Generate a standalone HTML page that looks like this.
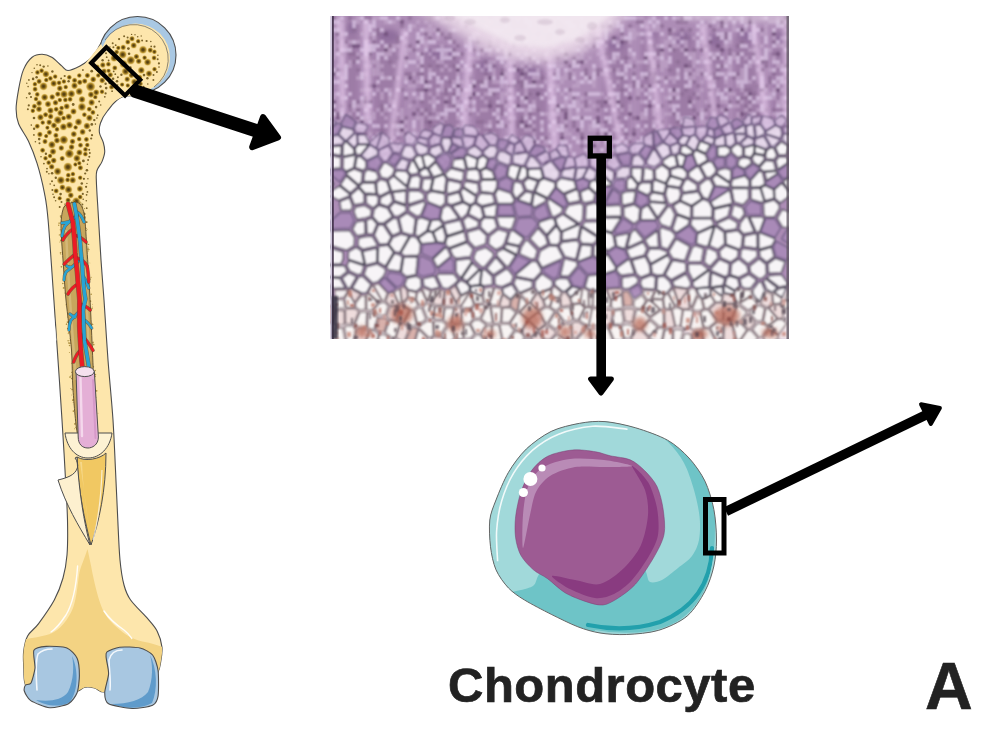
<!DOCTYPE html>
<html><head><meta charset="utf-8"><style>
html,body{margin:0;padding:0;background:#fff;width:1000px;height:731px;overflow:hidden}
svg{position:absolute;left:0;top:0}
.t{position:absolute;font-family:"Liberation Sans",sans-serif;font-weight:bold;color:#222;line-height:1;white-space:nowrap}
</style></head><body>
<svg width="1000" height="731" viewBox="0 0 1000 731"><defs><clipPath id="hc"><rect x="330.5" y="16" width="458.5" height="322.7"/></clipPath><filter id="bl6" x="-50%" y="-50%" width="200%" height="200%"><feGaussianBlur stdDeviation="6"/></filter><filter id="bl3" x="-50%" y="-50%" width="200%" height="200%"><feGaussianBlur stdDeviation="2.5"/></filter><filter id="bl1" x="-10%" y="-10%" width="120%" height="120%"><feGaussianBlur stdDeviation="0.9"/></filter><filter id="bl05" x="-5%" y="-5%" width="110%" height="110%"><feGaussianBlur stdDeviation="0.8"/></filter></defs><g clip-path="url(#hc)"><rect x="330.5" y="16" width="458.5" height="322.7" fill="#ad8db6"/><g opacity="0.45" filter="url(#bl3)"><rect x="345" y="20" width="14" height="130" rx="7" fill="#8b6894"/><ellipse cx="352" cy="28" rx="4.9" ry="6" fill="#6c4a80"/><rect x="373" y="28" width="30" height="122" rx="15" fill="#8b6894"/><ellipse cx="388" cy="36" rx="10.5" ry="6" fill="#6c4a80"/><rect x="420" y="45" width="40" height="105" rx="20" fill="#8b6894"/><ellipse cx="440" cy="53" rx="14" ry="6" fill="#6c4a80"/><rect x="474" y="58" width="26" height="92" rx="13" fill="#8b6894"/><ellipse cx="487" cy="66" rx="9.1" ry="6" fill="#6c4a80"/><rect x="513" y="64" width="34" height="86" rx="17" fill="#8b6894"/><ellipse cx="530" cy="72" rx="11.9" ry="6" fill="#6c4a80"/><rect x="603" y="36" width="26" height="114" rx="13" fill="#8b6894"/><ellipse cx="616" cy="44" rx="9.1" ry="6" fill="#6c4a80"/><rect x="641" y="26" width="18" height="124" rx="9" fill="#8b6894"/><ellipse cx="650" cy="34" rx="6.3" ry="6" fill="#6c4a80"/><rect x="669" y="30" width="26" height="120" rx="13" fill="#8b6894"/><ellipse cx="682" cy="38" rx="9.1" ry="6" fill="#6c4a80"/><rect x="705" y="32" width="20" height="118" rx="10" fill="#8b6894"/><ellipse cx="715" cy="40" rx="7" ry="6" fill="#6c4a80"/><rect x="734" y="28" width="28" height="122" rx="14" fill="#8b6894"/><ellipse cx="748" cy="36" rx="9.8" ry="6" fill="#6c4a80"/><rect x="772" y="30" width="16" height="120" rx="8" fill="#8b6894"/><ellipse cx="780" cy="38" rx="5.6" ry="6" fill="#6c4a80"/></g><g opacity="0.7" filter="url(#bl05)"><path fill="#8c6c94" d="M332 16h4v4h-4zM348 16h4v4h-4zM364 16h4v4h-4zM368 16h4v4h-4zM408 16h4v4h-4zM444 16h4v4h-4zM452 16h4v4h-4zM460 16h4v4h-4zM488 16h4v4h-4zM680 16h4v4h-4zM748 16h4v4h-4zM456 20h4v4h-4zM476 20h4v4h-4zM512 20h4v4h-4zM520 20h4v4h-4zM548 20h4v4h-4zM572 20h4v4h-4zM576 20h4v4h-4zM600 20h4v4h-4zM636 20h4v4h-4zM640 20h4v4h-4zM676 20h4v4h-4zM680 20h4v4h-4zM684 20h4v4h-4zM780 20h4v4h-4zM400 24h4v4h-4zM512 24h4v4h-4zM516 24h4v4h-4zM520 24h4v4h-4zM524 24h4v4h-4zM556 24h4v4h-4zM560 24h4v4h-4zM576 24h4v4h-4zM608 24h4v4h-4zM628 24h4v4h-4zM660 24h4v4h-4zM708 24h4v4h-4zM720 24h4v4h-4zM784 24h4v4h-4zM352 28h4v4h-4zM376 28h4v4h-4zM564 28h4v4h-4zM648 28h4v4h-4zM680 28h4v4h-4zM688 28h4v4h-4zM712 28h4v4h-4zM760 28h4v4h-4zM376 32h4v4h-4zM424 32h4v4h-4zM440 32h4v4h-4zM448 32h4v4h-4zM536 32h4v4h-4zM548 32h4v4h-4zM588 32h4v4h-4zM620 32h4v4h-4zM668 32h4v4h-4zM724 32h4v4h-4zM784 32h4v4h-4zM368 36h4v4h-4zM396 36h4v4h-4zM428 36h4v4h-4zM444 36h4v4h-4zM448 36h4v4h-4zM520 36h4v4h-4zM564 36h4v4h-4zM592 36h4v4h-4zM684 36h4v4h-4zM716 36h4v4h-4zM724 36h4v4h-4zM336 40h4v4h-4zM344 40h4v4h-4zM372 40h4v4h-4zM396 40h4v4h-4zM452 40h4v4h-4zM476 40h4v4h-4zM488 40h4v4h-4zM504 40h4v4h-4zM512 40h4v4h-4zM532 40h4v4h-4zM624 40h4v4h-4zM740 40h4v4h-4zM772 40h4v4h-4zM784 40h4v4h-4zM388 44h4v4h-4zM408 44h4v4h-4zM456 44h4v4h-4zM488 44h4v4h-4zM524 44h4v4h-4zM592 44h4v4h-4zM652 44h4v4h-4zM668 44h4v4h-4zM704 44h4v4h-4zM736 44h4v4h-4zM756 44h4v4h-4zM784 44h4v4h-4zM336 48h4v4h-4zM412 48h4v4h-4zM452 48h4v4h-4zM472 48h4v4h-4zM480 48h4v4h-4zM552 48h4v4h-4zM656 48h4v4h-4zM672 48h4v4h-4zM692 48h4v4h-4zM728 48h4v4h-4zM340 52h4v4h-4zM348 52h4v4h-4zM352 52h4v4h-4zM420 52h4v4h-4zM460 52h4v4h-4zM548 52h4v4h-4zM604 52h4v4h-4zM656 52h4v4h-4zM728 52h4v4h-4zM736 52h4v4h-4zM752 52h4v4h-4zM772 52h4v4h-4zM788 52h4v4h-4zM356 56h4v4h-4zM368 56h4v4h-4zM396 56h4v4h-4zM452 56h4v4h-4zM528 56h4v4h-4zM556 56h4v4h-4zM572 56h4v4h-4zM624 56h4v4h-4zM708 56h4v4h-4zM716 56h4v4h-4zM352 60h4v4h-4zM388 60h4v4h-4zM484 60h4v4h-4zM544 60h4v4h-4zM576 60h4v4h-4zM676 60h4v4h-4zM764 60h4v4h-4zM420 64h4v4h-4zM428 64h4v4h-4zM436 64h4v4h-4zM452 64h4v4h-4zM472 64h4v4h-4zM492 64h4v4h-4zM512 64h4v4h-4zM568 64h4v4h-4zM632 64h4v4h-4zM648 64h4v4h-4zM656 64h4v4h-4zM688 64h4v4h-4zM720 64h4v4h-4zM764 64h4v4h-4zM336 68h4v4h-4zM340 68h4v4h-4zM356 68h4v4h-4zM500 68h4v4h-4zM520 68h4v4h-4zM584 68h4v4h-4zM596 68h4v4h-4zM600 68h4v4h-4zM612 68h4v4h-4zM668 68h4v4h-4zM716 68h4v4h-4zM404 72h4v4h-4zM408 72h4v4h-4zM416 72h4v4h-4zM420 72h4v4h-4zM484 72h4v4h-4zM524 72h4v4h-4zM552 72h4v4h-4zM568 72h4v4h-4zM584 72h4v4h-4zM596 72h4v4h-4zM632 72h4v4h-4zM648 72h4v4h-4zM688 72h4v4h-4zM700 72h4v4h-4zM708 72h4v4h-4zM712 72h4v4h-4zM736 72h4v4h-4zM772 72h4v4h-4zM392 76h4v4h-4zM468 76h4v4h-4zM540 76h4v4h-4zM568 76h4v4h-4zM588 76h4v4h-4zM620 76h4v4h-4zM644 76h4v4h-4zM664 76h4v4h-4zM712 76h4v4h-4zM716 76h4v4h-4zM732 76h4v4h-4zM768 76h4v4h-4zM412 80h4v4h-4zM448 80h4v4h-4zM476 80h4v4h-4zM480 80h4v4h-4zM516 80h4v4h-4zM520 80h4v4h-4zM632 80h4v4h-4zM656 80h4v4h-4zM692 80h4v4h-4zM768 80h4v4h-4zM368 84h4v4h-4zM512 84h4v4h-4zM520 84h4v4h-4zM632 84h4v4h-4zM640 84h4v4h-4zM696 84h4v4h-4zM756 84h4v4h-4zM764 84h4v4h-4zM400 88h4v4h-4zM416 88h4v4h-4zM420 88h4v4h-4zM444 88h4v4h-4zM460 88h4v4h-4zM568 88h4v4h-4zM620 88h4v4h-4zM684 88h4v4h-4zM744 88h4v4h-4zM748 88h4v4h-4zM444 92h4v4h-4zM452 92h4v4h-4zM492 92h4v4h-4zM508 92h4v4h-4zM528 92h4v4h-4zM584 92h4v4h-4zM680 92h4v4h-4zM692 92h4v4h-4zM752 92h4v4h-4zM364 96h4v4h-4zM404 96h4v4h-4zM572 96h4v4h-4zM608 96h4v4h-4zM636 96h4v4h-4zM672 96h4v4h-4zM688 96h4v4h-4zM696 96h4v4h-4zM740 96h4v4h-4zM744 96h4v4h-4zM356 100h4v4h-4zM412 100h4v4h-4zM420 100h4v4h-4zM448 100h4v4h-4zM488 100h4v4h-4zM504 100h4v4h-4zM584 100h4v4h-4zM596 100h4v4h-4zM600 100h4v4h-4zM668 100h4v4h-4zM728 100h4v4h-4zM736 100h4v4h-4zM748 100h4v4h-4zM340 104h4v4h-4zM348 104h4v4h-4zM380 104h4v4h-4zM452 104h4v4h-4zM468 104h4v4h-4zM496 104h4v4h-4zM500 104h4v4h-4zM584 104h4v4h-4zM600 104h4v4h-4zM608 104h4v4h-4zM620 104h4v4h-4zM660 104h4v4h-4zM744 104h4v4h-4zM332 108h4v4h-4zM356 108h4v4h-4zM380 108h4v4h-4zM416 108h4v4h-4zM424 108h4v4h-4zM464 108h4v4h-4zM500 108h4v4h-4zM536 108h4v4h-4zM552 108h4v4h-4zM560 108h4v4h-4zM564 108h4v4h-4zM596 108h4v4h-4zM692 108h4v4h-4zM704 108h4v4h-4zM712 108h4v4h-4zM748 108h4v4h-4zM764 108h4v4h-4zM772 108h4v4h-4zM780 108h4v4h-4zM420 112h4v4h-4zM428 112h4v4h-4zM468 112h4v4h-4zM500 112h4v4h-4zM528 112h4v4h-4zM672 112h4v4h-4zM696 112h4v4h-4zM744 112h4v4h-4zM756 112h4v4h-4zM344 116h4v4h-4zM348 116h4v4h-4zM356 116h4v4h-4zM404 116h4v4h-4zM520 116h4v4h-4zM556 116h4v4h-4zM580 116h4v4h-4zM632 116h4v4h-4zM768 116h4v4h-4zM344 120h4v4h-4zM392 120h4v4h-4zM396 120h4v4h-4zM424 120h4v4h-4zM476 120h4v4h-4zM480 120h4v4h-4zM496 120h4v4h-4zM508 120h4v4h-4zM516 120h4v4h-4zM556 120h4v4h-4zM572 120h4v4h-4zM604 120h4v4h-4zM660 120h4v4h-4zM676 120h4v4h-4zM428 124h4v4h-4zM444 124h4v4h-4zM504 124h4v4h-4zM516 124h4v4h-4zM528 124h4v4h-4zM564 124h4v4h-4zM572 124h4v4h-4zM680 124h4v4h-4zM684 124h4v4h-4zM708 124h4v4h-4zM736 124h4v4h-4zM744 124h4v4h-4zM344 128h4v4h-4zM352 128h4v4h-4zM356 128h4v4h-4zM380 128h4v4h-4zM392 128h4v4h-4zM456 128h4v4h-4zM488 128h4v4h-4zM532 128h4v4h-4zM632 128h4v4h-4zM652 128h4v4h-4zM784 128h4v4h-4zM364 132h4v4h-4zM404 132h4v4h-4zM560 132h4v4h-4zM580 132h4v4h-4zM596 132h4v4h-4zM624 132h4v4h-4zM652 132h4v4h-4zM656 132h4v4h-4zM660 132h4v4h-4zM672 132h4v4h-4zM696 132h4v4h-4zM780 132h4v4h-4zM356 136h4v4h-4zM388 136h4v4h-4zM472 136h4v4h-4zM480 136h4v4h-4zM492 136h4v4h-4zM544 136h4v4h-4zM600 136h4v4h-4zM648 136h4v4h-4zM676 136h4v4h-4zM700 136h4v4h-4zM744 136h4v4h-4zM340 140h4v4h-4zM356 140h4v4h-4zM424 140h4v4h-4zM432 140h4v4h-4zM500 140h4v4h-4zM508 140h4v4h-4zM516 140h4v4h-4zM620 140h4v4h-4zM628 140h4v4h-4zM668 140h4v4h-4zM732 140h4v4h-4zM396 144h4v4h-4zM448 144h4v4h-4zM472 144h4v4h-4zM484 144h4v4h-4zM524 144h4v4h-4zM548 144h4v4h-4zM580 144h4v4h-4zM648 144h4v4h-4zM716 144h4v4h-4zM728 144h4v4h-4zM760 144h4v4h-4zM776 144h4v4h-4zM340 148h4v4h-4zM372 148h4v4h-4zM428 148h4v4h-4zM452 148h4v4h-4zM492 148h4v4h-4zM516 148h4v4h-4zM524 148h4v4h-4zM536 148h4v4h-4zM656 148h4v4h-4zM740 148h4v4h-4zM768 148h4v4h-4zM772 148h4v4h-4zM364 152h4v4h-4zM372 152h4v4h-4zM392 152h4v4h-4zM416 152h4v4h-4zM500 152h4v4h-4zM520 152h4v4h-4zM552 152h4v4h-4zM600 152h4v4h-4zM616 152h4v4h-4zM632 152h4v4h-4zM424 156h4v4h-4zM436 156h4v4h-4zM440 156h4v4h-4zM516 156h4v4h-4zM544 156h4v4h-4zM584 156h4v4h-4zM428 160h4v4h-4zM444 160h4v4h-4zM532 160h4v4h-4zM588 160h4v4h-4zM608 160h4v4h-4zM620 160h4v4h-4zM644 160h4v4h-4zM408 164h4v4h-4zM588 164h4v4h-4zM380 168h4v4h-4zM388 168h4v4h-4zM548 168h4v4h-4zM552 168h4v4h-4zM596 168h4v4h-4zM632 168h4v4h-4zM520 172h4v4h-4zM572 172h4v4h-4zM592 172h4v4h-4zM616 172h4v4h-4zM400 176h4v4h-4zM536 176h4v4h-4zM548 176h4v4h-4zM580 176h4v4h-4zM588 176h4v4h-4zM596 176h4v4h-4zM612 176h4v4h-4z"/><path fill="#c0a4c8" d="M336 16h4v4h-4zM356 16h4v4h-4zM372 16h4v4h-4zM376 16h4v4h-4zM432 16h4v4h-4zM448 16h4v4h-4zM484 16h4v4h-4zM496 16h4v4h-4zM504 16h4v4h-4zM516 16h4v4h-4zM532 16h4v4h-4zM560 16h4v4h-4zM572 16h4v4h-4zM576 16h4v4h-4zM588 16h4v4h-4zM592 16h4v4h-4zM620 16h4v4h-4zM636 16h4v4h-4zM640 16h4v4h-4zM648 16h4v4h-4zM676 16h4v4h-4zM696 16h4v4h-4zM712 16h4v4h-4zM720 16h4v4h-4zM736 16h4v4h-4zM760 16h4v4h-4zM776 16h4v4h-4zM788 16h4v4h-4zM356 20h4v4h-4zM384 20h4v4h-4zM392 20h4v4h-4zM416 20h4v4h-4zM424 20h4v4h-4zM440 20h4v4h-4zM444 20h4v4h-4zM532 20h4v4h-4zM552 20h4v4h-4zM580 20h4v4h-4zM584 20h4v4h-4zM612 20h4v4h-4zM644 20h4v4h-4zM652 20h4v4h-4zM708 20h4v4h-4zM724 20h4v4h-4zM744 20h4v4h-4zM752 20h4v4h-4zM768 20h4v4h-4zM772 20h4v4h-4zM336 24h4v4h-4zM412 24h4v4h-4zM428 24h4v4h-4zM460 24h4v4h-4zM532 24h4v4h-4zM548 24h4v4h-4zM552 24h4v4h-4zM612 24h4v4h-4zM644 24h4v4h-4zM656 24h4v4h-4zM700 24h4v4h-4zM704 24h4v4h-4zM716 24h4v4h-4zM732 24h4v4h-4zM764 24h4v4h-4zM788 24h4v4h-4zM424 28h4v4h-4zM428 28h4v4h-4zM432 28h4v4h-4zM448 28h4v4h-4zM456 28h4v4h-4zM476 28h4v4h-4zM504 28h4v4h-4zM508 28h4v4h-4zM516 28h4v4h-4zM532 28h4v4h-4zM544 28h4v4h-4zM560 28h4v4h-4zM568 28h4v4h-4zM584 28h4v4h-4zM600 28h4v4h-4zM608 28h4v4h-4zM628 28h4v4h-4zM632 28h4v4h-4zM652 28h4v4h-4zM656 28h4v4h-4zM672 28h4v4h-4zM700 28h4v4h-4zM732 28h4v4h-4zM744 28h4v4h-4zM764 28h4v4h-4zM340 32h4v4h-4zM360 32h4v4h-4zM428 32h4v4h-4zM564 32h4v4h-4zM632 32h4v4h-4zM636 32h4v4h-4zM644 32h4v4h-4zM680 32h4v4h-4zM760 32h4v4h-4zM764 32h4v4h-4zM372 36h4v4h-4zM436 36h4v4h-4zM516 36h4v4h-4zM532 36h4v4h-4zM540 36h4v4h-4zM552 36h4v4h-4zM560 36h4v4h-4zM580 36h4v4h-4zM584 36h4v4h-4zM620 36h4v4h-4zM632 36h4v4h-4zM672 36h4v4h-4zM676 36h4v4h-4zM692 36h4v4h-4zM708 36h4v4h-4zM772 36h4v4h-4zM780 36h4v4h-4zM784 36h4v4h-4zM332 40h4v4h-4zM340 40h4v4h-4zM348 40h4v4h-4zM356 40h4v4h-4zM404 40h4v4h-4zM424 40h4v4h-4zM464 40h4v4h-4zM492 40h4v4h-4zM500 40h4v4h-4zM568 40h4v4h-4zM588 40h4v4h-4zM616 40h4v4h-4zM628 40h4v4h-4zM640 40h4v4h-4zM664 40h4v4h-4zM668 40h4v4h-4zM684 40h4v4h-4zM700 40h4v4h-4zM728 40h4v4h-4zM332 44h4v4h-4zM340 44h4v4h-4zM344 44h4v4h-4zM392 44h4v4h-4zM396 44h4v4h-4zM424 44h4v4h-4zM440 44h4v4h-4zM476 44h4v4h-4zM480 44h4v4h-4zM484 44h4v4h-4zM504 44h4v4h-4zM508 44h4v4h-4zM516 44h4v4h-4zM520 44h4v4h-4zM580 44h4v4h-4zM588 44h4v4h-4zM604 44h4v4h-4zM656 44h4v4h-4zM664 44h4v4h-4zM672 44h4v4h-4zM676 44h4v4h-4zM684 44h4v4h-4zM724 44h4v4h-4zM760 44h4v4h-4zM776 44h4v4h-4zM780 44h4v4h-4zM332 48h4v4h-4zM388 48h4v4h-4zM404 48h4v4h-4zM408 48h4v4h-4zM432 48h4v4h-4zM476 48h4v4h-4zM524 48h4v4h-4zM572 48h4v4h-4zM580 48h4v4h-4zM584 48h4v4h-4zM680 48h4v4h-4zM704 48h4v4h-4zM748 48h4v4h-4zM752 48h4v4h-4zM768 48h4v4h-4zM332 52h4v4h-4zM356 52h4v4h-4zM384 52h4v4h-4zM388 52h4v4h-4zM404 52h4v4h-4zM428 52h4v4h-4zM444 52h4v4h-4zM480 52h4v4h-4zM488 52h4v4h-4zM512 52h4v4h-4zM520 52h4v4h-4zM528 52h4v4h-4zM580 52h4v4h-4zM596 52h4v4h-4zM628 52h4v4h-4zM660 52h4v4h-4zM688 52h4v4h-4zM692 52h4v4h-4zM712 52h4v4h-4zM732 52h4v4h-4zM332 56h4v4h-4zM360 56h4v4h-4zM364 56h4v4h-4zM416 56h4v4h-4zM432 56h4v4h-4zM468 56h4v4h-4zM472 56h4v4h-4zM476 56h4v4h-4zM508 56h4v4h-4zM512 56h4v4h-4zM516 56h4v4h-4zM524 56h4v4h-4zM536 56h4v4h-4zM544 56h4v4h-4zM564 56h4v4h-4zM576 56h4v4h-4zM580 56h4v4h-4zM588 56h4v4h-4zM600 56h4v4h-4zM616 56h4v4h-4zM632 56h4v4h-4zM648 56h4v4h-4zM656 56h4v4h-4zM692 56h4v4h-4zM700 56h4v4h-4zM732 56h4v4h-4zM744 56h4v4h-4zM772 56h4v4h-4zM348 60h4v4h-4zM372 60h4v4h-4zM376 60h4v4h-4zM404 60h4v4h-4zM436 60h4v4h-4zM440 60h4v4h-4zM488 60h4v4h-4zM492 60h4v4h-4zM508 60h4v4h-4zM512 60h4v4h-4zM524 60h4v4h-4zM552 60h4v4h-4zM584 60h4v4h-4zM604 60h4v4h-4zM612 60h4v4h-4zM628 60h4v4h-4zM636 60h4v4h-4zM640 60h4v4h-4zM652 60h4v4h-4zM660 60h4v4h-4zM664 60h4v4h-4zM692 60h4v4h-4zM700 60h4v4h-4zM708 60h4v4h-4zM724 60h4v4h-4zM752 60h4v4h-4zM336 64h4v4h-4zM348 64h4v4h-4zM364 64h4v4h-4zM368 64h4v4h-4zM376 64h4v4h-4zM380 64h4v4h-4zM392 64h4v4h-4zM416 64h4v4h-4zM444 64h4v4h-4zM484 64h4v4h-4zM504 64h4v4h-4zM520 64h4v4h-4zM528 64h4v4h-4zM556 64h4v4h-4zM560 64h4v4h-4zM652 64h4v4h-4zM660 64h4v4h-4zM664 64h4v4h-4zM692 64h4v4h-4zM728 64h4v4h-4zM748 64h4v4h-4zM776 64h4v4h-4zM780 64h4v4h-4zM372 68h4v4h-4zM376 68h4v4h-4zM428 68h4v4h-4zM440 68h4v4h-4zM448 68h4v4h-4zM460 68h4v4h-4zM464 68h4v4h-4zM480 68h4v4h-4zM492 68h4v4h-4zM524 68h4v4h-4zM536 68h4v4h-4zM568 68h4v4h-4zM592 68h4v4h-4zM608 68h4v4h-4zM616 68h4v4h-4zM660 68h4v4h-4zM684 68h4v4h-4zM688 68h4v4h-4zM696 68h4v4h-4zM700 68h4v4h-4zM728 68h4v4h-4zM740 68h4v4h-4zM756 68h4v4h-4zM768 68h4v4h-4zM364 72h4v4h-4zM372 72h4v4h-4zM376 72h4v4h-4zM380 72h4v4h-4zM412 72h4v4h-4zM456 72h4v4h-4zM492 72h4v4h-4zM504 72h4v4h-4zM548 72h4v4h-4zM564 72h4v4h-4zM572 72h4v4h-4zM600 72h4v4h-4zM604 72h4v4h-4zM624 72h4v4h-4zM676 72h4v4h-4zM692 72h4v4h-4zM696 72h4v4h-4zM724 72h4v4h-4zM740 72h4v4h-4zM760 72h4v4h-4zM784 72h4v4h-4zM340 76h4v4h-4zM356 76h4v4h-4zM384 76h4v4h-4zM396 76h4v4h-4zM404 76h4v4h-4zM484 76h4v4h-4zM520 76h4v4h-4zM532 76h4v4h-4zM536 76h4v4h-4zM560 76h4v4h-4zM564 76h4v4h-4zM640 76h4v4h-4zM660 76h4v4h-4zM668 76h4v4h-4zM672 76h4v4h-4zM688 76h4v4h-4zM692 76h4v4h-4zM704 76h4v4h-4zM736 76h4v4h-4zM740 76h4v4h-4zM416 80h4v4h-4zM452 80h4v4h-4zM460 80h4v4h-4zM492 80h4v4h-4zM496 80h4v4h-4zM544 80h4v4h-4zM560 80h4v4h-4zM576 80h4v4h-4zM584 80h4v4h-4zM592 80h4v4h-4zM608 80h4v4h-4zM616 80h4v4h-4zM672 80h4v4h-4zM700 80h4v4h-4zM712 80h4v4h-4zM724 80h4v4h-4zM748 80h4v4h-4zM776 80h4v4h-4zM784 80h4v4h-4zM408 84h4v4h-4zM412 84h4v4h-4zM440 84h4v4h-4zM500 84h4v4h-4zM536 84h4v4h-4zM548 84h4v4h-4zM552 84h4v4h-4zM556 84h4v4h-4zM572 84h4v4h-4zM576 84h4v4h-4zM592 84h4v4h-4zM628 84h4v4h-4zM644 84h4v4h-4zM708 84h4v4h-4zM736 84h4v4h-4zM360 88h4v4h-4zM364 88h4v4h-4zM368 88h4v4h-4zM376 88h4v4h-4zM388 88h4v4h-4zM440 88h4v4h-4zM508 88h4v4h-4zM524 88h4v4h-4zM636 88h4v4h-4zM640 88h4v4h-4zM700 88h4v4h-4zM716 88h4v4h-4zM740 88h4v4h-4zM764 88h4v4h-4zM772 88h4v4h-4zM780 88h4v4h-4zM332 92h4v4h-4zM380 92h4v4h-4zM428 92h4v4h-4zM436 92h4v4h-4zM460 92h4v4h-4zM468 92h4v4h-4zM484 92h4v4h-4zM500 92h4v4h-4zM504 92h4v4h-4zM524 92h4v4h-4zM560 92h4v4h-4zM568 92h4v4h-4zM600 92h4v4h-4zM636 92h4v4h-4zM648 92h4v4h-4zM668 92h4v4h-4zM672 92h4v4h-4zM676 92h4v4h-4zM696 92h4v4h-4zM708 92h4v4h-4zM728 92h4v4h-4zM732 92h4v4h-4zM744 92h4v4h-4zM760 92h4v4h-4zM768 92h4v4h-4zM332 96h4v4h-4zM340 96h4v4h-4zM380 96h4v4h-4zM388 96h4v4h-4zM416 96h4v4h-4zM432 96h4v4h-4zM444 96h4v4h-4zM460 96h4v4h-4zM480 96h4v4h-4zM500 96h4v4h-4zM512 96h4v4h-4zM568 96h4v4h-4zM580 96h4v4h-4zM604 96h4v4h-4zM664 96h4v4h-4zM760 96h4v4h-4zM772 96h4v4h-4zM780 96h4v4h-4zM360 100h4v4h-4zM388 100h4v4h-4zM392 100h4v4h-4zM428 100h4v4h-4zM432 100h4v4h-4zM456 100h4v4h-4zM484 100h4v4h-4zM500 100h4v4h-4zM520 100h4v4h-4zM532 100h4v4h-4zM564 100h4v4h-4zM576 100h4v4h-4zM588 100h4v4h-4zM608 100h4v4h-4zM640 100h4v4h-4zM692 100h4v4h-4zM704 100h4v4h-4zM720 100h4v4h-4zM724 100h4v4h-4zM740 100h4v4h-4zM756 100h4v4h-4zM776 100h4v4h-4zM780 100h4v4h-4zM356 104h4v4h-4zM360 104h4v4h-4zM364 104h4v4h-4zM408 104h4v4h-4zM444 104h4v4h-4zM472 104h4v4h-4zM504 104h4v4h-4zM564 104h4v4h-4zM576 104h4v4h-4zM580 104h4v4h-4zM592 104h4v4h-4zM628 104h4v4h-4zM668 104h4v4h-4zM732 104h4v4h-4zM736 104h4v4h-4zM748 104h4v4h-4zM780 104h4v4h-4zM784 104h4v4h-4zM340 108h4v4h-4zM352 108h4v4h-4zM376 108h4v4h-4zM384 108h4v4h-4zM400 108h4v4h-4zM420 108h4v4h-4zM432 108h4v4h-4zM468 108h4v4h-4zM480 108h4v4h-4zM484 108h4v4h-4zM524 108h4v4h-4zM532 108h4v4h-4zM568 108h4v4h-4zM584 108h4v4h-4zM588 108h4v4h-4zM620 108h4v4h-4zM628 108h4v4h-4zM652 108h4v4h-4zM656 108h4v4h-4zM700 108h4v4h-4zM720 108h4v4h-4zM744 108h4v4h-4zM756 108h4v4h-4zM788 108h4v4h-4zM348 112h4v4h-4zM372 112h4v4h-4zM380 112h4v4h-4zM396 112h4v4h-4zM400 112h4v4h-4zM424 112h4v4h-4zM436 112h4v4h-4zM476 112h4v4h-4zM496 112h4v4h-4zM524 112h4v4h-4zM544 112h4v4h-4zM548 112h4v4h-4zM552 112h4v4h-4zM556 112h4v4h-4zM568 112h4v4h-4zM576 112h4v4h-4zM640 112h4v4h-4zM652 112h4v4h-4zM664 112h4v4h-4zM668 112h4v4h-4zM704 112h4v4h-4zM712 112h4v4h-4zM736 112h4v4h-4zM748 112h4v4h-4zM772 112h4v4h-4zM788 112h4v4h-4zM340 116h4v4h-4zM364 116h4v4h-4zM368 116h4v4h-4zM372 116h4v4h-4zM384 116h4v4h-4zM400 116h4v4h-4zM416 116h4v4h-4zM420 116h4v4h-4zM428 116h4v4h-4zM432 116h4v4h-4zM444 116h4v4h-4zM456 116h4v4h-4zM508 116h4v4h-4zM512 116h4v4h-4zM548 116h4v4h-4zM568 116h4v4h-4zM640 116h4v4h-4zM644 116h4v4h-4zM680 116h4v4h-4zM712 116h4v4h-4zM736 116h4v4h-4zM788 116h4v4h-4zM336 120h4v4h-4zM356 120h4v4h-4zM364 120h4v4h-4zM404 120h4v4h-4zM420 120h4v4h-4zM440 120h4v4h-4zM488 120h4v4h-4zM564 120h4v4h-4zM652 120h4v4h-4zM656 120h4v4h-4zM692 120h4v4h-4zM700 120h4v4h-4zM704 120h4v4h-4zM720 120h4v4h-4zM740 120h4v4h-4zM344 124h4v4h-4zM392 124h4v4h-4zM420 124h4v4h-4zM436 124h4v4h-4zM456 124h4v4h-4zM464 124h4v4h-4zM484 124h4v4h-4zM532 124h4v4h-4zM540 124h4v4h-4zM556 124h4v4h-4zM588 124h4v4h-4zM600 124h4v4h-4zM616 124h4v4h-4zM660 124h4v4h-4zM668 124h4v4h-4zM692 124h4v4h-4zM704 124h4v4h-4zM752 124h4v4h-4zM772 124h4v4h-4zM776 124h4v4h-4zM396 128h4v4h-4zM404 128h4v4h-4zM412 128h4v4h-4zM420 128h4v4h-4zM432 128h4v4h-4zM476 128h4v4h-4zM524 128h4v4h-4zM528 128h4v4h-4zM548 128h4v4h-4zM564 128h4v4h-4zM580 128h4v4h-4zM588 128h4v4h-4zM592 128h4v4h-4zM612 128h4v4h-4zM616 128h4v4h-4zM640 128h4v4h-4zM656 128h4v4h-4zM696 128h4v4h-4zM708 128h4v4h-4zM720 128h4v4h-4zM724 128h4v4h-4zM732 128h4v4h-4zM744 128h4v4h-4zM776 128h4v4h-4zM340 132h4v4h-4zM352 132h4v4h-4zM368 132h4v4h-4zM376 132h4v4h-4zM400 132h4v4h-4zM408 132h4v4h-4zM416 132h4v4h-4zM424 132h4v4h-4zM468 132h4v4h-4zM484 132h4v4h-4zM492 132h4v4h-4zM532 132h4v4h-4zM552 132h4v4h-4zM564 132h4v4h-4zM568 132h4v4h-4zM600 132h4v4h-4zM680 132h4v4h-4zM712 132h4v4h-4zM740 132h4v4h-4zM772 132h4v4h-4zM784 132h4v4h-4zM788 132h4v4h-4zM340 136h4v4h-4zM344 136h4v4h-4zM352 136h4v4h-4zM360 136h4v4h-4zM384 136h4v4h-4zM392 136h4v4h-4zM404 136h4v4h-4zM412 136h4v4h-4zM420 136h4v4h-4zM440 136h4v4h-4zM444 136h4v4h-4zM456 136h4v4h-4zM520 136h4v4h-4zM576 136h4v4h-4zM628 136h4v4h-4zM664 136h4v4h-4zM672 136h4v4h-4zM680 136h4v4h-4zM780 136h4v4h-4zM336 140h4v4h-4zM368 140h4v4h-4zM376 140h4v4h-4zM396 140h4v4h-4zM428 140h4v4h-4zM440 140h4v4h-4zM492 140h4v4h-4zM496 140h4v4h-4zM520 140h4v4h-4zM544 140h4v4h-4zM588 140h4v4h-4zM596 140h4v4h-4zM644 140h4v4h-4zM648 140h4v4h-4zM656 140h4v4h-4zM684 140h4v4h-4zM688 140h4v4h-4zM780 140h4v4h-4zM364 144h4v4h-4zM376 144h4v4h-4zM492 144h4v4h-4zM504 144h4v4h-4zM520 144h4v4h-4zM528 144h4v4h-4zM552 144h4v4h-4zM604 144h4v4h-4zM624 144h4v4h-4zM660 144h4v4h-4zM668 144h4v4h-4zM676 144h4v4h-4zM712 144h4v4h-4zM724 144h4v4h-4zM732 144h4v4h-4zM736 144h4v4h-4zM740 144h4v4h-4zM752 144h4v4h-4zM344 148h4v4h-4zM356 148h4v4h-4zM388 148h4v4h-4zM400 148h4v4h-4zM412 148h4v4h-4zM420 148h4v4h-4zM424 148h4v4h-4zM432 148h4v4h-4zM488 148h4v4h-4zM496 148h4v4h-4zM504 148h4v4h-4zM508 148h4v4h-4zM512 148h4v4h-4zM528 148h4v4h-4zM540 148h4v4h-4zM568 148h4v4h-4zM592 148h4v4h-4zM756 148h4v4h-4zM368 152h4v4h-4zM404 152h4v4h-4zM408 152h4v4h-4zM436 152h4v4h-4zM444 152h4v4h-4zM448 152h4v4h-4zM456 152h4v4h-4zM464 152h4v4h-4zM508 152h4v4h-4zM544 152h4v4h-4zM640 152h4v4h-4zM660 152h4v4h-4zM672 152h4v4h-4zM676 152h4v4h-4zM400 156h4v4h-4zM404 156h4v4h-4zM412 156h4v4h-4zM420 156h4v4h-4zM432 156h4v4h-4zM468 156h4v4h-4zM480 156h4v4h-4zM484 156h4v4h-4zM492 156h4v4h-4zM512 156h4v4h-4zM548 156h4v4h-4zM572 156h4v4h-4zM624 156h4v4h-4zM640 156h4v4h-4zM672 156h4v4h-4zM396 160h4v4h-4zM424 160h4v4h-4zM480 160h4v4h-4zM496 160h4v4h-4zM504 160h4v4h-4zM536 160h4v4h-4zM564 160h4v4h-4zM568 160h4v4h-4zM572 160h4v4h-4zM592 160h4v4h-4zM384 164h4v4h-4zM488 164h4v4h-4zM496 164h4v4h-4zM528 164h4v4h-4zM612 164h4v4h-4zM644 164h4v4h-4zM376 168h4v4h-4zM396 168h4v4h-4zM520 168h4v4h-4zM536 168h4v4h-4zM588 168h4v4h-4zM620 168h4v4h-4zM388 172h4v4h-4zM392 172h4v4h-4zM404 172h4v4h-4zM524 172h4v4h-4zM532 172h4v4h-4zM536 172h4v4h-4zM556 172h4v4h-4zM560 172h4v4h-4zM568 172h4v4h-4zM596 172h4v4h-4zM636 172h4v4h-4zM564 176h4v4h-4zM568 176h4v4h-4zM568 180h4v4h-4zM576 180h4v4h-4zM580 180h4v4h-4zM584 180h4v4h-4zM604 184h4v4h-4z"/><path fill="#dcc8e6" d="M340 16h4v4h-4zM360 16h4v4h-4zM380 16h4v4h-4zM384 16h4v4h-4zM396 16h4v4h-4zM436 16h4v4h-4zM476 16h4v4h-4zM524 16h4v4h-4zM540 16h4v4h-4zM548 16h4v4h-4zM556 16h4v4h-4zM580 16h4v4h-4zM624 16h4v4h-4zM628 16h4v4h-4zM632 16h4v4h-4zM652 16h4v4h-4zM664 16h4v4h-4zM672 16h4v4h-4zM684 16h4v4h-4zM688 16h4v4h-4zM716 16h4v4h-4zM728 16h4v4h-4zM740 16h4v4h-4zM764 16h4v4h-4zM332 20h4v4h-4zM336 20h4v4h-4zM352 20h4v4h-4zM364 20h4v4h-4zM372 20h4v4h-4zM388 20h4v4h-4zM460 20h4v4h-4zM464 20h4v4h-4zM488 20h4v4h-4zM504 20h4v4h-4zM524 20h4v4h-4zM528 20h4v4h-4zM564 20h4v4h-4zM568 20h4v4h-4zM608 20h4v4h-4zM616 20h4v4h-4zM648 20h4v4h-4zM656 20h4v4h-4zM700 20h4v4h-4zM712 20h4v4h-4zM732 20h4v4h-4zM740 20h4v4h-4zM776 20h4v4h-4zM352 24h4v4h-4zM368 24h4v4h-4zM372 24h4v4h-4zM408 24h4v4h-4zM484 24h4v4h-4zM504 24h4v4h-4zM528 24h4v4h-4zM540 24h4v4h-4zM568 24h4v4h-4zM572 24h4v4h-4zM580 24h4v4h-4zM616 24h4v4h-4zM620 24h4v4h-4zM640 24h4v4h-4zM652 24h4v4h-4zM696 24h4v4h-4zM724 24h4v4h-4zM744 24h4v4h-4zM752 24h4v4h-4zM776 24h4v4h-4zM780 24h4v4h-4zM332 28h4v4h-4zM336 28h4v4h-4zM368 28h4v4h-4zM380 28h4v4h-4zM408 28h4v4h-4zM420 28h4v4h-4zM452 28h4v4h-4zM492 28h4v4h-4zM496 28h4v4h-4zM500 28h4v4h-4zM548 28h4v4h-4zM596 28h4v4h-4zM604 28h4v4h-4zM620 28h4v4h-4zM736 28h4v4h-4zM752 28h4v4h-4zM756 28h4v4h-4zM772 28h4v4h-4zM344 32h4v4h-4zM372 32h4v4h-4zM404 32h4v4h-4zM416 32h4v4h-4zM436 32h4v4h-4zM472 32h4v4h-4zM476 32h4v4h-4zM496 32h4v4h-4zM524 32h4v4h-4zM560 32h4v4h-4zM584 32h4v4h-4zM596 32h4v4h-4zM604 32h4v4h-4zM628 32h4v4h-4zM640 32h4v4h-4zM648 32h4v4h-4zM660 32h4v4h-4zM696 32h4v4h-4zM716 32h4v4h-4zM720 32h4v4h-4zM728 32h4v4h-4zM740 32h4v4h-4zM748 32h4v4h-4zM752 32h4v4h-4zM788 32h4v4h-4zM400 36h4v4h-4zM416 36h4v4h-4zM420 36h4v4h-4zM468 36h4v4h-4zM472 36h4v4h-4zM492 36h4v4h-4zM512 36h4v4h-4zM604 36h4v4h-4zM624 36h4v4h-4zM628 36h4v4h-4zM668 36h4v4h-4zM700 36h4v4h-4zM720 36h4v4h-4zM728 36h4v4h-4zM748 36h4v4h-4zM752 36h4v4h-4zM764 36h4v4h-4zM788 36h4v4h-4zM352 40h4v4h-4zM364 40h4v4h-4zM380 40h4v4h-4zM420 40h4v4h-4zM428 40h4v4h-4zM432 40h4v4h-4zM448 40h4v4h-4zM468 40h4v4h-4zM508 40h4v4h-4zM516 40h4v4h-4zM524 40h4v4h-4zM576 40h4v4h-4zM584 40h4v4h-4zM596 40h4v4h-4zM600 40h4v4h-4zM612 40h4v4h-4zM648 40h4v4h-4zM672 40h4v4h-4zM680 40h4v4h-4zM696 40h4v4h-4zM724 40h4v4h-4zM752 40h4v4h-4zM764 40h4v4h-4zM776 40h4v4h-4zM364 44h4v4h-4zM368 44h4v4h-4zM372 44h4v4h-4zM376 44h4v4h-4zM384 44h4v4h-4zM416 44h4v4h-4zM464 44h4v4h-4zM468 44h4v4h-4zM500 44h4v4h-4zM528 44h4v4h-4zM552 44h4v4h-4zM596 44h4v4h-4zM616 44h4v4h-4zM660 44h4v4h-4zM696 44h4v4h-4zM740 44h4v4h-4zM744 44h4v4h-4zM772 44h4v4h-4zM340 48h4v4h-4zM344 48h4v4h-4zM348 48h4v4h-4zM360 48h4v4h-4zM364 48h4v4h-4zM368 48h4v4h-4zM372 48h4v4h-4zM392 48h4v4h-4zM424 48h4v4h-4zM436 48h4v4h-4zM440 48h4v4h-4zM444 48h4v4h-4zM448 48h4v4h-4zM468 48h4v4h-4zM484 48h4v4h-4zM488 48h4v4h-4zM496 48h4v4h-4zM504 48h4v4h-4zM532 48h4v4h-4zM560 48h4v4h-4zM576 48h4v4h-4zM628 48h4v4h-4zM668 48h4v4h-4zM764 48h4v4h-4zM784 48h4v4h-4zM336 52h4v4h-4zM364 52h4v4h-4zM376 52h4v4h-4zM380 52h4v4h-4zM416 52h4v4h-4zM440 52h4v4h-4zM452 52h4v4h-4zM456 52h4v4h-4zM476 52h4v4h-4zM504 52h4v4h-4zM516 52h4v4h-4zM524 52h4v4h-4zM544 52h4v4h-4zM612 52h4v4h-4zM616 52h4v4h-4zM632 52h4v4h-4zM644 52h4v4h-4zM648 52h4v4h-4zM652 52h4v4h-4zM684 52h4v4h-4zM708 52h4v4h-4zM716 52h4v4h-4zM740 52h4v4h-4zM764 52h4v4h-4zM376 56h4v4h-4zM384 56h4v4h-4zM420 56h4v4h-4zM440 56h4v4h-4zM444 56h4v4h-4zM448 56h4v4h-4zM496 56h4v4h-4zM500 56h4v4h-4zM504 56h4v4h-4zM520 56h4v4h-4zM532 56h4v4h-4zM612 56h4v4h-4zM660 56h4v4h-4zM668 56h4v4h-4zM688 56h4v4h-4zM712 56h4v4h-4zM720 56h4v4h-4zM728 56h4v4h-4zM736 56h4v4h-4zM752 56h4v4h-4zM760 56h4v4h-4zM764 56h4v4h-4zM356 60h4v4h-4zM408 60h4v4h-4zM412 60h4v4h-4zM420 60h4v4h-4zM460 60h4v4h-4zM500 60h4v4h-4zM536 60h4v4h-4zM572 60h4v4h-4zM608 60h4v4h-4zM620 60h4v4h-4zM644 60h4v4h-4zM668 60h4v4h-4zM696 60h4v4h-4zM704 60h4v4h-4zM728 60h4v4h-4zM736 60h4v4h-4zM748 60h4v4h-4zM756 60h4v4h-4zM772 60h4v4h-4zM776 60h4v4h-4zM344 64h4v4h-4zM404 64h4v4h-4zM456 64h4v4h-4zM464 64h4v4h-4zM476 64h4v4h-4zM488 64h4v4h-4zM548 64h4v4h-4zM552 64h4v4h-4zM572 64h4v4h-4zM576 64h4v4h-4zM592 64h4v4h-4zM624 64h4v4h-4zM628 64h4v4h-4zM716 64h4v4h-4zM724 64h4v4h-4zM744 64h4v4h-4zM332 68h4v4h-4zM344 68h4v4h-4zM420 68h4v4h-4zM468 68h4v4h-4zM488 68h4v4h-4zM508 68h4v4h-4zM512 68h4v4h-4zM556 68h4v4h-4zM564 68h4v4h-4zM604 68h4v4h-4zM624 68h4v4h-4zM676 68h4v4h-4zM744 68h4v4h-4zM772 68h4v4h-4zM780 68h4v4h-4zM784 68h4v4h-4zM788 68h4v4h-4zM336 72h4v4h-4zM344 72h4v4h-4zM360 72h4v4h-4zM428 72h4v4h-4zM432 72h4v4h-4zM528 72h4v4h-4zM532 72h4v4h-4zM536 72h4v4h-4zM556 72h4v4h-4zM580 72h4v4h-4zM592 72h4v4h-4zM616 72h4v4h-4zM620 72h4v4h-4zM640 72h4v4h-4zM644 72h4v4h-4zM684 72h4v4h-4zM704 72h4v4h-4zM716 72h4v4h-4zM720 72h4v4h-4zM728 72h4v4h-4zM732 72h4v4h-4zM744 72h4v4h-4zM344 76h4v4h-4zM360 76h4v4h-4zM380 76h4v4h-4zM388 76h4v4h-4zM420 76h4v4h-4zM428 76h4v4h-4zM436 76h4v4h-4zM444 76h4v4h-4zM456 76h4v4h-4zM492 76h4v4h-4zM500 76h4v4h-4zM552 76h4v4h-4zM556 76h4v4h-4zM572 76h4v4h-4zM584 76h4v4h-4zM592 76h4v4h-4zM624 76h4v4h-4zM632 76h4v4h-4zM656 76h4v4h-4zM676 76h4v4h-4zM684 76h4v4h-4zM708 76h4v4h-4zM724 76h4v4h-4zM744 76h4v4h-4zM752 76h4v4h-4zM760 76h4v4h-4zM776 76h4v4h-4zM780 76h4v4h-4zM788 76h4v4h-4zM332 80h4v4h-4zM336 80h4v4h-4zM376 80h4v4h-4zM404 80h4v4h-4zM420 80h4v4h-4zM436 80h4v4h-4zM440 80h4v4h-4zM456 80h4v4h-4zM472 80h4v4h-4zM484 80h4v4h-4zM500 80h4v4h-4zM504 80h4v4h-4zM512 80h4v4h-4zM524 80h4v4h-4zM580 80h4v4h-4zM588 80h4v4h-4zM636 80h4v4h-4zM664 80h4v4h-4zM688 80h4v4h-4zM736 80h4v4h-4zM740 80h4v4h-4zM744 80h4v4h-4zM760 80h4v4h-4zM772 80h4v4h-4zM780 80h4v4h-4zM344 84h4v4h-4zM424 84h4v4h-4zM428 84h4v4h-4zM452 84h4v4h-4zM468 84h4v4h-4zM480 84h4v4h-4zM484 84h4v4h-4zM524 84h4v4h-4zM528 84h4v4h-4zM532 84h4v4h-4zM540 84h4v4h-4zM612 84h4v4h-4zM624 84h4v4h-4zM636 84h4v4h-4zM656 84h4v4h-4zM684 84h4v4h-4zM688 84h4v4h-4zM712 84h4v4h-4zM740 84h4v4h-4zM760 84h4v4h-4zM776 84h4v4h-4zM788 84h4v4h-4zM384 88h4v4h-4zM396 88h4v4h-4zM436 88h4v4h-4zM448 88h4v4h-4zM456 88h4v4h-4zM464 88h4v4h-4zM468 88h4v4h-4zM488 88h4v4h-4zM492 88h4v4h-4zM496 88h4v4h-4zM548 88h4v4h-4zM556 88h4v4h-4zM564 88h4v4h-4zM628 88h4v4h-4zM648 88h4v4h-4zM652 88h4v4h-4zM660 88h4v4h-4zM668 88h4v4h-4zM676 88h4v4h-4zM724 88h4v4h-4zM336 92h4v4h-4zM348 92h4v4h-4zM372 92h4v4h-4zM388 92h4v4h-4zM404 92h4v4h-4zM412 92h4v4h-4zM420 92h4v4h-4zM456 92h4v4h-4zM476 92h4v4h-4zM488 92h4v4h-4zM516 92h4v4h-4zM544 92h4v4h-4zM572 92h4v4h-4zM576 92h4v4h-4zM588 92h4v4h-4zM592 92h4v4h-4zM596 92h4v4h-4zM608 92h4v4h-4zM612 92h4v4h-4zM616 92h4v4h-4zM624 92h4v4h-4zM644 92h4v4h-4zM716 92h4v4h-4zM720 92h4v4h-4zM772 92h4v4h-4zM344 96h4v4h-4zM360 96h4v4h-4zM420 96h4v4h-4zM452 96h4v4h-4zM508 96h4v4h-4zM520 96h4v4h-4zM540 96h4v4h-4zM552 96h4v4h-4zM564 96h4v4h-4zM616 96h4v4h-4zM648 96h4v4h-4zM668 96h4v4h-4zM676 96h4v4h-4zM720 96h4v4h-4zM724 96h4v4h-4zM736 96h4v4h-4zM748 96h4v4h-4zM756 96h4v4h-4zM764 96h4v4h-4zM768 96h4v4h-4zM784 96h4v4h-4zM352 100h4v4h-4zM436 100h4v4h-4zM452 100h4v4h-4zM464 100h4v4h-4zM472 100h4v4h-4zM496 100h4v4h-4zM524 100h4v4h-4zM548 100h4v4h-4zM552 100h4v4h-4zM572 100h4v4h-4zM644 100h4v4h-4zM652 100h4v4h-4zM752 100h4v4h-4zM332 104h4v4h-4zM352 104h4v4h-4zM368 104h4v4h-4zM384 104h4v4h-4zM392 104h4v4h-4zM432 104h4v4h-4zM456 104h4v4h-4zM460 104h4v4h-4zM512 104h4v4h-4zM528 104h4v4h-4zM532 104h4v4h-4zM560 104h4v4h-4zM568 104h4v4h-4zM572 104h4v4h-4zM616 104h4v4h-4zM656 104h4v4h-4zM672 104h4v4h-4zM676 104h4v4h-4zM688 104h4v4h-4zM728 104h4v4h-4zM760 104h4v4h-4zM776 104h4v4h-4zM788 104h4v4h-4zM364 108h4v4h-4zM388 108h4v4h-4zM444 108h4v4h-4zM448 108h4v4h-4zM452 108h4v4h-4zM460 108h4v4h-4zM472 108h4v4h-4zM496 108h4v4h-4zM508 108h4v4h-4zM516 108h4v4h-4zM520 108h4v4h-4zM528 108h4v4h-4zM556 108h4v4h-4zM576 108h4v4h-4zM604 108h4v4h-4zM612 108h4v4h-4zM644 108h4v4h-4zM672 108h4v4h-4zM760 108h4v4h-4zM332 112h4v4h-4zM340 112h4v4h-4zM356 112h4v4h-4zM440 112h4v4h-4zM444 112h4v4h-4zM456 112h4v4h-4zM492 112h4v4h-4zM504 112h4v4h-4zM540 112h4v4h-4zM644 112h4v4h-4zM676 112h4v4h-4zM700 112h4v4h-4zM724 112h4v4h-4zM752 112h4v4h-4zM776 112h4v4h-4zM780 112h4v4h-4zM784 112h4v4h-4zM360 116h4v4h-4zM436 116h4v4h-4zM460 116h4v4h-4zM496 116h4v4h-4zM524 116h4v4h-4zM532 116h4v4h-4zM572 116h4v4h-4zM576 116h4v4h-4zM584 116h4v4h-4zM588 116h4v4h-4zM604 116h4v4h-4zM608 116h4v4h-4zM624 116h4v4h-4zM676 116h4v4h-4zM684 116h4v4h-4zM688 116h4v4h-4zM700 116h4v4h-4zM748 116h4v4h-4zM776 116h4v4h-4zM368 120h4v4h-4zM412 120h4v4h-4zM500 120h4v4h-4zM528 120h4v4h-4zM540 120h4v4h-4zM552 120h4v4h-4zM580 120h4v4h-4zM592 120h4v4h-4zM608 120h4v4h-4zM680 120h4v4h-4zM708 120h4v4h-4zM716 120h4v4h-4zM728 120h4v4h-4zM748 120h4v4h-4zM752 120h4v4h-4zM772 120h4v4h-4zM340 124h4v4h-4zM348 124h4v4h-4zM352 124h4v4h-4zM356 124h4v4h-4zM360 124h4v4h-4zM372 124h4v4h-4zM376 124h4v4h-4zM384 124h4v4h-4zM396 124h4v4h-4zM400 124h4v4h-4zM412 124h4v4h-4zM488 124h4v4h-4zM496 124h4v4h-4zM500 124h4v4h-4zM520 124h4v4h-4zM548 124h4v4h-4zM560 124h4v4h-4zM580 124h4v4h-4zM592 124h4v4h-4zM596 124h4v4h-4zM620 124h4v4h-4zM636 124h4v4h-4zM644 124h4v4h-4zM652 124h4v4h-4zM712 124h4v4h-4zM728 124h4v4h-4zM740 124h4v4h-4zM748 124h4v4h-4zM760 124h4v4h-4zM764 124h4v4h-4zM768 124h4v4h-4zM332 128h4v4h-4zM340 128h4v4h-4zM452 128h4v4h-4zM460 128h4v4h-4zM468 128h4v4h-4zM472 128h4v4h-4zM540 128h4v4h-4zM556 128h4v4h-4zM560 128h4v4h-4zM600 128h4v4h-4zM604 128h4v4h-4zM624 128h4v4h-4zM676 128h4v4h-4zM692 128h4v4h-4zM700 128h4v4h-4zM728 128h4v4h-4zM748 128h4v4h-4zM760 128h4v4h-4zM332 132h4v4h-4zM396 132h4v4h-4zM412 132h4v4h-4zM436 132h4v4h-4zM440 132h4v4h-4zM460 132h4v4h-4zM608 132h4v4h-4zM664 132h4v4h-4zM676 132h4v4h-4zM684 132h4v4h-4zM688 132h4v4h-4zM692 132h4v4h-4zM708 132h4v4h-4zM736 132h4v4h-4zM752 132h4v4h-4zM760 132h4v4h-4zM776 132h4v4h-4zM336 136h4v4h-4zM364 136h4v4h-4zM372 136h4v4h-4zM424 136h4v4h-4zM460 136h4v4h-4zM504 136h4v4h-4zM508 136h4v4h-4zM512 136h4v4h-4zM524 136h4v4h-4zM532 136h4v4h-4zM540 136h4v4h-4zM572 136h4v4h-4zM588 136h4v4h-4zM620 136h4v4h-4zM640 136h4v4h-4zM684 136h4v4h-4zM692 136h4v4h-4zM748 136h4v4h-4zM756 136h4v4h-4zM344 140h4v4h-4zM352 140h4v4h-4zM360 140h4v4h-4zM388 140h4v4h-4zM412 140h4v4h-4zM416 140h4v4h-4zM420 140h4v4h-4zM436 140h4v4h-4zM444 140h4v4h-4zM460 140h4v4h-4zM468 140h4v4h-4zM512 140h4v4h-4zM536 140h4v4h-4zM548 140h4v4h-4zM560 140h4v4h-4zM564 140h4v4h-4zM576 140h4v4h-4zM584 140h4v4h-4zM604 140h4v4h-4zM612 140h4v4h-4zM616 140h4v4h-4zM624 140h4v4h-4zM636 140h4v4h-4zM640 140h4v4h-4zM672 140h4v4h-4zM680 140h4v4h-4zM740 140h4v4h-4zM764 140h4v4h-4zM772 140h4v4h-4zM784 140h4v4h-4zM400 144h4v4h-4zM408 144h4v4h-4zM420 144h4v4h-4zM460 144h4v4h-4zM464 144h4v4h-4zM468 144h4v4h-4zM488 144h4v4h-4zM500 144h4v4h-4zM560 144h4v4h-4zM568 144h4v4h-4zM608 144h4v4h-4zM616 144h4v4h-4zM620 144h4v4h-4zM636 144h4v4h-4zM640 144h4v4h-4zM644 144h4v4h-4zM656 144h4v4h-4zM664 144h4v4h-4zM684 144h4v4h-4zM688 144h4v4h-4zM700 144h4v4h-4zM704 144h4v4h-4zM744 144h4v4h-4zM748 144h4v4h-4zM772 144h4v4h-4zM360 148h4v4h-4zM368 148h4v4h-4zM380 148h4v4h-4zM384 148h4v4h-4zM392 148h4v4h-4zM404 148h4v4h-4zM408 148h4v4h-4zM416 148h4v4h-4zM544 148h4v4h-4zM584 148h4v4h-4zM600 148h4v4h-4zM612 148h4v4h-4zM616 148h4v4h-4zM628 148h4v4h-4zM636 148h4v4h-4zM644 148h4v4h-4zM660 148h4v4h-4zM696 148h4v4h-4zM700 148h4v4h-4zM704 148h4v4h-4zM708 148h4v4h-4zM716 148h4v4h-4zM720 148h4v4h-4zM728 148h4v4h-4zM784 148h4v4h-4zM412 152h4v4h-4zM424 152h4v4h-4zM440 152h4v4h-4zM512 152h4v4h-4zM556 152h4v4h-4zM560 152h4v4h-4zM564 152h4v4h-4zM572 152h4v4h-4zM588 152h4v4h-4zM636 152h4v4h-4zM652 152h4v4h-4zM664 152h4v4h-4zM368 156h4v4h-4zM372 156h4v4h-4zM376 156h4v4h-4zM384 156h4v4h-4zM416 156h4v4h-4zM444 156h4v4h-4zM464 156h4v4h-4zM524 156h4v4h-4zM540 156h4v4h-4zM556 156h4v4h-4zM564 156h4v4h-4zM592 156h4v4h-4zM600 156h4v4h-4zM604 156h4v4h-4zM660 156h4v4h-4zM664 156h4v4h-4zM680 156h4v4h-4zM376 160h4v4h-4zM388 160h4v4h-4zM400 160h4v4h-4zM440 160h4v4h-4zM452 160h4v4h-4zM460 160h4v4h-4zM476 160h4v4h-4zM492 160h4v4h-4zM516 160h4v4h-4zM520 160h4v4h-4zM524 160h4v4h-4zM576 160h4v4h-4zM584 160h4v4h-4zM596 160h4v4h-4zM648 160h4v4h-4zM652 160h4v4h-4zM412 164h4v4h-4zM500 164h4v4h-4zM532 164h4v4h-4zM540 164h4v4h-4zM548 164h4v4h-4zM576 164h4v4h-4zM616 164h4v4h-4zM652 164h4v4h-4zM616 168h4v4h-4zM628 168h4v4h-4zM644 168h4v4h-4zM396 172h4v4h-4zM528 172h4v4h-4zM552 172h4v4h-4zM564 172h4v4h-4zM584 172h4v4h-4zM608 172h4v4h-4zM628 172h4v4h-4zM396 176h4v4h-4zM560 176h4v4h-4zM592 176h4v4h-4zM608 176h4v4h-4zM616 176h4v4h-4zM624 176h4v4h-4zM588 180h4v4h-4zM592 180h4v4h-4zM600 180h4v4h-4zM608 180h4v4h-4zM612 180h4v4h-4zM620 180h4v4h-4zM584 184h4v4h-4z"/><path fill="#6a4a74" d="M784 16h4v4h-4zM400 20h4v4h-4zM500 20h4v4h-4zM540 20h4v4h-4zM556 20h4v4h-4zM720 20h4v4h-4zM748 20h4v4h-4zM788 20h4v4h-4zM464 24h4v4h-4zM600 24h4v4h-4zM436 28h4v4h-4zM580 28h4v4h-4zM668 28h4v4h-4zM740 28h4v4h-4zM336 32h4v4h-4zM384 32h4v4h-4zM772 32h4v4h-4zM548 36h4v4h-4zM596 36h4v4h-4zM612 36h4v4h-4zM416 40h4v4h-4zM520 40h4v4h-4zM560 40h4v4h-4zM620 40h4v4h-4zM708 40h4v4h-4zM352 44h4v4h-4zM356 44h4v4h-4zM512 44h4v4h-4zM716 44h4v4h-4zM384 48h4v4h-4zM660 48h4v4h-4zM684 48h4v4h-4zM700 48h4v4h-4zM720 48h4v4h-4zM368 52h4v4h-4zM508 52h4v4h-4zM564 52h4v4h-4zM776 52h4v4h-4zM404 56h4v4h-4zM644 56h4v4h-4zM564 60h4v4h-4zM580 60h4v4h-4zM760 60h4v4h-4zM684 64h4v4h-4zM784 64h4v4h-4zM456 68h4v4h-4zM516 68h4v4h-4zM760 68h4v4h-4zM332 72h4v4h-4zM500 72h4v4h-4zM520 72h4v4h-4zM652 72h4v4h-4zM408 76h4v4h-4zM488 76h4v4h-4zM652 76h4v4h-4zM424 80h4v4h-4zM532 80h4v4h-4zM652 80h4v4h-4zM788 80h4v4h-4zM372 84h4v4h-4zM456 84h4v4h-4zM472 84h4v4h-4zM508 84h4v4h-4zM648 84h4v4h-4zM424 88h4v4h-4zM672 88h4v4h-4zM708 88h4v4h-4zM728 88h4v4h-4zM760 88h4v4h-4zM776 88h4v4h-4zM472 92h4v4h-4zM536 92h4v4h-4zM748 92h4v4h-4zM468 96h4v4h-4zM524 96h4v4h-4zM628 96h4v4h-4zM332 100h4v4h-4zM364 100h4v4h-4zM368 100h4v4h-4zM444 100h4v4h-4zM604 100h4v4h-4zM616 100h4v4h-4zM688 100h4v4h-4zM488 104h4v4h-4zM516 104h4v4h-4zM556 104h4v4h-4zM648 104h4v4h-4zM708 104h4v4h-4zM716 104h4v4h-4zM724 108h4v4h-4zM336 112h4v4h-4zM412 112h4v4h-4zM564 112h4v4h-4zM628 112h4v4h-4zM740 112h4v4h-4zM336 116h4v4h-4zM564 116h4v4h-4zM596 116h4v4h-4zM616 116h4v4h-4zM636 116h4v4h-4zM692 116h4v4h-4zM780 116h4v4h-4zM360 120h4v4h-4zM400 120h4v4h-4zM428 120h4v4h-4zM520 120h4v4h-4zM596 120h4v4h-4zM524 124h4v4h-4zM400 128h4v4h-4zM576 128h4v4h-4zM356 132h4v4h-4zM360 132h4v4h-4zM604 132h4v4h-4zM632 132h4v4h-4zM724 132h4v4h-4zM448 136h4v4h-4zM560 136h4v4h-4zM580 136h4v4h-4zM736 136h4v4h-4zM752 136h4v4h-4zM760 136h4v4h-4zM384 140h4v4h-4zM532 140h4v4h-4zM712 140h4v4h-4zM336 144h4v4h-4zM592 144h4v4h-4zM652 144h4v4h-4zM764 144h4v4h-4zM352 148h4v4h-4zM652 148h4v4h-4zM732 148h4v4h-4zM736 148h4v4h-4zM516 152h4v4h-4zM692 152h4v4h-4zM408 156h4v4h-4zM456 156h4v4h-4zM632 156h4v4h-4zM544 160h4v4h-4zM624 160h4v4h-4zM372 168h4v4h-4zM528 168h4v4h-4zM560 168h4v4h-4zM568 168h4v4h-4zM540 172h4v4h-4zM580 172h4v4h-4zM612 172h4v4h-4zM604 180h4v4h-4zM580 184h4v4h-4z"/></g><g opacity="0.8" filter="url(#bl3)"><line x1="341" y1="20" x2="343" y2="115" stroke="#eacff0" stroke-width="5"/><line x1="366" y1="20" x2="368" y2="120" stroke="#eacff0" stroke-width="5"/><line x1="405" y1="30" x2="390" y2="148" stroke="#eacff0" stroke-width="5"/><line x1="470" y1="45" x2="463" y2="140" stroke="#eacff0" stroke-width="5"/><line x1="510" y1="60" x2="512" y2="140" stroke="#eacff0" stroke-width="5"/><line x1="549" y1="50" x2="555" y2="150" stroke="#eacff0" stroke-width="5"/><line x1="597" y1="25" x2="622" y2="150" stroke="#eacff0" stroke-width="5"/><line x1="648" y1="25" x2="661" y2="140" stroke="#eacff0" stroke-width="5"/><line x1="703" y1="25" x2="716" y2="130" stroke="#eacff0" stroke-width="5"/><line x1="754" y1="25" x2="767" y2="125" stroke="#eacff0" stroke-width="5"/><line x1="786" y1="20" x2="786" y2="125" stroke="#eacff0" stroke-width="5"/></g><path d="M398,-4 L640,-4 L622,18 L600,40 L572,56 L540,62 L508,58 L475,44 L442,24 L412,6Z" fill="#ecdcea" opacity="0.9" filter="url(#bl6)"/><path d="M420,4 L622,4 L602,22 L576,40 L545,48 L512,44 L482,30 L450,14Z" fill="#f6eef4" opacity="0.7" filter="url(#bl3)"/><path d="M680,8 L800,8 L800,24 L680,20Z" fill="#e4d4e6" opacity="0.5" filter="url(#bl3)"/><g fill="#b8a0b6" opacity="0.3" filter="url(#bl1)"><ellipse cx="470" cy="22" rx="6" ry="3"/><ellipse cx="505" cy="20" rx="5" ry="3"/><ellipse cx="545" cy="22" rx="8" ry="3"/><ellipse cx="560" cy="32" rx="5" ry="3"/><ellipse cx="592" cy="26" rx="5" ry="4"/><ellipse cx="450" cy="18" rx="5" ry="3"/><ellipse cx="520" cy="38" rx="6" ry="3"/><ellipse cx="580" cy="40" rx="5" ry="3"/><ellipse cx="430" cy="18" rx="4" ry="3"/></g><path d="M320,300 C400,292 500,288 600,292 C700,290 760,288 800,290 L800,350 L320,350Z" fill="#eee2e6" filter="url(#bl3)"/><g filter="url(#bl05)"><path fill="#d9c2e2" stroke="#6a5680" stroke-width="1.45" stroke-linejoin="round" opacity="0.8" d="M336.0 122.2L325.3 130.7L303.2 118.5L309.1 117.2L327.9 117.8ZM684.4 117.2L693.1 119.3L695.2 125.9L695.2 126.0L682.7 127.2ZM729.2 121.6L729.2 121.5L725.7 117.3L720.3 115.2L717.4 117.4L719.9 126.2L720.8 126.6ZM745.0 124.5L743.1 121.2L748.8 114.3L751.1 117.4L750.9 123.7L746.0 125.1ZM752.2 123.3L754.3 123.8L759.5 122.6L761.5 116.2L761.4 116.1L752.4 117.5ZM773.3 120.2L774.8 124.9L765.8 130.6L760.7 123.1L762.9 116.1L771.9 118.3ZM781.9 115.5L774.7 120.3L776.2 124.8L781.1 126.9L784.0 124.8L786.5 120.1ZM800.1 120.7L797.8 125.0L823.4 134.3L823.8 134.4L965.4 123.9L987.7 121.2L825.9 116.4L801.8 119.7ZM355.8 132.0L354.6 128.8L357.1 122.9L357.1 122.8L358.5 122.9L366.7 125.1L367.7 127.4L364.1 133.1L357.5 132.8ZM431.2 131.7L432.2 133.4L428.2 138.2L419.5 136.6L421.9 131.3L425.4 130.0ZM441.0 123.0L443.7 125.8L440.8 135.1L434.0 132.9L432.9 131.0L433.6 127.7ZM464.6 134.7L463.6 127.6L465.5 125.3L472.9 126.3L477.0 130.0L478.0 134.0L476.3 136.0ZM663.4 141.1L669.4 132.6L669.3 129.7L668.3 129.1L657.4 130.4ZM690.2 135.9L694.3 134.3L695.2 126.9L682.2 128.1L681.7 128.5L683.4 134.6ZM695.9 134.3L696.7 127.2L696.7 127.2L705.3 126.4L707.4 128.5L705.9 134.6L701.0 139.6L699.9 139.6ZM707.4 134.6L713.8 137.2L713.3 130.0L708.8 128.6ZM732.5 132.1L725.4 134.1L724.7 133.7L721.6 128.0L729.8 123.1L732.7 130.7ZM783.2 128.2L784.1 132.9L811.3 135.5L785.8 126.3ZM370.1 143.7L370.0 142.2L380.8 132.5L381.3 132.7L376.4 147.8L370.2 144.0ZM388.5 137.8L389.1 142.5L388.3 144.4L378.8 149.3L377.2 147.8L382.1 132.7L382.6 132.8ZM416.4 137.8L415.1 141.2L412.6 144.8L405.6 143.5L405.3 143.2L404.6 136.3L408.3 132.0ZM418.8 137.9L427.3 139.5L427.9 145.7L417.4 141.3L418.6 138.0ZM430.3 146.3L430.2 146.0L429.5 139.4L433.7 134.4L440.3 136.6L441.0 137.5L439.8 142.9ZM459.5 146.2L462.9 146.0L461.1 138.7L452.7 137.2L451.6 138.0L452.9 142.9ZM464.4 145.8L462.7 138.9L464.6 136.2L475.4 137.4L473.5 144.3L467.1 148.1ZM475.1 144.5L482.4 150.2L488.8 145.0L481.5 135.4L478.9 134.9L477.1 137.0ZM489.9 144.5L495.8 144.6L497.8 138.3L497.2 136.1L491.2 133.0L482.9 135.4ZM519.8 140.3L514.6 143.5L510.2 141.8L508.6 139.2L512.0 134.8L519.9 140.2ZM521.4 140.5L527.0 151.1L528.8 152.1L534.3 144.5L533.3 137.8L528.2 135.7L525.2 135.9L521.5 140.4ZM643.7 137.1L652.3 132.1L653.0 146.5L652.3 146.6L645.9 144.6L644.0 142.4ZM663.9 142.0L664.0 141.8L669.8 133.4L677.3 140.4L677.4 141.8L669.5 145.2ZM392.3 152.8L388.3 145.8L379.0 150.6L379.0 155.1L383.3 161.0L386.7 161.2ZM399.7 153.0L393.8 151.7L390.0 145.1L390.8 143.3L403.2 144.4L403.4 144.7ZM514.0 145.0L512.8 153.2L511.8 154.1L505.6 150.5L509.8 143.4ZM520.4 141.7L525.5 151.3L514.2 152.9L515.5 144.7ZM551.8 159.6L560.2 156.2L555.6 149.4L550.0 152.9L551.2 159.3ZM556.8 148.3L558.8 145.3L566.9 146.2L568.2 155.7L566.6 156.8L561.8 155.8ZM616.7 153.9L628.3 151.7L627.8 147.3L622.0 143.8L614.7 146.8L615.5 153.1ZM633.7 143.6L629.9 147.0L630.5 151.7L632.2 154.3L638.5 152.7L644.4 145.5L642.4 143.2ZM549.5 159.6L542.3 164.1L536.6 156.9L546.2 151.8L548.3 153.2ZM573.7 157.9L568.9 156.7L567.2 157.8L563.5 168.5L575.4 166.3ZM588.2 166.3L587.7 166.6L577.2 167.1L576.5 166.3L574.8 158.0L583.6 154.1L587.8 157.5ZM598.0 169.8L603.8 165.4L604.0 160.9L599.3 156.7L596.4 155.8L589.9 158.0L590.2 166.0L597.2 170.0ZM606.4 165.3L606.5 160.8L614.2 155.1L615.4 156.0L620.6 165.4L614.6 169.9Z"/><path fill="#a98ab9" stroke="#6a5a80" stroke-width="1.45" stroke-linejoin="round" opacity="0.9" d="M352.8 128.4L355.5 121.8L346.1 114.5L341.4 123.1L342.4 125.9ZM706.7 125.2L708.9 127.4L713.6 128.9L718.5 126.8L715.9 117.6L710.4 117.4ZM743.3 124.5L741.6 121.6L737.2 118.6L731.3 121.9L731.3 121.9L734.2 129.4ZM337.8 123.1L340.2 123.8L341.2 126.5L337.8 133.7L331.6 135.1L327.1 131.6ZM451.6 136.1L453.8 128.8L450.4 125.0L445.0 126.1L442.0 135.4L442.7 136.4L450.6 136.8ZM461.2 137.4L453.3 136.0L455.3 129.2L462.1 128.4L463.1 134.8ZM677.9 139.5L682.2 134.7L680.5 128.6L673.4 127.8L670.3 129.7L670.4 132.6ZM714.9 137.1L715.2 137.7L723.0 134.1L720.0 128.4L719.0 128.1L714.4 130.1ZM497.5 145.2L499.3 139.4L506.6 140.1L508.2 142.5L504.1 149.5L499.3 148.9ZM662.1 141.4L662.1 141.3L656.7 131.7L654.3 130.9L653.8 131.7L654.5 145.8L655.0 146.0ZM449.8 153.4L458.5 147.3L452.3 144.3L448.7 152.5ZM451.1 154.0L453.7 157.7L463.8 156.5L465.4 153.9L465.8 149.8L463.2 147.6L460.0 147.8ZM543.5 147.0L535.2 145.5L529.9 152.9L530.5 154.3L535.0 156.2L545.4 150.7ZM639.6 153.0L645.6 159.8L652.2 148.1L645.4 145.9ZM715.9 155.9L712.4 159.8L709.2 159.0L707.1 154.0L711.7 146.5L713.5 146.1L715.9 147.7ZM377.1 170.1L368.1 167.7L367.7 161.3L377.7 156.5L381.8 162.1ZM400.4 157.5L394.6 165.5L388.6 161.4L393.7 153.8L399.2 155.0ZM448.6 155.1L451.2 158.9L449.6 166.2L444.3 171.3L437.1 160.9L436.7 158.4L444.6 153.5L447.4 154.2ZM494.7 159.1L496.7 162.4L493.1 169.7L486.8 166.8L489.0 159.8ZM552.8 160.9L560.6 170.7L562.5 168.3L566.0 158.3L561.5 157.4ZM617.4 155.4L629.3 153.1L630.9 155.6L629.8 165.2L622.6 164.9ZM692.4 155.0L696.1 165.1L687.7 171.2L683.6 167.3L686.5 156.7ZM717.2 157.6L713.5 161.7L717.1 168.3L724.4 166.4L724.5 158.1ZM726.4 158.1L726.4 166.3L731.9 168.4L735.7 165.3L736.6 159.4L730.9 154.3ZM344.7 172.3L345.0 174.4L339.8 182.0L326.3 171.1L342.2 169.7ZM505.9 175.9L507.2 167.3L498.2 163.8L494.3 171.3L496.7 178.6L498.1 179.5ZM732.7 178.3L744.7 175.0L743.4 170.2L736.7 166.7L732.7 169.9ZM753.1 164.3L758.2 167.6L758.8 169.6L750.2 179.1L746.3 174.8L745.1 170.1ZM778.1 170.9L788.4 164.0L791.7 168.8L791.2 176.2L782.9 178.8L779.1 173.3ZM512.1 181.0L510.5 191.4L498.6 187.4L498.9 181.3L506.7 177.6ZM589.1 182.0L582.7 178.8L576.0 181.2L577.7 188.1L579.7 190.6L588.0 186.7ZM624.7 180.3L615.3 180.3L613.3 184.4L613.0 186.0L613.7 187.2L620.1 192.0L624.7 189.8ZM774.0 188.4L781.1 182.3L781.8 179.9L778.0 174.4L766.3 181.9L766.2 184.7ZM563.1 194.6L555.9 188.5L549.4 197.5L564.2 207.5L567.0 203.8ZM601.6 188.1L597.0 194.0L595.6 200.8L602.5 204.8L603.0 204.6L611.9 188.3L611.0 186.9ZM619.7 203.2L605.0 204.2L613.1 189.3L619.5 194.1ZM637.7 191.8L647.2 196.6L648.1 201.5L647.0 203.5L641.0 207.0L635.6 203.4ZM709.6 200.0L715.1 186.9L729.1 188.6L728.9 189.4L710.7 201.1ZM438.8 218.7L440.7 208.5L427.5 203.2L422.3 216.1L431.2 219.5ZM498.8 205.0L497.5 215.1L514.7 215.1L512.0 205.0ZM516.7 201.0L516.1 201.2L514.0 204.6L516.8 215.1L517.5 216.6L531.4 215.7L532.3 208.6L530.6 205.7ZM549.5 216.7L545.2 203.9L534.7 209.5L533.9 215.9L538.6 220.5ZM760.8 204.3L761.3 214.8L748.9 214.6L746.9 213.8L745.1 207.3L750.6 201.0ZM350.9 212.8L340.1 212.6L321.9 229.3L350.3 228.3L354.1 220.6ZM536.5 226.0L537.0 222.6L531.9 217.6L518.1 218.5L514.5 229.3L525.2 237.1L527.5 237.2ZM622.8 218.8L614.3 232.0L615.7 233.7L629.1 231.0L632.6 227.5L632.6 225.1L623.1 218.6ZM636.2 225.1L640.7 221.4L655.9 221.2L658.3 226.2L657.0 228.3L644.7 237.5L636.2 227.6ZM765.7 218.7L760.9 231.7L775.0 237.3L780.5 228.2L774.9 218.8ZM694.7 243.2L695.9 233.6L689.0 226.1L677.0 234.1L677.4 237.0L691.5 244.7ZM782.0 238.1L782.2 239.7L802.4 250.5L889.9 236.0L830.1 228.8L786.9 229.9ZM436.3 243.3L443.0 244.3L444.1 246.7L432.1 258.1L421.8 253.4L422.8 244.8ZM608.4 253.3L608.7 252.1L616.0 247.5L624.4 250.3L627.6 258.0L616.6 266.1ZM786.4 260.0L798.3 253.2L776.3 241.4L773.5 246.7L776.1 256.4ZM422.4 276.4L418.0 273.9L419.5 257.7L421.1 256.1L431.2 260.6L435.2 268.6L435.1 271.9L434.0 273.7ZM453.6 271.6L438.5 271.3L438.6 268.2L450.8 258.2L453.4 260.4ZM517.4 256.0L510.1 267.4L514.9 273.8L530.0 261.1L517.6 255.9ZM553.3 278.7L543.7 272.1L543.3 269.0L561.2 261.0L557.7 276.3ZM599.3 272.8L587.4 273.7L579.7 265.6L578.9 262.4L592.1 257.4L599.1 260.0ZM392.6 290.8L395.5 288.3L384.7 277.8L379.5 283.1L388.1 292.4ZM399.6 286.1L396.6 287.0L386.6 277.2L388.9 272.5L400.1 274.0L404.3 277.8L402.2 284.2ZM573.2 285.4L581.2 287.3L582.1 287.3L583.0 286.8L586.2 275.4L578.8 267.5L569.7 278.3ZM603.4 275.6L605.5 287.7L606.3 288.0L619.5 287.2L619.3 277.0L614.9 271.9ZM634.0 298.2L629.8 290.0L638.5 284.8L641.0 289.6L641.7 293.4Z"/><path fill="#ebdff0" stroke="#5c5072" stroke-width="1.45" stroke-linejoin="round" opacity="0.9" d="M353.9 133.1L352.6 129.6L342.4 127.1L339.0 134.3L345.3 140.3L346.3 140.2ZM743.9 125.7L734.7 130.7L734.5 132.1L735.1 132.9L745.3 133.4L744.8 126.3ZM746.4 126.3L751.2 124.9L753.4 125.4L754.6 138.0L754.4 138.1L747.9 135.3L746.9 133.8ZM760.1 124.7L764.6 131.4L764.1 133.2L763.4 134.5L756.3 137.4L755.1 125.9ZM766.3 131.4L775.4 125.7L780.7 128.0L781.8 133.4L780.5 138.5L765.8 133.6ZM338.0 135.2L332.0 136.6L330.9 145.3L341.9 144.3L344.1 141.0ZM354.7 133.8L347.1 140.9L354.3 147.7L357.3 143.4L356.6 134.8ZM357.6 134.7L365.0 134.9L369.0 142.1L369.1 143.6L358.3 143.4ZM447.6 152.0L444.8 151.4L441.5 143.5L442.6 138.0L450.3 138.4L451.5 143.3ZM678.8 141.8L680.9 144.5L685.6 144.4L689.3 136.9L682.9 135.8L678.7 140.4ZM690.7 136.9L694.9 135.4L699.1 141.1L695.8 149.2L694.0 150.4L686.7 144.8ZM707.3 135.8L702.4 140.8L711.4 144.2L713.3 143.8L714.0 139.1L713.7 138.4ZM725.1 145.2L717.1 146.0L714.4 144.1L715.2 139.0L723.7 135.0L724.4 135.5ZM733.1 133.4L725.6 135.5L726.3 144.9L730.2 147.0L735.3 142.8L733.8 134.2ZM735.5 134.3L736.9 142.3L739.7 142.5L746.1 136.3L745.3 134.8ZM744.5 146.5L753.3 144.2L753.6 139.6L747.6 137.0L741.1 143.3ZM755.7 139.3L755.5 139.5L755.1 144.5L755.3 145.0L765.7 148.9L769.3 146.3L763.6 136.1ZM765.5 136.1L770.8 145.6L774.0 146.1L779.7 140.4L779.6 139.3L766.3 134.9ZM782.5 139.1L783.7 134.1L813.8 136.9L814.3 137.0L790.3 145.0L782.6 140.2ZM377.6 154.9L367.0 160.0L361.5 155.2L370.0 145.1L376.0 148.9L377.6 150.4ZM415.8 154.9L412.8 158.2L410.2 159.4L402.6 156.7L401.4 154.1L405.3 145.6L412.6 146.9ZM427.1 153.0L428.2 147.7L428.1 147.4L417.3 142.9L414.8 146.5L418.0 154.1L422.1 154.6ZM429.5 153.2L430.6 148.0L439.8 144.7L442.9 152.2L435.4 156.9ZM468.3 149.7L467.9 153.8L477.3 157.7L481.7 154.7L481.3 151.1L474.7 146.0ZM483.6 151.1L484.0 154.7L488.6 157.9L494.6 157.2L497.5 150.3L495.4 146.4L489.7 146.3ZM663.3 143.0L668.8 146.2L670.5 153.8L662.6 158.8L655.7 147.9ZM672.1 153.4L676.0 153.8L678.4 152.4L679.7 145.9L677.7 143.3L670.6 146.4ZM401.7 158.8L395.9 166.8L396.8 169.1L405.8 169.9L408.8 161.3ZM499.4 151.3L504.4 151.9L510.8 155.5L510.4 162.8L507.9 165.0L498.8 161.5L496.7 158.1ZM527.9 153.8L526.2 152.9L514.2 154.6L513.2 155.5L512.8 162.9L521.0 164.9L524.2 164.6L528.5 155.2ZM530.3 156.2L526.1 165.3L528.3 168.2L539.9 167.5L540.4 165.3L534.5 158.0ZM632.3 165.8L631.9 165.5L633.0 156.4L638.7 155.0L644.1 161.1L644.1 165.5L642.1 166.3ZM654.5 149.7L653.9 149.6L653.2 149.6L647.2 160.3L647.2 164.6L654.2 166.8L660.3 162.8L660.7 159.5ZM555.0 180.8L544.3 177.0L542.2 168.5L542.8 166.2L550.6 161.3L551.2 161.6L559.5 171.9L559.1 177.0ZM573.6 179.0L561.6 176.8L561.9 172.1L563.8 169.7L574.7 167.7L575.3 168.4ZM575.7 180.1L575.2 179.8L577.0 168.3L587.3 167.9L582.4 177.7ZM596.4 171.8L589.0 167.6L588.5 167.9L583.7 177.6L590.0 180.7L594.8 178.6ZM600.3 171.8L605.9 167.6L613.8 171.9L613.6 178.1L611.6 182.2ZM629.7 174.8L629.8 167.6L629.4 167.2L622.4 167.0L616.5 171.5L616.3 177.9L625.9 177.9Z"/><path fill="#f7f4f7" stroke="#444152" stroke-width="1.45" stroke-linejoin="round" opacity="1" d="M341.3 146.0L330.9 146.9L327.6 152.9L341.0 155.5ZM353.5 148.7L354.3 153.9L343.2 156.1L342.9 155.8L343.2 145.4L345.4 141.9L346.3 141.9ZM358.1 144.6L368.3 144.8L368.5 145.0L360.4 154.6L356.9 154.3L356.0 153.7L355.2 148.8ZM681.8 146.2L680.4 152.6L686.3 155.0L691.5 153.5L692.6 151.0L686.1 146.1ZM700.2 141.8L701.3 141.8L710.1 145.1L705.4 153.0L697.2 149.2ZM729.4 148.5L729.9 152.5L725.3 156.5L717.8 156.0L717.8 147.1L725.5 146.4ZM731.4 148.4L731.9 152.3L737.7 157.3L742.6 155.3L742.6 147.9L739.1 144.6L736.2 144.4ZM744.4 155.8L750.8 157.3L753.6 152.9L754.3 145.9L754.1 145.3L744.4 147.9ZM764.0 154.7L765.5 149.8L755.4 146.0L754.8 152.9ZM765.6 155.0L767.0 150.3L770.5 147.8L773.7 148.3L776.8 155.4L774.0 159.5L766.5 158.6ZM775.6 147.5L778.7 154.7L786.2 154.8L788.5 146.3L781.3 141.9ZM832.3 153.4L971.9 126.6L819.0 137.9L795.6 145.8L793.1 154.7L795.0 157.0ZM340.6 168.0L324.9 169.3L304.7 166.4L326.4 154.9L340.4 157.5L340.7 157.8ZM346.0 171.1L353.6 167.6L355.6 155.9L354.7 155.3L343.4 157.6L343.3 168.4ZM355.2 167.4L363.1 170.3L366.0 167.6L365.6 161.3L360.5 156.8L357.1 156.5ZM421.8 156.4L417.3 155.9L414.2 159.3L419.6 169.9L424.2 166.8ZM428.3 154.4L434.7 158.4L435.1 161.0L428.0 167.5L425.3 167.0L422.7 156.1ZM465.7 168.2L463.6 158.8L453.8 159.9L452.2 166.9L464.3 170.0ZM467.4 168.4L475.9 167.6L477.1 159.0L466.9 154.8L465.0 157.7ZM478.1 159.2L482.9 155.9L487.7 159.3L485.2 167.2L480.1 169.8L476.9 167.8ZM671.1 155.5L675.0 155.9L677.0 165.6L669.5 168.2L663.1 163.7L663.6 160.1ZM679.2 154.1L685.4 156.6L682.6 166.5L678.7 165.3L676.7 155.6ZM694.6 151.7L696.3 150.5L705.2 154.6L707.5 160.2L699.4 164.9L697.0 164.5L693.3 154.5ZM743.8 157.5L749.7 158.9L751.6 163.1L744.1 168.5L738.0 165.3L739.0 159.5ZM752.1 158.3L754.6 154.2L763.5 156.0L764.4 159.6L758.9 165.8L754.1 162.7ZM765.8 160.6L773.6 161.5L775.7 170.1L763.6 171.2L760.7 169.1L760.1 167.0ZM778.1 169.2L787.5 162.9L787.8 159.3L786.0 157.1L778.7 157.0L776.0 161.0L777.9 169.1ZM793.5 167.4L790.4 162.8L790.7 158.9L827.8 155.4ZM346.8 172.5L347.0 174.6L358.7 184.7L361.4 181.9L362.4 172.2L354.1 169.1ZM378.5 178.0L374.9 181.4L363.8 181.5L364.8 172.4L367.7 169.7L376.4 172.1ZM393.3 167.7L394.3 170.2L392.4 174.7L387.4 178.7L381.2 177.3L379.1 171.2L383.8 163.2L387.0 163.4ZM409.4 175.8L406.7 185.8L394.4 175.5L396.3 170.7L406.3 171.6ZM418.5 170.7L413.4 160.6L411.0 161.8L407.9 170.6L410.8 174.5L417.5 173.1ZM427.2 169.0L431.2 176.3L422.5 176.9L419.5 173.8L420.4 171.4L424.8 168.5ZM429.0 168.7L433.2 176.4L434.0 176.8L442.9 173.8L443.1 173.1L435.8 162.5ZM463.7 171.9L463.0 179.6L461.5 181.3L447.6 177.9L445.4 174.3L445.6 173.5L450.9 168.5ZM468.2 170.0L476.0 169.3L478.8 171.1L480.2 178.6L478.2 181.4L466.1 179.3L466.8 171.8ZM481.1 170.9L482.5 178.5L494.7 178.7L492.3 171.5L485.8 168.5ZM513.4 179.4L516.2 179.3L520.0 166.8L511.7 164.7L509.1 167.0L507.7 175.9ZM517.6 179.3L521.3 167.1L524.5 166.8L526.7 169.7L527.0 176.4L522.4 180.6ZM528.1 169.6L540.7 168.9L542.8 177.5L538.7 179.8L528.5 176.7ZM638.1 183.1L641.2 181.0L642.2 168.4L631.8 167.9L631.7 175.3ZM644.2 168.6L646.1 167.8L653.2 170.1L653.5 178.5L651.7 180.3L643.2 180.6ZM655.6 178.9L665.6 182.9L669.3 175.5L668.6 169.9L662.0 165.1L655.2 169.6ZM678.5 167.2L670.7 169.9L671.3 175.4L683.5 179.2L686.5 176.7L686.6 172.1L682.6 168.3ZM698.9 167.1L704.5 177.5L698.1 182.7L688.8 176.7L688.9 172.3L696.7 166.7ZM716.0 169.4L712.2 162.4L708.6 161.5L700.6 166.1L706.5 177.3L710.5 177.1L714.9 173.0ZM729.5 181.8L717.3 173.5L718.3 170.2L725.3 168.4L730.8 170.4L730.8 178.0ZM766.6 180.4L777.2 173.5L776.3 171.4L776.1 171.2L764.9 172.3ZM333.4 183.4L333.0 185.2L320.9 192.4L172.9 197.5L299.6 169.6L320.0 172.5ZM350.2 192.8L340.9 185.4L341.3 183.7L346.3 176.2L357.6 185.8L357.4 186.6ZM365.0 193.0L359.6 187.0L359.8 186.1L362.6 183.2L374.9 183.0L375.9 193.6ZM379.8 195.9L389.8 190.8L386.7 181.2L380.3 179.6L376.6 183.2L377.5 193.3ZM388.3 180.7L391.6 191.0L391.8 191.1L406.6 189.4L406.7 189.2L406.4 187.0L393.7 176.3ZM417.7 175.6L411.0 177.0L408.5 186.2L408.7 188.2L419.4 188.8L420.7 178.6ZM430.1 189.5L426.1 191.9L421.8 189.1L423.1 179.1L431.8 178.5L432.4 178.9ZM443.6 174.9L434.1 178.0L431.5 190.0L444.6 192.2L446.0 178.7ZM447.9 180.2L461.1 183.4L460.9 187.3L458.8 190.6L447.9 193.8L446.7 192.1ZM464.1 187.1L475.7 194.6L478.6 191.2L477.7 183.5L465.7 181.5L464.3 183.1ZM496.5 187.8L493.8 192.9L481.2 191.5L480.2 183.0L482.4 180.0L495.5 180.2L496.9 181.2ZM514.1 182.2L516.8 182.0L521.4 183.3L524.1 190.7L516.4 198.2L515.8 198.4L512.6 192.2ZM526.5 190.0L523.7 182.5L528.2 178.4L537.5 181.3L533.6 190.9L533.1 191.1ZM554.7 182.5L543.8 178.7L539.7 181.1L535.3 191.7L547.1 197.4L548.3 196.6L554.7 187.6ZM576.0 188.1L563.6 193.2L556.6 187.3L556.6 182.3L560.7 178.4L573.7 180.8L574.2 181.2ZM595.3 179.9L590.4 182.1L589.3 186.8L596.1 193.1L600.7 187.2ZM598.7 172.3L611.0 183.5L610.7 185.2L601.6 186.4L596.3 179.4L597.9 172.6ZM637.1 184.3L630.9 176.9L627.3 180.0L627.2 189.4L635.8 189.0ZM639.0 184.9L642.1 182.8L651.3 182.5L651.0 191.3L647.4 195.0L637.7 190.1L637.6 189.9ZM653.1 182.1L652.7 191.2L664.0 193.2L665.8 185.5L665.3 184.2L655.1 180.2ZM666.7 183.9L670.4 176.5L682.9 180.4L679.8 187.1L667.2 185.2ZM683.2 192.2L682.0 187.3L684.8 181.2L687.6 178.9L696.6 184.7L696.8 190.3ZM699.7 190.9L699.5 184.9L706.1 179.6L709.9 179.4L713.5 186.4L708.1 199.1L703.2 197.3ZM729.4 183.5L729.7 186.7L729.3 187.3L715.6 185.6L712.1 178.6L716.3 174.6ZM731.4 183.5L731.7 186.8L749.1 187.1L749.0 180.5L744.9 176.1L732.8 179.3ZM760.2 186.5L751.1 187.1L751.0 187.0L750.8 180.4L759.6 170.8L762.6 173.0L764.5 181.9L764.4 184.7ZM792.5 177.7L836.0 194.9L793.0 193.9L783.7 182.8L784.4 180.3ZM349.6 194.3L339.5 186.2L326.5 194.0L338.5 200.2L349.2 195.8ZM364.2 203.0L354.3 204.8L350.9 196.1L351.3 194.6L358.7 188.2L363.9 193.9ZM366.5 203.4L373.3 207.8L377.7 203.9L378.4 197.8L376.2 195.3L366.3 194.7ZM380.7 197.5L390.4 192.6L390.6 192.7L392.7 201.2L387.9 206.4L380.0 203.7ZM406.0 191.0L392.8 192.5L394.8 200.8L405.5 204.3ZM423.8 194.1L419.4 191.3L408.7 190.7L408.6 190.8L408.1 204.2L408.1 204.3L423.9 199.1ZM443.9 193.8L445.1 195.6L445.0 203.1L440.8 206.9L428.3 201.8L427.2 199.5L427.1 194.2L431.4 191.6ZM447.5 195.9L447.4 203.2L451.5 204.8L461.8 201.3L458.9 192.5ZM463.1 188.2L475.8 196.3L474.4 202.4L470.3 204.7L463.8 201.3L460.7 191.9ZM494.7 202.6L481.9 205.7L476.5 202.4L477.9 196.7L480.9 193.3L492.6 194.6ZM497.9 189.1L495.2 194.2L497.5 202.8L498.2 203.5L512.1 203.5L514.3 200.2L510.7 193.4ZM525.8 192.0L518.0 199.6L530.8 204.0L532.5 193.1ZM534.2 193.2L534.7 193.0L546.0 198.5L545.1 201.6L534.0 207.4L532.4 204.7ZM576.6 189.7L565.1 194.5L568.6 203.0L580.0 200.8L578.4 192.1ZM594.9 194.2L588.6 188.5L580.6 192.2L582.2 200.9L585.0 202.8L593.6 200.6ZM635.4 191.2L635.6 191.5L633.6 202.8L623.5 205.2L622.1 203.3L621.8 193.9L626.5 191.7ZM652.8 192.8L663.0 194.6L665.4 202.3L650.2 200.9L649.4 196.2ZM667.3 186.9L679.5 188.8L680.7 194.1L678.8 200.1L672.0 203.8L669.0 203.4L668.2 202.5L665.6 194.3ZM682.8 194.1L698.0 192.0L701.7 198.6L691.6 205.4L680.8 200.3ZM710.9 202.0L713.9 207.8L732.0 203.5L732.3 203.4L729.7 190.0ZM748.5 188.7L748.4 188.6L732.3 188.3L731.9 188.9L731.8 189.7L734.1 201.9L743.1 204.8L748.6 198.6ZM763.9 200.9L761.8 202.5L751.2 199.1L751.1 188.8L760.1 188.2ZM765.0 200.7L761.1 187.7L765.4 185.8L773.4 189.5L773.8 198.1ZM774.9 198.3L780.1 202.9L791.3 194.8L781.8 183.3L774.5 189.6ZM161.6 201.7L47.2 218.8L243.0 241.5L294.3 235.1L312.0 229.3L330.9 211.9L329.8 202.4L318.0 196.4ZM349.3 197.8L340.0 201.6L341.0 210.1L351.0 210.3L352.5 205.9ZM364.7 205.6L355.5 207.2L354.0 211.8L357.0 219.2L365.1 217.9L370.5 216.3L371.4 209.9ZM374.0 209.8L373.1 216.9L378.3 222.8L383.4 223.2L392.3 216.6L387.5 208.4L378.8 205.5ZM394.1 215.9L389.4 208.0L394.4 202.6L405.8 206.3L405.8 206.4L406.0 211.1L398.1 216.3ZM424.3 201.4L425.3 203.6L420.7 214.9L416.7 216.2L409.0 210.9L408.8 206.5ZM443.7 222.1L440.7 218.2L442.4 209.0L446.4 205.4L450.5 207.1L458.7 218.5ZM461.5 218.7L466.9 213.9L469.5 206.2L463.3 202.8L452.5 206.4L461.2 218.6ZM480.0 219.9L468.5 213.9L471.2 206.2L475.2 203.9L480.9 207.4L483.1 216.5ZM496.1 204.3L482.9 207.5L485.1 216.3L494.8 217.0L495.5 215.3L496.8 205.1ZM561.4 212.7L554.7 216.6L551.9 215.9L547.5 202.8L548.3 199.9L549.3 199.2L562.8 208.3ZM568.7 205.6L566.2 209.0L564.7 213.6L578.5 222.7L579.9 223.0L582.4 219.9L583.3 205.3L580.4 203.3ZM594.8 203.0L586.2 205.2L585.4 219.6L600.8 219.1L602.1 216.7L601.3 206.8ZM619.8 205.4L604.8 206.4L604.3 206.6L605.1 216.4L621.1 216.0L621.4 215.8L621.2 207.3ZM623.7 207.5L624.0 216.5L634.2 223.5L638.8 219.7L639.8 208.6L634.3 204.9ZM647.8 205.4L656.4 218.8L656.2 219.5L640.8 219.7L641.8 208.8ZM649.3 204.4L657.6 217.4L666.7 204.8L666.0 203.9L650.3 202.4ZM680.2 201.7L673.3 205.5L677.4 213.6L689.6 218.2L690.6 217.1L690.7 206.7ZM692.7 206.3L692.6 217.1L711.7 217.4L712.2 208.3L709.2 202.5L708.1 201.4L702.9 199.4ZM730.6 205.5L714.3 209.3L713.8 217.6L715.8 221.8L728.0 216.1ZM744.4 214.0L742.6 207.7L733.9 205.0L733.7 205.1L731.1 215.6L739.4 220.4ZM765.5 202.5L763.5 204.0L764.0 214.8L765.9 216.7L774.6 216.7L779.5 208.2L778.8 204.4L773.9 200.0ZM789.7 205.1L800.4 197.5L842.6 198.5L1013.5 230.7L899.8 232.9L836.6 225.2L790.4 208.9ZM356.3 222.1L352.8 229.3L357.1 235.8L365.2 234.0L364.5 220.8ZM372.1 218.4L376.9 223.9L373.0 233.6L367.2 233.8L366.5 220.2ZM400.4 232.0L397.2 218.7L393.4 218.3L385.3 224.3L392.5 235.3ZM402.5 232.2L409.8 234.4L413.4 234.1L415.4 218.9L407.1 213.2L399.2 218.3ZM426.7 230.5L429.8 220.9L421.5 217.8L417.2 219.2L415.3 234.2L418.2 236.5ZM433.0 231.4L442.4 225.2L442.4 224.0L439.1 219.7L431.6 220.5L428.3 230.6ZM444.4 225.3L447.2 235.5L463.5 230.2L460.4 220.5L460.1 220.4L444.4 224.1ZM477.9 226.7L478.4 221.6L467.9 216.2L463.1 220.5L465.9 229.4L466.4 229.9ZM488.1 234.3L497.0 227.3L494.5 218.6L484.3 217.9L481.2 221.3L480.6 227.1ZM511.9 228.3L515.3 218.3L514.6 216.9L497.8 217.0L497.1 218.7L499.4 226.7L509.2 229.3ZM538.8 225.7L539.3 222.3L551.0 218.3L554.0 219.0L555.5 224.6L546.7 234.4ZM562.9 214.5L555.6 218.8L557.1 224.5L561.4 231.1L577.4 224.2ZM585.0 222.1L582.6 225.1L582.8 226.2L597.0 235.1L602.5 230.0L600.1 221.6ZM604.0 218.2L621.2 217.7L611.8 232.2L605.3 230.1L602.6 220.8ZM659.1 219.1L668.0 206.6L670.9 207.0L674.8 214.6L670.6 227.6L661.2 224.5L658.9 219.7ZM672.7 229.1L677.1 215.3L689.2 219.8L688.1 224.8L676.2 232.6ZM690.7 224.7L697.6 232.1L713.6 224.9L713.6 224.8L713.5 223.4L711.3 218.9L692.8 218.6L691.8 219.6ZM737.5 222.9L729.1 218.1L717.0 223.7L717.2 224.9L725.2 230.5L736.2 228.9ZM747.8 217.0L754.2 231.6L743.5 233.8L739.3 229.1L740.6 222.9L745.8 216.2ZM749.7 216.9L762.3 217.1L764.2 218.9L759.7 231.1L758.0 231.8L756.1 231.5ZM777.3 218.3L782.2 209.6L829.1 226.1L782.7 227.4ZM320.9 231.6L303.5 237.4L346.7 250.2L354.1 245.7L354.5 237.6L349.8 230.6ZM376.1 246.3L362.8 249.2L358.2 245.9L358.5 238.3L366.7 236.5L372.3 236.3L377.2 245.0ZM391.1 237.0L387.7 243.4L379.6 244.3L374.4 235.0L378.5 224.9L383.5 225.3ZM399.7 252.6L409.0 236.4L401.4 234.2L392.7 237.7L389.2 244.4L394.6 251.4ZM432.1 232.6L435.8 242.1L421.7 243.6L418.6 238.1L427.5 231.8ZM433.6 232.5L442.8 226.5L445.6 236.7L444.0 242.8L437.2 241.8ZM445.6 243.3L447.2 237.2L463.8 231.8L464.3 232.2L466.2 241.2L449.0 247.6L446.8 245.7ZM485.4 244.0L486.6 235.8L479.5 228.9L467.1 232.2L468.9 241.0L475.1 247.4ZM495.8 249.7L502.2 246.5L504.5 242.9L507.9 232.2L498.1 229.6L489.7 236.2L488.5 244.2ZM506.9 242.6L510.4 231.6L513.2 230.6L523.6 238.3L519.1 245.5ZM539.5 248.6L529.9 238.5L538.1 228.4L545.4 236.5L547.7 244.0ZM550.2 244.2L547.6 236.0L556.4 226.2L560.5 232.7L560.2 241.1L557.5 244.7ZM579.8 225.4L580.1 226.7L577.9 238.4L562.2 240.5L562.5 231.9L578.4 225.1ZM581.7 227.6L579.6 239.2L581.8 243.2L592.3 243.8L595.9 241.7L597.0 237.1ZM605.1 231.7L599.1 237.2L598.1 241.8L607.7 250.5L615.0 245.9L613.1 235.7L611.6 233.8ZM616.9 246.1L615.1 236.3L628.9 233.6L624.9 248.6L624.8 248.7ZM631.1 232.9L627.2 247.6L642.9 240.3L642.8 239.0L634.7 229.4ZM645.6 240.8L649.1 247.2L658.6 247.1L657.3 230.8L645.5 239.6ZM659.8 229.7L661.2 227.6L670.9 230.8L674.4 234.2L674.8 237.0L667.6 249.1L661.1 246.6ZM696.5 243.5L697.7 233.8L713.8 226.5L708.1 245.8L705.5 246.5ZM718.0 249.4L724.6 243.8L724.1 232.4L715.2 226.2L715.1 226.4L709.5 245.6ZM738.0 230.7L725.7 232.5L726.3 244.1L739.3 249.1L741.3 246.9L742.6 235.7ZM755.1 233.8L756.9 234.2L757.1 248.3L743.5 246.2L744.6 236.0ZM774.4 238.6L774.7 240.3L771.8 245.7L759.0 249.3L758.9 249.1L758.7 233.8L760.4 233.1ZM343.0 258.9L343.0 252.0L299.7 239.1L249.2 245.3L266.7 252.5L302.2 264.9L340.9 263.7ZM348.4 259.1L348.5 252.0L356.2 247.3L361.3 251.0L364.3 264.5ZM376.6 262.2L377.0 248.4L362.7 251.5L365.6 264.5L365.8 265.0ZM393.4 252.3L388.0 245.3L379.7 246.2L378.5 247.6L378.0 261.8L385.4 266.2ZM404.2 255.6L417.8 255.2L419.4 253.5L420.4 244.5L417.3 238.9L414.1 236.5L410.4 236.8L401.1 253.0ZM433.2 259.1L437.3 267.2L450.6 256.3L447.6 249.5L445.4 247.6ZM470.3 256.4L455.8 258.1L453.0 255.8L450.1 249.0L466.8 242.8L473.0 249.3ZM493.4 256.0L484.6 266.8L482.0 266.8L481.3 266.6L474.8 260.4L473.8 257.3L476.3 250.7L485.9 247.6L493.0 252.8ZM497.1 255.7L506.2 266.0L508.3 266.6L515.5 255.3L503.2 249.0L496.7 252.3ZM506.6 244.2L518.9 247.1L517.0 254.2L516.7 254.3L504.2 247.9ZM535.1 258.5L531.0 258.8L519.6 253.9L521.4 247.4L525.6 240.6L527.6 240.6L537.2 250.6ZM542.1 267.4L562.2 258.4L563.0 257.5L557.2 246.4L549.6 245.9L540.2 251.1L537.9 260.1ZM559.4 246.0L562.1 242.5L577.3 240.5L579.4 244.3L575.8 259.1L564.9 256.4ZM581.3 245.0L591.8 245.7L591.3 256.2L578.6 261.1L577.6 259.9ZM605.9 252.8L606.2 251.7L597.5 243.9L594.2 245.8L593.7 255.6L600.0 257.9ZM629.8 257.5L626.7 250.1L626.8 249.9L643.2 242.3L646.9 248.9L644.2 254.9L631.5 258.4ZM650.8 263.3L667.4 254.1L666.5 251.5L659.7 249.0L649.6 249.1L646.8 255.2ZM672.7 258.2L684.8 260.6L689.8 246.5L676.2 239.1L669.0 251.3L669.9 253.7ZM701.3 261.8L703.6 248.6L695.5 245.9L692.5 247.3L687.7 260.7L688.2 261.4ZM709.8 266.6L717.8 257.7L716.6 251.8L708.9 248.4L706.6 249.1L704.3 262.0ZM730.5 262.0L737.4 257.4L738.2 250.4L725.8 245.7L719.4 251.2L720.8 257.6ZM748.2 263.7L740.4 257.3L741.2 250.6L743.1 248.6L756.7 250.6L756.8 250.8L757.3 256.5ZM760.1 256.7L759.5 250.8L771.6 247.4L774.0 256.6L766.7 262.1ZM344.3 265.5L304.2 266.8L321.0 275.9L340.0 277.0L347.1 271.4ZM361.4 273.7L357.6 274.7L349.8 270.9L347.1 265.5L349.1 260.9L363.7 265.8L363.9 266.2ZM385.7 271.3L384.4 268.3L377.3 264.1L366.7 266.9L364.1 274.6L372.7 282.9L372.9 282.9L378.0 281.6L383.3 276.3ZM388.2 269.7L386.9 266.7L394.4 253.6L399.2 254.8L402.2 257.3L400.1 271.2ZM406.3 276.5L415.9 274.4L417.5 257.0L403.8 257.4L401.5 272.2ZM471.5 261.9L460.7 278.0L460.6 278.0L456.2 272.2L456.0 260.3L470.3 258.7ZM472.4 263.1L462.2 278.4L467.1 280.8L479.0 269.3ZM495.8 257.5L504.4 267.3L493.3 274.6L486.8 268.5ZM533.9 279.6L516.0 276.1L515.7 275.0L531.6 261.6L536.3 261.3L540.6 268.6L540.9 272.1ZM560.5 275.8L564.2 259.6L564.9 258.9L575.7 261.5L576.7 262.6L577.4 265.6L568.5 276.2ZM602.7 274.2L614.6 270.3L615.7 267.4L607.3 254.3L600.6 260.1L600.8 273.0ZM616.6 270.3L620.9 275.3L634.4 273.4L630.0 260.6L628.3 259.7L617.6 267.5ZM636.5 273.5L640.6 277.1L650.3 273.5L649.3 264.8L645.2 256.7L632.0 260.3ZM652.2 273.3L657.3 275.2L663.3 274.4L670.7 260.3L667.7 255.6L651.3 264.8ZM685.7 263.7L685.1 262.9L672.7 260.5L665.4 274.5L671.0 279.6L686.0 271.5ZM708.1 269.7L693.1 280.3L688.6 271.6L688.3 263.9L702.1 264.4L708.0 269.3ZM710.9 269.6L711.6 270.7L725.3 276.6L728.2 274.7L729.3 263.9L719.6 259.6L710.8 269.2ZM730.6 274.8L738.5 277.3L748.2 272.4L747.0 266.0L738.7 259.2L731.7 263.8ZM761.5 278.4L764.1 276.5L766.3 274.1L765.8 264.4L759.1 258.9L749.6 266.4L750.7 272.6L759.1 278.5ZM768.6 273.2L781.3 272.4L785.1 261.8L775.4 258.3L768.2 263.7ZM345.1 288.0L339.9 278.5L322.7 277.6L333.5 288.5ZM348.6 288.3L347.5 287.9L342.2 278.2L348.7 273.1L356.4 276.9L350.3 287.4ZM352.3 288.2L358.6 277.4L362.4 276.3L370.9 284.5L367.2 291.6L365.8 292.9L361.7 293.0ZM420.8 287.6L416.3 291.2L408.3 289.4L404.8 285.0L407.1 278.2L416.2 276.2L420.7 278.8L421.3 286.1ZM423.8 285.9L423.2 278.9L434.3 276.3L439.5 287.1L431.3 289.1ZM442.6 287.3L442.2 287.0L436.9 275.9L438.0 274.1L453.9 274.3L458.2 280.0L453.8 284.4L448.5 288.1L445.1 288.4ZM481.1 269.9L479.5 284.4L470.8 285.7L467.4 282.2L480.4 269.6ZM482.3 269.9L480.7 284.4L484.3 285.7L492.5 284.6L492.1 276.5L485.2 269.9ZM496.3 285.3L495.1 284.3L494.8 276.6L506.1 269.2L508.2 269.8L512.8 275.9L513.0 276.9L511.1 282.4L501.8 286.6ZM532.1 287.5L520.3 292.5L518.7 291.6L513.9 283.5L515.9 278.0L532.4 281.2ZM552.6 285.1L550.3 288.3L539.5 292.5L537.6 291.7L535.1 287.4L535.4 281.1L542.0 274.0L552.2 281.0ZM565.2 291.1L571.0 285.8L567.6 278.7L559.4 278.3L554.7 280.8L555.1 285.0L562.2 291.1ZM601.3 276.1L603.4 287.9L600.9 289.8L593.3 290.5L589.4 289.3L585.2 287.1L588.3 275.9L599.6 275.0ZM622.3 287.0L624.1 288.6L628.6 288.5L637.0 283.4L638.3 279.1L634.7 275.9L622.0 277.7ZM640.4 283.5L642.9 288.3L654.6 289.3L654.7 289.3L655.6 277.3L650.8 275.6L641.7 279.0ZM671.8 286.7L669.6 281.5L663.8 276.3L657.6 277.1L656.7 289.9L664.3 293.8L667.6 291.9ZM674.7 286.3L687.1 288.1L690.5 286.0L690.5 282.2L686.2 274.1L672.4 281.5L674.4 286.2ZM693.2 286.1L693.1 281.8L709.0 270.6L709.8 271.7L708.7 286.7L696.4 288.0ZM711.4 287.0L710.6 286.5L711.6 272.8L724.7 278.5L723.1 284.5L722.6 285.2ZM734.5 290.0L739.3 286.3L737.7 278.9L729.8 276.2L726.8 278.2L725.1 284.7ZM750.6 288.3L756.6 280.2L748.9 274.7L740.1 279.3L741.5 286.0L744.5 287.9ZM763.3 280.9L766.9 289.5L771.8 292.0L772.9 291.6L777.2 287.9L765.8 279.2ZM767.3 278.0L779.0 286.9L785.8 285.7L788.1 284.1L781.6 274.9L769.3 275.7ZM469.3 290.7L469.3 286.5L466.0 283.0L460.7 280.4L460.7 280.4L456.2 284.9L461.1 294.9ZM470.9 291.2L481.7 295.6L483.1 287.0L479.6 285.7L470.8 286.9L470.8 291.2ZM502.5 288.7L511.9 284.5L516.6 292.5L510.6 299.0L503.5 293.5ZM570.5 297.1L579.9 288.7L572.3 286.9L566.8 291.9ZM696.8 288.9L708.9 287.7L709.7 288.2L709.8 288.6L710.5 294.7L702.5 298.5L698.6 293.8ZM782.0 297.3L786.4 287.5L779.3 288.7L774.7 292.5ZM329.9 296.1L328.2 300.1L271.4 257.8L303.9 269.2L318.8 277.3L329.4 288.1ZM722.6 292.6L722.5 286.7L711.7 288.4L711.8 288.7L721.6 295.7ZM724.3 292.7L724.2 286.4L724.8 285.7L733.9 290.8L733.5 294.5ZM753.5 294.5L759.0 301.7L759.3 301.7L764.7 290.5L761.2 281.9L758.9 282.0L752.9 290.1Z"/><path fill="#f8f5f4" stroke="#7e6c74" stroke-width="1.45" stroke-linejoin="round" opacity="0.95" d="M347.3 291.6L344.1 297.2L335.2 298.4L334.7 290.2L346.4 289.7L347.5 290.1ZM378.4 301.6L368.7 292.5L372.5 285.1L372.6 285.1L381.4 300.3ZM401.3 303.3L399.9 289.2L396.9 290.1L394.2 292.4L399.2 303.9L401.3 303.4ZM416.1 292.6L407.9 290.7L408.6 297.2L415.3 299.0ZM432.1 291.1L440.1 289.1L440.5 289.4L431.4 301.2L429.2 300.8ZM457.7 304.5L457.5 302.8L461.1 296.5L469.4 292.2L469.4 292.2L469.4 292.4L460.6 305.7ZM527.1 303.6L519.7 311.1L518.1 310.9L520.5 296.4ZM544.1 300.5L550.7 295.7L551.7 298.6L549.6 306.3L545.7 305.8ZM551.9 294.1L552.1 289.5L554.3 286.4L561.0 292.2L559.2 297.0L553.0 297.0ZM592.0 306.5L592.4 306.5L592.7 293.1L588.9 292.0L589.1 306.0ZM652.5 298.2L662.4 298.6L663.5 294.7L656.1 291.0L656.1 291.0ZM675.3 305.5L669.0 293.4L672.8 288.6L673.1 288.7L677.6 302.2L676.9 305.2ZM688.6 290.8L690.3 307.0L691.4 307.4L696.9 294.3L695.3 289.6L692.3 287.9L688.8 290.1ZM722.0 297.0L710.8 289.0L711.5 295.2L715.5 301.8L721.1 301.5ZM751.5 295.0L740.5 301.5L744.3 289.9L750.9 290.3ZM784.9 308.6L826.5 299.7L783.0 301.3L781.3 303.9ZM344.9 307.7L343.2 299.4L334.6 300.6L333.0 304.5L333.0 304.6L336.4 307.9L343.6 308.5ZM346.1 347.0L328.3 368.9L335.5 328.1L342.6 327.8ZM348.5 292.4L345.0 298.5L346.8 307.7L354.1 307.2L354.2 303.2ZM353.2 326.3L346.0 325.9L344.6 326.6L347.9 344.8L353.3 341.3L355.5 328.9ZM355.8 303.4L355.7 307.1L359.8 309.9L365.4 309.3L365.3 295.6L361.4 295.7ZM365.7 311.9L366.7 312.4L366.1 327.1L357.5 326.6L355.2 324.0L360.0 312.5ZM377.7 302.7L371.3 310.2L368.0 310.2L366.8 309.7L366.7 295.1L368.2 293.8ZM374.0 329.0L369.8 329.2L367.6 327.6L368.2 312.6L371.5 312.6L377.5 317.4ZM378.3 333.8L374.5 350.8L365.9 343.1L369.9 331.4L374.2 331.2ZM387.2 293.1L378.7 283.9L373.5 285.2L382.1 300.1L384.6 299.9ZM384.5 302.3L382.1 302.5L379.4 303.6L373.5 310.5L379.1 315.0L385.2 315.2L388.0 306.2ZM379.5 334.7L375.9 351.0L378.2 355.7L391.1 339.5L384.2 334.4ZM394.8 338.0L392.9 338.0L385.4 332.5L389.3 320.9L397.1 321.8L399.6 323.6ZM408.9 310.2L401.8 305.8L399.6 306.4L399.5 306.4L398.0 320.1L400.4 321.9L402.9 321.8ZM415.0 300.2L408.4 298.4L402.9 304.7L402.9 304.8L409.9 309.1L413.0 309.0L418.0 305.7ZM413.0 311.2L416.5 325.1L411.0 325.7L404.4 322.3L410.1 311.3ZM421.5 290.1L417.2 293.5L416.5 299.4L419.5 304.7L421.5 304.7L426.4 301.8ZM419.3 307.7L414.5 310.8L417.9 324.4L418.2 324.5L425.7 319.3L421.3 307.7ZM412.5 352.3L427.6 338.5L418.6 329.6ZM422.5 289.2L427.4 300.9L427.6 300.8L430.5 291.0L423.0 287.8ZM428.0 303.7L423.1 306.7L427.6 318.3L432.5 318.7L432.5 318.7L434.0 306.4L430.5 304.1L428.2 303.7ZM432.5 321.6L433.2 335.4L430.3 337.3L428.8 337.3L419.4 327.9L418.8 326.8L427.1 321.1ZM412.6 356.6L412.4 356.9L417.7 470.6L435.8 358.5L429.7 342.4L428.2 342.4ZM435.6 306.6L434.1 319.3L442.4 319.2L443.7 307.9L442.3 306.8ZM434.1 321.6L442.2 321.5L446.7 324.9L440.2 334.5L434.7 334.5L434.0 321.6ZM443.7 320.0L445.0 308.5L453.5 308.1L450.7 323.5L448.4 323.5ZM448.5 326.3L450.7 326.3L451.1 326.5L454.2 338.2L450.5 341.3L447.2 341.4L442.2 335.7ZM440.0 558.9L422.1 669.0L414.4 936.1L463.8 8851.0L488.4 3865.3L475.8 813.4L471.5 602.3L462.6 570.4L451.2 547.1L447.8 547.2ZM460.7 324.5L452.5 325.7L455.9 338.4L461.9 338.7L463.1 338.0L462.7 325.4ZM461.1 306.3L469.8 293.2L473.5 304.6L470.4 307.8L462.7 307.4ZM461.8 322.6L462.7 309.5L470.2 309.9L473.0 319.0L469.4 322.9L463.7 323.5ZM463.9 325.6L469.7 325.0L474.2 333.8L470.2 338.2L464.3 337.9ZM464.2 341.0L470.3 341.4L479.2 362.0L473.9 402.2L464.6 369.0L462.9 341.8ZM471.1 292.4L481.5 296.5L483.2 302.9L474.8 303.7L471.1 292.5ZM479.9 318.0L485.3 305.7L483.4 305.0L475.2 305.7L472.1 308.7L474.9 317.6ZM470.9 324.1L474.6 320.0L479.9 320.4L485.9 324.9L480.1 333.1L475.5 333.1ZM475.7 335.4L480.2 335.3L486.8 344.6L480.2 359.5L471.7 339.7ZM488.6 303.0L493.3 288.3L492.2 287.4L484.8 288.4L483.5 296.2L485.1 302.2L486.9 303.0ZM481.4 319.1L486.9 306.4L488.8 306.4L489.8 307.0L492.5 322.6L491.7 323.0L487.2 323.4ZM488.1 343.2L490.6 341.8L491.6 325.8L487.1 326.2L481.5 334.1ZM490.7 304.6L498.5 304.7L501.8 294.2L500.7 289.2L494.8 287.8L489.7 304.0ZM493.8 322.6L498.8 322.9L500.4 322.1L501.4 308.7L498.6 307.0L491.2 307.0ZM493.5 324.8L498.7 325.2L501.9 340.2L491.6 341.7L492.7 325.1ZM481.9 369.0L477.0 405.7L481.1 606.5L500.4 352.1L500.1 351.9L490.6 353.3L488.2 354.7ZM515.8 312.6L509.4 322.2L501.7 322.4L502.7 308.3L509.7 307.7ZM503.1 340.3L499.9 325.3L501.5 324.4L509.1 324.3L513.8 330.4L507.0 340.3L503.4 340.5ZM517.5 313.0L519.3 313.2L527.6 319.9L527.6 320.0L520.9 330.2L515.4 329.2L510.6 322.9L517.1 313.1ZM508.7 341.0L518.3 347.9L524.1 337.7L520.5 332.2L515.4 331.3ZM535.7 293.1L529.9 302.1L528.5 302.1L521.3 294.4L521.0 293.9L533.1 288.8ZM530.2 303.7L537.7 310.9L537.5 311.7L528.6 318.9L520.4 312.3L528.7 303.8ZM531.2 401.1L519.5 350.2L525.5 339.5L529.4 339.7L536.3 349.4ZM543.5 299.5L539.9 293.8L550.7 289.5L550.6 294.4ZM545.2 307.9L539.7 311.4L539.4 312.1L545.9 322.9L547.1 322.9L554.3 311.3L549.3 308.4ZM550.6 307.2L555.8 310.2L555.9 310.2L560.2 306.8L559.5 298.8L552.9 298.8ZM555.8 312.5L548.9 323.7L556.1 329.0L562.5 321.8L555.9 312.5ZM551.2 340.8L555.3 352.2L566.7 341.2L556.6 335.0ZM569.6 307.4L572.4 319.7L570.1 321.3L564.3 321.0L557.5 311.5L561.6 308.3ZM570.0 324.3L564.3 324.1L557.8 331.4L558.1 333.5L567.9 339.6L571.0 339.6L571.2 339.5ZM538.7 474.8L533.5 1228.5L568.7 380.2L565.6 380.3L554.4 391.1ZM572.4 303.6L579.9 302.5L582.0 289.1L581.0 289.0L570.9 298.1ZM572.4 305.1L579.8 304.0L584.3 307.4L578.5 319.4L574.0 319.4L571.1 306.5ZM588.4 306.1L588.2 290.8L583.7 288.4L582.7 289.0L580.6 302.7L585.3 306.1ZM591.7 308.3L588.3 326.0L587.8 325.9L579.4 320.2L585.4 307.7L588.6 307.7ZM587.7 328.1L576.9 339.8L592.0 348.7L588.6 328.3L588.2 328.1ZM601.1 291.9L598.5 306.9L593.2 306.5L593.5 292.6ZM592.4 308.6L592.9 308.6L598.3 309.0L598.7 309.2L600.6 325.0L589.6 325.7L589.2 325.6ZM600.4 328.4L590.4 329.1L593.8 348.8L597.2 352.7L601.3 328.8ZM604.8 289.9L602.1 291.7L599.5 306.9L599.9 307.1L610.1 306.4L610.2 300.5L605.5 290.2ZM602.6 328.1L607.9 328.2L612.9 340.8L598.0 355.0L597.9 355.0ZM611.6 301.0L621.5 294.9L622.7 307.4L621.8 308.0L614.0 308.9L611.5 307.2ZM621.6 310.0L623.5 322.3L619.8 324.5L612.5 323.8L614.4 310.8ZM611.8 325.6L609.0 327.4L614.0 340.1L621.7 340.6L623.4 339.4L619.7 326.3ZM621.4 326.5L624.7 338.2L629.8 337.6L635.1 328.9L632.0 325.4L625.1 324.4ZM624.9 353.3L630.0 352.6L638.0 362.0L631.4 676.3L623.4 354.4ZM634.0 306.8L634.4 300.3L642.0 295.5L645.7 301.0L641.4 307.9L636.3 308.2ZM636.3 310.3L633.8 323.9L637.1 327.6L640.7 327.7L648.9 318.9L648.9 317.4L641.9 310.0ZM643.7 294.2L643.1 290.5L654.3 291.4L650.9 298.1L649.9 299.1L647.3 299.5ZM642.8 308.7L649.9 316.1L659.3 309.6L650.2 300.8L647.4 301.2ZM648.9 335.9L657.3 327.2L649.8 320.5L642.3 328.6ZM660.3 379.4L650.1 374.4L642.2 383.8L635.5 701.3L635.3 742.8L655.9 1251.8L678.3 423.5L672.1 399.2L669.7 393.6ZM651.7 300.7L660.2 309.0L663.5 308.6L663.5 308.6L662.4 300.1L652.8 299.6ZM658.8 325.7L663.5 326.3L663.3 310.8L660.1 311.1L651.1 317.3L651.1 318.7ZM649.9 337.2L650.2 338.7L660.8 343.8L663.9 328.7L663.7 328.5L658.9 328.0ZM674.4 306.4L667.9 293.9L664.8 295.7L663.7 299.6L664.9 308.4L671.0 308.2ZM665.2 329.7L662.1 344.7L671.7 359.2L672.3 330.0ZM680.1 325.9L682.4 309.9L677.4 307.5L675.7 307.9L672.2 309.7L675.6 325.8ZM679.9 329.5L682.9 330.9L675.5 364.0L673.1 358.4L673.7 330.3L675.7 329.4ZM681.0 326.5L684.4 328.1L689.1 327.9L693.3 311.8L691.0 310.3L689.8 309.8L683.4 310.1ZM688.7 333.7L691.1 335.0L691.5 366.6L683.3 389.3L677.3 366.0L684.5 333.8ZM697.9 296.2L701.5 300.4L703.3 308.5L699.8 310.4L694.6 310.3L692.6 308.9ZM690.3 328.1L692.9 329.6L700.4 329.2L703.0 327.5L699.7 313.0L694.2 312.9ZM702.9 299.7L704.9 308.3L708.0 308.4L714.5 302.3L710.8 296.0ZM704.7 309.9L700.8 312.0L704.2 327.2L709.1 326.9L716.6 320.9L707.9 309.9ZM704.5 329.2L708.9 328.9L714.9 340.3L705.9 346.0L702.0 330.9ZM723.3 322.7L722.1 339.8L716.6 339.6L710.5 327.9L717.7 322.3L722.7 322.3ZM683.7 421.6L659.3 1324.9L664.1 1886.5L726.2 374.1L720.4 370.1L714.6 369.8L704.9 376.0L693.0 395.9ZM734.8 295.5L735.2 291.7L739.9 288.1L743.1 290.2L739.3 301.9L738.4 302.9L737.5 302.9L736.7 302.4ZM738.6 305.7L746.7 311.9L746.7 312.5L740.2 320.7L733.5 321.1L732.2 320.4L737.8 305.7ZM740.3 323.2L732.9 323.6L736.9 340.1L739.8 339.9L746.7 330.0ZM751.5 296.5L757.2 304.0L748.2 310.1L740.0 303.8L740.8 302.8ZM757.8 338.4L749.5 346.5L740.7 340.6L747.7 330.5L751.0 330.2ZM762.1 320.5L764.5 308.4L759.2 305.3L758.9 305.3L749.7 311.5L749.6 312.1L756.5 321.0ZM766.6 326.8L762.6 323.3L757.1 323.8L752.8 329.5L759.0 336.9L761.5 336.9L767.1 329.2ZM776.8 318.6L767.8 325.4L763.5 321.4L766.0 308.6L768.2 308.4ZM768.8 330.6L777.7 335.4L778.2 337.5L769.1 345.5L763.3 338.3ZM773.6 303.6L772.9 294.0L774.1 293.5L781.6 298.3L781.3 300.8L779.7 303.3ZM777.7 319.4L768.6 326.2L769.1 328.8L778.8 334.1L786.5 323.3L782.5 319.6ZM782.9 343.7L771.1 378.3L769.9 348.2L778.8 340.4ZM785.7 299.9L786.0 297.6L790.3 288.1L792.6 286.5L842.6 295.9L825.2 298.5ZM801.8 325.9L794.6 335.9L795.1 338.0L799.4 341.5L1212.6 363.2Z"/><path fill="#eedcdc" stroke="#7e6c74" stroke-width="1.45" stroke-linejoin="round" opacity="0.95" d="M348.8 291.5L354.5 302.2L360.5 294.0L350.8 289.1L349.0 290.0ZM606.9 289.3L611.6 299.7L621.3 293.7L622.1 290.2L620.1 288.5ZM724.2 293.9L733.3 295.8L735.1 302.7L724.3 303.0L722.3 301.5L723.1 297.3ZM344.2 310.8L336.4 310.2L333.7 323.3L335.6 324.9L342.8 324.6L344.3 323.7ZM358.7 311.5L353.6 323.9L345.6 323.4L345.5 309.9L346.9 309.0L354.3 308.5ZM357.5 329.1L355.2 342.1L364.7 342.5L368.6 331.1L366.3 329.6ZM393.1 292.5L398.5 304.8L398.4 304.9L389.9 305.2L386.0 300.9L388.6 294.1ZM390.0 307.2L387.1 316.4L389.5 319.0L396.6 319.8L398.0 306.9ZM395.6 349.4L393.7 349.4L380.2 366.4L407.1 753.7L415.1 478.6L409.8 363.5L403.3 354.2ZM402.2 302.9L400.8 288.3L403.5 286.4L406.9 290.6L407.6 296.8ZM403.0 324.2L400.6 324.3L396.1 337.7L403.5 342.3L409.8 327.6ZM431.9 302.1L441.5 289.8L444.0 290.9L442.2 304.7L435.5 304.5ZM440.3 336.6L446.0 343.0L437.7 355.4L431.3 338.6L434.2 336.7ZM443.8 305.1L445.2 306.3L453.7 305.9L455.9 304.8L455.7 303.1L449.0 290.9L445.6 291.2ZM449.8 289.8L455.2 286.1L459.9 295.9L456.5 302.0ZM460.3 322.1L461.2 308.9L459.6 307.9L456.9 306.8L454.7 307.9L451.9 323.1L452.3 323.2ZM502.8 295.0L510.1 300.7L509.3 306.3L502.4 306.9L499.6 305.2ZM504.4 435.6L484.0 703.3L496.7 3757.7L527.3 1315.0L532.6 533.2L528.9 491.3L517.7 442.5L508.0 435.5ZM537.5 330.1L528.6 321.4L522.1 331.3L525.8 336.9L529.6 337.0L537.3 331.4ZM542.6 300.4L538.9 294.5L537.0 293.7L531.1 302.8L538.6 309.9L544.3 306.2ZM538.0 312.7L529.1 320.0L529.1 320.1L538.3 329.1L544.9 324.2ZM543.4 339.9L537.2 346.9L531.1 338.1L538.1 332.9ZM546.0 325.3L539.5 330.2L539.3 331.5L545.0 339.2L549.8 339.6L555.5 333.4L555.2 331.1L547.3 325.3ZM571.1 303.8L569.6 298.5L565.7 293.1L562.7 293.0L560.7 298.1L561.4 306.1L569.8 305.2ZM578.3 322.0L574.1 322.0L571.9 323.6L573.1 338.6L575.3 338.6L585.8 327.1ZM610.1 309.5L600.6 310.2L602.3 324.7L603.2 325.2L608.0 325.3L610.5 323.7L612.4 311.0ZM621.7 372.1L629.4 687.3L629.2 727.4L601.4 384.5L614.8 371.7ZM624.3 308.8L632.1 308.6L634.4 310.0L632.1 322.3L625.3 321.3L623.5 309.4ZM648.0 337.6L648.4 339.2L639.7 349.3L631.1 339.0L637.0 329.4L640.7 329.5ZM674.8 326.5L672.6 327.5L665.1 327.2L664.9 327.0L664.6 310.3L664.7 310.3L671.3 310.1ZM673.8 287.5L687.6 289.5L687.4 290.2L678.7 302.1ZM683.1 308.8L689.4 308.6L687.5 291.2L678.8 303.2L677.9 306.4ZM721.0 303.1L715.9 303.4L709.6 309.3L717.6 319.5L722.5 319.6L723.0 304.6ZM724.6 304.9L724.1 320.1L724.7 320.4L730.4 320.6L736.3 305.0L735.5 304.5ZM735.2 339.5L729.0 343.4L723.8 339.8L724.9 323.7L730.3 323.8L731.6 324.5ZM754.9 322.7L748.4 314.3L742.0 322.4L747.8 328.6L750.7 328.3ZM759.1 342.0L751.4 349.5L766.3 411.7L768.9 381.2L767.7 349.4L761.8 342.0ZM772.4 303.9L771.7 294.3L766.4 291.7L760.6 303.7L766.0 306.9L768.1 306.7ZM777.7 318.0L769.1 307.8L773.6 304.9L779.8 304.6L783.3 309.3L782.5 318.2Z"/><path fill="#d7aea8" stroke="#7e6c74" stroke-width="1.45" stroke-linejoin="round" opacity="0.95" d="M331.2 305.4L308.1 319.4L332.2 323.0L335.1 309.2ZM379.5 331.9L384.2 331.6L387.9 320.8L385.4 318.2L379.0 318.0L375.6 329.5ZM411.3 328.3L404.9 343.3L411.2 352.5L411.4 352.2L417.7 329.0L417.2 327.9L416.9 327.8ZM461.8 340.5L463.5 368.0L451.5 343.6L455.6 340.1ZM519.5 294.6L517.8 293.8L511.5 300.5L510.7 306.2L516.7 311.0L517.2 310.9L519.7 295.1ZM544.3 346.1L538.1 353.2L533.5 400.6L537.1 440.6L552.7 357.6L548.7 346.5ZM624.0 305.9L631.9 305.8L632.3 299.4L628.1 291.3L623.6 291.5L622.9 294.7ZM700.6 332.1L704.6 347.5L693.5 366.2L693.1 332.4Z"/></g><g opacity="0.7" filter="url(#bl3)"><ellipse cx="402" cy="314" rx="11" ry="10" fill="#b4604e"/><ellipse cx="455" cy="324" rx="8" ry="8" fill="#b4604e"/><ellipse cx="532" cy="318" rx="10" ry="11" fill="#b4604e"/><ellipse cx="565" cy="332" rx="6" ry="6" fill="#b4604e"/><ellipse cx="640" cy="324" rx="7" ry="7" fill="#b4604e"/><ellipse cx="727" cy="316" rx="13" ry="10" fill="#b4604e"/><ellipse cx="362" cy="332" rx="6" ry="6" fill="#b4604e"/><ellipse cx="700" cy="334" rx="8" ry="5" fill="#b4604e"/><ellipse cx="590" cy="334" rx="6" ry="4" fill="#b4604e"/><ellipse cx="770" cy="333" rx="8" ry="5" fill="#b4604e"/><ellipse cx="490" cy="334" rx="6" ry="4" fill="#b4604e"/></g><g opacity="0.7" filter="url(#bl05)"><rect x="363" y="326" width="3" height="4" fill="#c07a6a"/><rect x="428" y="304" width="4" height="4" fill="#d09890"/><rect x="730" y="321" width="2" height="5" fill="#4a3e4a"/><rect x="429" y="304" width="3" height="4" fill="#5e4e56"/><rect x="428" y="307" width="3" height="5" fill="#5e4e56"/><rect x="733" y="331" width="2" height="5" fill="#d09890"/><rect x="512" y="324" width="3" height="3" fill="#d09890"/><rect x="756" y="299" width="2" height="4" fill="#4a3e4a"/><rect x="437" y="331" width="4" height="6" fill="#c07a6a"/><rect x="771" y="331" width="2" height="5" fill="#5e4e56"/><rect x="430" y="296" width="4" height="6" fill="#4a3e4a"/><rect x="435" y="325" width="4" height="4" fill="#4a3e4a"/><rect x="350" y="291" width="2" height="6" fill="#a04a3e"/><rect x="662" y="309" width="3" height="5" fill="#d09890"/><rect x="585" y="324" width="2" height="4" fill="#7a3e3a"/><rect x="552" y="296" width="3" height="5" fill="#c07a6a"/><rect x="446" y="290" width="4" height="5" fill="#c07a6a"/><rect x="781" y="304" width="4" height="3" fill="#4a3e4a"/><rect x="619" y="326" width="2" height="3" fill="#a04a3e"/><rect x="678" y="300" width="2" height="6" fill="#a04a3e"/><rect x="351" y="318" width="2" height="6" fill="#4a3e4a"/><rect x="407" y="331" width="2" height="3" fill="#d09890"/><rect x="455" y="313" width="4" height="5" fill="#5e4e56"/><rect x="511" y="336" width="3" height="3" fill="#7a3e3a"/><rect x="372" y="289" width="3" height="3" fill="#c07a6a"/><rect x="526" y="333" width="4" height="4" fill="#7a3e3a"/><rect x="693" y="312" width="4" height="5" fill="#d09890"/><rect x="723" y="301" width="3" height="6" fill="#4a3e4a"/><rect x="719" y="327" width="4" height="6" fill="#4a3e4a"/><rect x="410" y="299" width="3" height="4" fill="#5e4e56"/><rect x="476" y="329" width="4" height="3" fill="#c07a6a"/><rect x="784" y="317" width="2" height="4" fill="#4a3e4a"/><rect x="387" y="336" width="2" height="6" fill="#a04a3e"/><rect x="571" y="311" width="2" height="4" fill="#7a3e3a"/><rect x="727" y="308" width="4" height="3" fill="#5e4e56"/><rect x="663" y="323" width="3" height="5" fill="#a04a3e"/><rect x="717" y="326" width="4" height="4" fill="#d09890"/><rect x="450" y="298" width="3" height="6" fill="#7a3e3a"/><rect x="567" y="330" width="3" height="4" fill="#d09890"/><rect x="375" y="324" width="4" height="3" fill="#7a3e3a"/><rect x="465" y="329" width="2" height="6" fill="#4a3e4a"/><rect x="609" y="323" width="3" height="6" fill="#a04a3e"/><rect x="455" y="314" width="4" height="4" fill="#c07a6a"/><rect x="392" y="337" width="3" height="3" fill="#5e4e56"/><rect x="763" y="293" width="2" height="6" fill="#4a3e4a"/><rect x="696" y="317" width="2" height="6" fill="#c07a6a"/><rect x="497" y="291" width="4" height="4" fill="#d09890"/><rect x="347" y="300" width="2" height="5" fill="#c07a6a"/><rect x="456" y="316" width="3" height="6" fill="#c07a6a"/><rect x="536" y="302" width="2" height="6" fill="#7a3e3a"/><rect x="727" y="317" width="3" height="3" fill="#d09890"/><rect x="518" y="327" width="2" height="5" fill="#d09890"/><rect x="575" y="291" width="3" height="4" fill="#5e4e56"/><rect x="653" y="331" width="4" height="3" fill="#4a3e4a"/><rect x="613" y="297" width="2" height="3" fill="#5e4e56"/><rect x="615" y="296" width="2" height="5" fill="#a04a3e"/><rect x="401" y="325" width="2" height="5" fill="#c07a6a"/><rect x="558" y="338" width="2" height="6" fill="#7a3e3a"/><rect x="782" y="300" width="4" height="5" fill="#d09890"/><rect x="723" y="308" width="2" height="4" fill="#d09890"/><rect x="430" y="311" width="4" height="5" fill="#c07a6a"/><rect x="658" y="291" width="2" height="4" fill="#4a3e4a"/><rect x="335" y="303" width="3" height="3" fill="#7a3e3a"/><rect x="455" y="308" width="2" height="3" fill="#7a3e3a"/><rect x="520" y="329" width="3" height="4" fill="#5e4e56"/><rect x="653" y="333" width="3" height="4" fill="#d09890"/><rect x="740" y="320" width="2" height="4" fill="#d09890"/><rect x="603" y="314" width="4" height="5" fill="#4a3e4a"/><rect x="733" y="337" width="3" height="3" fill="#c07a6a"/><rect x="399" y="310" width="4" height="5" fill="#a04a3e"/><rect x="749" y="317" width="3" height="6" fill="#4a3e4a"/><rect x="782" y="332" width="4" height="4" fill="#c07a6a"/><rect x="455" y="314" width="3" height="3" fill="#4a3e4a"/><rect x="627" y="329" width="2" height="6" fill="#a04a3e"/><rect x="734" y="300" width="3" height="6" fill="#5e4e56"/><rect x="720" y="330" width="2" height="3" fill="#a04a3e"/><rect x="583" y="300" width="2" height="6" fill="#5e4e56"/><rect x="749" y="296" width="3" height="3" fill="#7a3e3a"/><rect x="592" y="288" width="2" height="5" fill="#4a3e4a"/><rect x="371" y="332" width="2" height="6" fill="#a04a3e"/><rect x="596" y="335" width="3" height="6" fill="#7a3e3a"/><rect x="541" y="333" width="3" height="5" fill="#c07a6a"/><rect x="716" y="326" width="2" height="4" fill="#7a3e3a"/><rect x="684" y="297" width="2" height="6" fill="#d09890"/><rect x="461" y="332" width="3" height="3" fill="#5e4e56"/><rect x="383" y="315" width="3" height="4" fill="#d09890"/><rect x="632" y="329" width="2" height="6" fill="#5e4e56"/><rect x="479" y="288" width="3" height="4" fill="#c07a6a"/><rect x="581" y="328" width="4" height="5" fill="#d09890"/><rect x="516" y="294" width="3" height="4" fill="#4a3e4a"/><rect x="620" y="331" width="3" height="6" fill="#c07a6a"/><rect x="649" y="305" width="2" height="3" fill="#a04a3e"/><rect x="662" y="291" width="3" height="3" fill="#7a3e3a"/><rect x="377" y="319" width="2" height="3" fill="#d09890"/><rect x="733" y="297" width="2" height="4" fill="#a04a3e"/><rect x="348" y="290" width="3" height="4" fill="#7a3e3a"/><rect x="408" y="297" width="3" height="4" fill="#d09890"/><rect x="371" y="303" width="4" height="4" fill="#c07a6a"/><rect x="486" y="299" width="3" height="3" fill="#7a3e3a"/><rect x="591" y="290" width="2" height="6" fill="#c07a6a"/><rect x="648" y="306" width="2" height="5" fill="#7a3e3a"/><rect x="578" y="299" width="2" height="3" fill="#a04a3e"/><rect x="399" y="322" width="3" height="3" fill="#7a3e3a"/><rect x="592" y="323" width="2" height="6" fill="#c07a6a"/><rect x="774" y="305" width="2" height="6" fill="#5e4e56"/><rect x="439" y="312" width="3" height="6" fill="#c07a6a"/><rect x="366" y="334" width="4" height="3" fill="#c07a6a"/><rect x="641" y="308" width="3" height="5" fill="#c07a6a"/><rect x="761" y="322" width="4" height="3" fill="#c07a6a"/><rect x="432" y="313" width="4" height="3" fill="#5e4e56"/><rect x="379" y="331" width="2" height="4" fill="#a04a3e"/><rect x="612" y="310" width="2" height="5" fill="#c07a6a"/><rect x="730" y="294" width="4" height="3" fill="#7a3e3a"/><rect x="347" y="332" width="4" height="5" fill="#c07a6a"/><rect x="688" y="295" width="2" height="6" fill="#a04a3e"/><rect x="394" y="328" width="3" height="4" fill="#5e4e56"/><rect x="574" y="331" width="3" height="3" fill="#d09890"/><rect x="718" y="337" width="4" height="6" fill="#5e4e56"/><rect x="737" y="288" width="3" height="3" fill="#5e4e56"/><rect x="376" y="300" width="4" height="3" fill="#5e4e56"/><rect x="546" y="327" width="2" height="5" fill="#4a3e4a"/><rect x="454" y="337" width="2" height="5" fill="#d09890"/><rect x="407" y="324" width="4" height="6" fill="#4a3e4a"/><rect x="542" y="290" width="2" height="6" fill="#c07a6a"/><rect x="403" y="304" width="2" height="5" fill="#5e4e56"/><rect x="350" y="304" width="4" height="3" fill="#a04a3e"/><rect x="379" y="308" width="2" height="5" fill="#a04a3e"/><rect x="683" y="328" width="3" height="3" fill="#5e4e56"/><rect x="458" y="299" width="2" height="5" fill="#d09890"/><rect x="462" y="310" width="3" height="3" fill="#5e4e56"/><rect x="695" y="334" width="4" height="3" fill="#4a3e4a"/><rect x="526" y="298" width="2" height="6" fill="#c07a6a"/><rect x="394" y="309" width="4" height="3" fill="#4a3e4a"/><rect x="373" y="309" width="4" height="6" fill="#c07a6a"/><rect x="740" y="292" width="4" height="6" fill="#4a3e4a"/><rect x="686" y="325" width="3" height="5" fill="#a04a3e"/><rect x="386" y="322" width="3" height="3" fill="#c07a6a"/><rect x="443" y="299" width="2" height="6" fill="#7a3e3a"/><rect x="716" y="331" width="3" height="5" fill="#4a3e4a"/><rect x="495" y="315" width="2" height="6" fill="#a04a3e"/><rect x="686" y="318" width="4" height="5" fill="#c07a6a"/><rect x="422" y="337" width="3" height="6" fill="#a04a3e"/><rect x="368" y="298" width="4" height="3" fill="#4a3e4a"/><rect x="335" y="337" width="4" height="5" fill="#d09890"/><rect x="417" y="322" width="4" height="4" fill="#7a3e3a"/><rect x="586" y="311" width="2" height="3" fill="#4a3e4a"/><rect x="604" y="297" width="4" height="6" fill="#4a3e4a"/><rect x="484" y="328" width="2" height="6" fill="#d09890"/><rect x="438" y="311" width="4" height="6" fill="#c07a6a"/><rect x="558" y="325" width="3" height="4" fill="#a04a3e"/><rect x="568" y="316" width="2" height="5" fill="#d09890"/><rect x="566" y="336" width="4" height="5" fill="#7a3e3a"/><rect x="369" y="329" width="2" height="5" fill="#c07a6a"/><rect x="395" y="305" width="4" height="6" fill="#5e4e56"/><rect x="373" y="311" width="2" height="6" fill="#7a3e3a"/><rect x="534" y="301" width="2" height="4" fill="#d09890"/><rect x="348" y="291" width="4" height="6" fill="#c07a6a"/><rect x="390" y="294" width="4" height="3" fill="#d09890"/><rect x="452" y="326" width="3" height="5" fill="#4a3e4a"/><rect x="673" y="296" width="2" height="4" fill="#d09890"/><rect x="714" y="337" width="2" height="4" fill="#d09890"/><rect x="465" y="308" width="4" height="5" fill="#c07a6a"/><rect x="598" y="295" width="3" height="3" fill="#d09890"/><rect x="369" y="313" width="2" height="6" fill="#5e4e56"/><rect x="438" y="307" width="4" height="6" fill="#7a3e3a"/><rect x="715" y="311" width="4" height="4" fill="#c07a6a"/><rect x="704" y="293" width="3" height="5" fill="#5e4e56"/><rect x="554" y="299" width="3" height="3" fill="#d09890"/><rect x="399" y="322" width="3" height="3" fill="#5e4e56"/><rect x="556" y="299" width="4" height="4" fill="#5e4e56"/><rect x="752" y="310" width="3" height="4" fill="#4a3e4a"/><rect x="733" y="303" width="4" height="5" fill="#5e4e56"/><rect x="782" y="299" width="3" height="6" fill="#d09890"/><rect x="335" y="331" width="3" height="4" fill="#d09890"/><rect x="615" y="291" width="4" height="3" fill="#a04a3e"/><rect x="439" y="292" width="2" height="6" fill="#5e4e56"/><rect x="487" y="303" width="4" height="3" fill="#4a3e4a"/><rect x="560" y="309" width="3" height="3" fill="#a04a3e"/><rect x="669" y="328" width="3" height="6" fill="#a04a3e"/><rect x="713" y="293" width="2" height="3" fill="#c07a6a"/><rect x="771" y="316" width="2" height="5" fill="#7a3e3a"/><rect x="651" y="307" width="4" height="6" fill="#4a3e4a"/><rect x="549" y="294" width="4" height="6" fill="#c07a6a"/><rect x="399" y="316" width="3" height="5" fill="#4a3e4a"/><rect x="479" y="308" width="4" height="5" fill="#d09890"/><rect x="558" y="318" width="2" height="6" fill="#7a3e3a"/><rect x="642" y="306" width="3" height="4" fill="#7a3e3a"/><rect x="485" y="336" width="2" height="5" fill="#4a3e4a"/><rect x="488" y="291" width="2" height="3" fill="#4a3e4a"/><rect x="531" y="290" width="4" height="4" fill="#5e4e56"/><rect x="772" y="328" width="4" height="4" fill="#5e4e56"/><rect x="337" y="323" width="2" height="6" fill="#7a3e3a"/><rect x="472" y="312" width="2" height="6" fill="#a04a3e"/><rect x="703" y="316" width="3" height="6" fill="#4a3e4a"/><rect x="583" y="312" width="2" height="6" fill="#5e4e56"/><rect x="495" y="313" width="2" height="6" fill="#7a3e3a"/><rect x="477" y="305" width="2" height="3" fill="#d09890"/><rect x="612" y="292" width="3" height="5" fill="#4a3e4a"/><rect x="407" y="322" width="2" height="6" fill="#4a3e4a"/><rect x="391" y="300" width="3" height="4" fill="#5e4e56"/><rect x="764" y="297" width="3" height="4" fill="#7a3e3a"/><rect x="562" y="322" width="2" height="3" fill="#5e4e56"/><rect x="526" y="320" width="2" height="4" fill="#a04a3e"/><rect x="769" y="325" width="4" height="3" fill="#4a3e4a"/><rect x="571" y="304" width="3" height="6" fill="#5e4e56"/><rect x="497" y="300" width="2" height="6" fill="#d09890"/><rect x="770" y="302" width="2" height="4" fill="#d09890"/><rect x="435" y="313" width="4" height="4" fill="#c07a6a"/><rect x="456" y="333" width="2" height="6" fill="#7a3e3a"/><rect x="669" y="303" width="2" height="6" fill="#4a3e4a"/><rect x="582" y="326" width="3" height="6" fill="#c07a6a"/><rect x="488" y="293" width="3" height="4" fill="#5e4e56"/><rect x="586" y="313" width="2" height="6" fill="#a04a3e"/><rect x="727" y="317" width="4" height="4" fill="#7a3e3a"/><rect x="534" y="331" width="3" height="6" fill="#5e4e56"/><rect x="476" y="296" width="3" height="5" fill="#4a3e4a"/><rect x="439" y="315" width="4" height="3" fill="#c07a6a"/><rect x="372" y="334" width="3" height="4" fill="#a04a3e"/><rect x="515" y="323" width="2" height="5" fill="#4a3e4a"/><rect x="475" y="304" width="4" height="6" fill="#a04a3e"/><rect x="429" y="319" width="2" height="3" fill="#a04a3e"/><rect x="541" y="330" width="3" height="6" fill="#a04a3e"/><rect x="612" y="320" width="2" height="5" fill="#5e4e56"/><rect x="488" y="333" width="2" height="4" fill="#7a3e3a"/><rect x="421" y="300" width="3" height="6" fill="#c07a6a"/><rect x="679" y="300" width="2" height="5" fill="#7a3e3a"/><rect x="434" y="290" width="3" height="6" fill="#5e4e56"/><rect x="597" y="314" width="2" height="4" fill="#a04a3e"/><rect x="651" y="299" width="2" height="3" fill="#4a3e4a"/><rect x="483" y="335" width="2" height="3" fill="#c07a6a"/><rect x="782" y="309" width="4" height="5" fill="#4a3e4a"/><rect x="484" y="306" width="4" height="3" fill="#5e4e56"/><rect x="444" y="333" width="2" height="6" fill="#7a3e3a"/><rect x="354" y="324" width="3" height="4" fill="#7a3e3a"/><rect x="555" y="314" width="3" height="4" fill="#c07a6a"/><rect x="475" y="289" width="2" height="3" fill="#4a3e4a"/><rect x="545" y="330" width="3" height="4" fill="#a04a3e"/><rect x="646" y="307" width="2" height="5" fill="#4a3e4a"/><rect x="698" y="312" width="2" height="4" fill="#d09890"/><rect x="753" y="305" width="3" height="5" fill="#7a3e3a"/><rect x="435" y="330" width="4" height="6" fill="#c07a6a"/><rect x="743" y="319" width="4" height="6" fill="#4a3e4a"/><rect x="368" y="297" width="2" height="3" fill="#7a3e3a"/><rect x="354" y="336" width="4" height="3" fill="#4a3e4a"/><rect x="537" y="315" width="4" height="3" fill="#d09890"/><rect x="528" y="306" width="3" height="5" fill="#4a3e4a"/><rect x="394" y="311" width="2" height="5" fill="#4a3e4a"/><rect x="502" y="338" width="4" height="4" fill="#d09890"/><rect x="569" y="326" width="3" height="3" fill="#c07a6a"/><rect x="490" y="335" width="2" height="3" fill="#4a3e4a"/><rect x="469" y="308" width="3" height="4" fill="#7a3e3a"/><rect x="464" y="312" width="3" height="4" fill="#d09890"/><rect x="647" y="292" width="2" height="3" fill="#c07a6a"/><rect x="411" y="297" width="3" height="5" fill="#c07a6a"/><rect x="589" y="293" width="4" height="5" fill="#5e4e56"/><rect x="736" y="321" width="2" height="6" fill="#5e4e56"/><rect x="470" y="294" width="3" height="4" fill="#a04a3e"/><rect x="695" y="332" width="4" height="5" fill="#4a3e4a"/><rect x="597" y="307" width="3" height="6" fill="#d09890"/><rect x="533" y="327" width="2" height="6" fill="#a04a3e"/></g><rect x="330.5" y="16" width="1.5" height="323" fill="#cfc6dc"/><rect x="332" y="16" width="1.8" height="323" fill="#3a2a42" opacity="0.85"/><rect x="332" y="296" width="6" height="43" fill="#2e2a3a" opacity="0.8" filter="url(#bl05)"/><rect x="786.5" y="16" width="2.5" height="323" fill="#5e5660" opacity="0.75"/></g><path d="M16.1,109.0 C16.1,103.2 17.4,95.9 18.6,89.3 C19.8,82.7 21.2,74.9 23.5,69.6 C25.8,64.3 29.0,59.8 32.1,57.3 C35.2,54.8 38.7,54.3 42.0,54.3 C45.3,54.3 48.5,55.4 51.8,57.3 C55.1,59.2 59.0,63.7 61.7,65.9 C64.4,68.1 65.0,70.5 68.0,70.5 C71.0,70.5 76.3,67.9 80.0,66.0 C83.7,64.1 87.2,61.7 90.0,59.0 C92.8,56.3 94.7,53.2 97.0,50.0 C99.3,46.8 99.3,43.3 104.0,40.0 C108.7,36.7 115.7,26.7 125.0,30.0 C134.3,33.3 155.5,49.7 160.0,60.0 C164.5,70.3 158.3,85.8 152.0,92.0 C145.7,98.2 129.4,93.8 122.0,97.0 C114.6,100.2 111.0,106.7 107.4,111.0 C103.8,115.3 101.8,119.3 100.5,123.0 C99.2,126.7 99.0,129.8 99.5,133.0 C100.0,136.2 102.4,139.3 103.3,142.5 C104.2,145.7 104.9,148.8 104.7,152.0 C104.5,155.2 103.3,158.4 102.0,161.6 C100.7,164.8 97.7,167.6 96.8,171.0 C95.9,174.4 96.2,175.5 96.4,182.0 C96.6,188.5 97.2,197.0 98.0,210.0 C98.8,223.0 100.0,245.0 101.0,260.0 C102.0,275.0 102.8,283.3 104.0,300.0 C105.2,316.7 106.5,340.0 108.0,360.0 C109.5,380.0 111.8,401.7 113.0,420.0 C114.2,438.3 114.7,453.3 115.5,470.0 C116.3,486.7 117.0,505.0 117.8,520.0 C118.5,535.0 119.0,549.2 120.0,560.0 C121.0,570.8 122.2,578.3 124.0,585.0 C125.8,591.7 126.6,594.4 130.6,600.0 C134.6,605.6 143.4,613.7 147.9,618.9 C152.4,624.1 155.0,626.7 157.3,631.4 C159.7,636.1 161.5,642.0 162.0,647.2 C162.5,652.5 161.2,658.8 160.5,662.9 C159.8,667.0 159.8,668.3 158.0,672.0 C156.2,675.7 157.2,683.0 150.0,685.0 C142.8,687.0 122.7,682.8 115.0,684.0 C107.3,685.2 107.4,691.3 104.0,692.0 C100.6,692.7 97.6,688.8 94.4,688.0 C91.2,687.2 87.7,686.8 85.0,687.3 C82.3,687.8 80.5,690.2 78.0,691.0 C75.5,691.8 76.3,691.0 70.0,692.0 C63.7,693.0 46.8,697.0 40.0,697.0 C33.2,697.0 31.6,694.5 29.0,692.0 C26.4,689.5 25.5,686.0 24.6,682.0 C23.7,678.0 24.0,673.0 23.8,668.0 C23.6,663.0 23.0,657.3 23.6,652.0 C24.2,646.7 25.1,640.7 27.6,636.0 C30.1,631.3 34.2,629.6 38.6,623.6 C43.0,617.6 50.2,607.6 54.3,600.0 C58.4,592.4 60.9,585.5 63.0,578.0 C65.1,570.5 66.2,564.7 67.0,555.0 C67.8,545.3 67.8,534.2 67.5,520.0 C67.2,505.8 65.9,486.7 65.0,470.0 C64.1,453.3 63.2,438.3 62.0,420.0 C60.8,401.7 59.4,380.0 58.0,360.0 C56.6,340.0 55.5,323.3 53.9,300.0 C52.2,276.7 49.7,237.9 48.1,220.0 C46.5,202.1 46.2,202.3 44.4,192.8 C42.5,183.3 39.7,171.8 37.0,163.2 C34.3,154.6 31.5,147.6 28.4,141.0 C25.3,134.4 20.7,129.1 18.6,123.8 C16.6,118.5 16.1,114.8 16.1,109.0Z" fill="#fde6ac" stroke="#4d4d4d" stroke-width="1.1"/><circle cx="137.5" cy="55" r="38.5" fill="#a9c8e3" stroke="#4d4d4d" stroke-width="1.1"/><circle cx="135.5" cy="58" r="34.5" fill="#fde6ac"/><path d="M105,40 A34.5,34.5 0 1 1 154,87" fill="none" stroke="#4d4d4d" stroke-width="0.8" opacity="0.8"/><path d="M101,44 C112,62 125,82 152,92 L122,97 C112,102 104,108 99,122 L80,70Z" fill="#fde6ac"/><defs><radialGradient id="dg"><stop offset="0" stop-color="#4a380c"/><stop offset="0.35" stop-color="#6a5016"/><stop offset="0.7" stop-color="#b8922e"/><stop offset="1" stop-color="#dcbc64" stop-opacity="0.5"/></radialGradient></defs><g fill="url(#dg)"><circle cx="51.9" cy="144.7" r="3.8"/><circle cx="55.2" cy="76.6" r="2.5"/><circle cx="114.1" cy="58.1" r="3.7"/><circle cx="76.2" cy="201.2" r="4.0"/><circle cx="69.4" cy="153.7" r="4.6"/><circle cx="125.6" cy="71.4" r="3.9"/><circle cx="45.6" cy="114.7" r="2.8"/><circle cx="86.4" cy="139.4" r="2.7"/><circle cx="79.4" cy="152.6" r="3.3"/><circle cx="53.9" cy="125.4" r="3.2"/><circle cx="71.4" cy="93.8" r="3.8"/><circle cx="61.6" cy="108.0" r="2.6"/><circle cx="139.6" cy="77.5" r="2.9"/><circle cx="123.2" cy="47.4" r="2.8"/><circle cx="147.6" cy="62.2" r="3.6"/><circle cx="97.1" cy="67.0" r="2.7"/><circle cx="43.5" cy="86.3" r="4.1"/><circle cx="35.1" cy="89.2" r="2.7"/><circle cx="68.7" cy="116.7" r="3.4"/><circle cx="59.8" cy="100.0" r="2.5"/><circle cx="64.0" cy="94.2" r="3.9"/><circle cx="44.6" cy="97.3" r="3.6"/><circle cx="81.9" cy="106.9" r="4.1"/><circle cx="80.2" cy="177.7" r="2.5"/><circle cx="81.0" cy="218.5" r="2.7"/><circle cx="53.7" cy="160.5" r="3.1"/><circle cx="130.8" cy="60.3" r="4.3"/><circle cx="154.1" cy="57.9" r="2.6"/><circle cx="60.9" cy="180.2" r="4.0"/><circle cx="89.3" cy="109.2" r="2.7"/><circle cx="87.4" cy="75.5" r="2.8"/><circle cx="63.6" cy="118.1" r="2.7"/><circle cx="82.6" cy="131.9" r="3.2"/><circle cx="57.6" cy="171.4" r="3.8"/><circle cx="56.2" cy="190.9" r="2.7"/><circle cx="91.6" cy="102.5" r="3.4"/><circle cx="102.8" cy="65.0" r="2.9"/><circle cx="116.6" cy="52.1" r="2.6"/><circle cx="56.2" cy="109.3" r="2.7"/><circle cx="93.2" cy="79.4" r="3.1"/><circle cx="46.3" cy="80.0" r="2.5"/><circle cx="45.0" cy="141.5" r="2.8"/><circle cx="122.7" cy="54.6" r="4.0"/><circle cx="39.9" cy="134.4" r="2.9"/><circle cx="80.4" cy="167.8" r="2.8"/><circle cx="72.5" cy="141.5" r="3.0"/><circle cx="136.4" cy="56.6" r="2.9"/><circle cx="84.4" cy="114.7" r="2.6"/><circle cx="127.8" cy="85.5" r="2.4"/><circle cx="53.7" cy="83.5" r="3.4"/><circle cx="154.5" cy="69.2" r="2.5"/><circle cx="62.2" cy="158.5" r="2.8"/><circle cx="32.8" cy="110.8" r="2.5"/><circle cx="79.3" cy="75.5" r="2.5"/><circle cx="66.7" cy="106.4" r="3.2"/><circle cx="143.0" cy="49.8" r="4.0"/><circle cx="141.3" cy="70.3" r="3.5"/><circle cx="127.8" cy="42.0" r="2.7"/><circle cx="57.8" cy="120.1" r="4.1"/><circle cx="63.4" cy="126.9" r="3.7"/><circle cx="82.0" cy="99.4" r="3.5"/><circle cx="79.8" cy="82.3" r="2.9"/><circle cx="79.2" cy="139.1" r="2.6"/><circle cx="69.5" cy="125.1" r="3.6"/><circle cx="63.8" cy="139.8" r="4.4"/><circle cx="90.6" cy="86.6" r="4.7"/><circle cx="114.8" cy="67.9" r="2.7"/><circle cx="74.4" cy="207.2" r="2.7"/><circle cx="68.5" cy="189.6" r="3.9"/><circle cx="150.3" cy="50.2" r="2.8"/><circle cx="133.7" cy="45.4" r="3.2"/><circle cx="67.9" cy="167.0" r="4.6"/><circle cx="89.4" cy="117.9" r="3.4"/><circle cx="49.2" cy="122.3" r="3.0"/><circle cx="46.2" cy="136.1" r="2.4"/><circle cx="57.8" cy="94.1" r="2.9"/><circle cx="45.9" cy="74.1" r="3.5"/><circle cx="95.3" cy="97.1" r="2.5"/><circle cx="50.6" cy="116.5" r="3.0"/><circle cx="75.6" cy="127.4" r="2.5"/><circle cx="62.4" cy="187.4" r="3.1"/><circle cx="45.5" cy="158.3" r="2.5"/><circle cx="154.4" cy="51.8" r="2.5"/><circle cx="37.5" cy="72.4" r="2.6"/><circle cx="85.5" cy="149.4" r="2.6"/><circle cx="131.4" cy="75.3" r="2.9"/><circle cx="102.0" cy="91.7" r="2.5"/><circle cx="51.7" cy="166.8" r="3.0"/><circle cx="79.9" cy="188.8" r="3.2"/><circle cx="74.6" cy="80.4" r="2.8"/><circle cx="39.1" cy="81.4" r="2.8"/><circle cx="72.7" cy="180.2" r="3.4"/><circle cx="73.8" cy="134.1" r="3.2"/><circle cx="59.7" cy="198.3" r="2.4"/><circle cx="123.5" cy="63.9" r="4.0"/><circle cx="92.9" cy="112.4" r="2.7"/><circle cx="66.5" cy="208.4" r="2.6"/><circle cx="42.7" cy="122.6" r="2.5"/><circle cx="79.5" cy="213.0" r="2.5"/><circle cx="52.2" cy="97.0" r="3.0"/><circle cx="39.1" cy="103.2" r="3.1"/><circle cx="69.3" cy="77.3" r="2.6"/><circle cx="55.9" cy="135.4" r="2.8"/><circle cx="34.9" cy="84.2" r="2.5"/><circle cx="85.4" cy="154.1" r="2.6"/><circle cx="122.1" cy="84.6" r="2.4"/><circle cx="59.8" cy="88.4" r="3.1"/><circle cx="70.8" cy="195.3" r="3.1"/><circle cx="98.3" cy="75.4" r="2.5"/><circle cx="72.9" cy="174.1" r="2.5"/><circle cx="63.9" cy="81.5" r="2.5"/><circle cx="138.2" cy="41.3" r="2.5"/><circle cx="57.0" cy="129.3" r="2.6"/><circle cx="102.2" cy="80.4" r="3.0"/><circle cx="80.2" cy="197.0" r="2.6"/><circle cx="48.7" cy="162.6" r="2.6"/><circle cx="42.6" cy="150.3" r="2.7"/><circle cx="78.5" cy="122.0" r="3.7"/><circle cx="60.5" cy="113.0" r="3.4"/><circle cx="144.6" cy="57.7" r="2.5"/><circle cx="138.7" cy="61.2" r="3.0"/><circle cx="36.0" cy="99.0" r="2.5"/><circle cx="110.3" cy="74.9" r="2.8"/><circle cx="91.0" cy="94.6" r="3.3"/><circle cx="127.2" cy="79.2" r="2.9"/><circle cx="80.2" cy="223.3" r="2.4"/><circle cx="37.3" cy="94.4" r="2.6"/><circle cx="65.7" cy="87.1" r="2.5"/><circle cx="53.0" cy="151.6" r="3.4"/><circle cx="73.5" cy="111.5" r="3.3"/><circle cx="79.2" cy="91.5" r="3.7"/><circle cx="41.6" cy="70.7" r="2.6"/><circle cx="76.9" cy="158.3" r="3.7"/><circle cx="149.0" cy="73.6" r="3.3"/><circle cx="65.4" cy="99.9" r="2.6"/><circle cx="134.4" cy="82.0" r="3.4"/><circle cx="34.4" cy="106.3" r="2.7"/><circle cx="111.6" cy="87.1" r="2.7"/><circle cx="37.3" cy="126.2" r="2.7"/><circle cx="47.4" cy="127.7" r="2.4"/><circle cx="50.5" cy="110.6" r="3.4"/><circle cx="68.1" cy="200.2" r="2.8"/><circle cx="61.3" cy="148.0" r="3.0"/><circle cx="40.5" cy="117.3" r="3.4"/><circle cx="118.3" cy="47.9" r="2.4"/><circle cx="74.5" cy="85.7" r="3.4"/><circle cx="87.3" cy="145.0" r="2.5"/><circle cx="71.6" cy="147.1" r="3.1"/><circle cx="86.9" cy="126.0" r="3.5"/><circle cx="132.0" cy="38.7" r="2.8"/><circle cx="50.1" cy="155.9" r="2.5"/><circle cx="57.0" cy="140.5" r="3.2"/><circle cx="70.1" cy="99.3" r="2.7"/><circle cx="75.4" cy="164.5" r="2.4"/><circle cx="80.5" cy="145.2" r="2.7"/><circle cx="49.4" cy="132.4" r="2.8"/><circle cx="55.5" cy="102.7" r="3.0"/><circle cx="39.0" cy="109.1" r="3.2"/><circle cx="50.4" cy="78.4" r="2.6"/><circle cx="79.3" cy="163.2" r="2.4"/><circle cx="84.7" cy="81.1" r="2.9"/><circle cx="108.4" cy="64.2" r="2.6"/><circle cx="104.1" cy="71.2" r="2.9"/><circle cx="67.6" cy="179.9" r="2.6"/><circle cx="108.6" cy="70.8" r="2.4"/><circle cx="140.5" cy="83.8" r="2.5"/><circle cx="59.1" cy="82.8" r="2.6"/><circle cx="48.0" cy="104.1" r="3.3"/><circle cx="96.2" cy="92.4" r="3.2"/><circle cx="68.3" cy="175.2" r="2.6"/></g><g fill="#6e561c" opacity="0.9"><circle cx="119.1" cy="39.1" r="1.1"/><circle cx="151.2" cy="46.4" r="0.9"/><circle cx="112.1" cy="91.2" r="0.9"/><circle cx="60.6" cy="194.1" r="1.3"/><circle cx="81.8" cy="183.5" r="1.3"/><circle cx="157.7" cy="59.3" r="1.0"/><circle cx="106.2" cy="88.1" r="1.3"/><circle cx="135.0" cy="34.7" r="0.7"/><circle cx="45.9" cy="153.8" r="1.2"/><circle cx="105.6" cy="83.8" r="1.2"/><circle cx="89.3" cy="156.8" r="1.0"/><circle cx="147.4" cy="78.3" r="1.2"/><circle cx="69.7" cy="211.3" r="1.1"/><circle cx="43.7" cy="66.6" r="1.2"/><circle cx="106.7" cy="57.2" r="0.9"/><circle cx="158.9" cy="63.4" r="1.1"/><circle cx="87.4" cy="191.9" r="0.9"/><circle cx="130.8" cy="88.2" r="0.8"/><circle cx="61.1" cy="78.4" r="1.0"/><circle cx="35.4" cy="141.8" r="0.8"/><circle cx="29.5" cy="93.6" r="1.3"/><circle cx="100.5" cy="86.5" r="1.2"/><circle cx="83.4" cy="160.9" r="1.4"/><circle cx="94.3" cy="120.1" r="1.2"/><circle cx="47.9" cy="66.0" r="0.8"/><circle cx="74.6" cy="212.3" r="1.4"/><circle cx="55.8" cy="177.7" r="1.2"/><circle cx="89.2" cy="149.8" r="1.0"/><circle cx="108.6" cy="60.5" r="0.9"/><circle cx="109.7" cy="82.9" r="1.3"/><circle cx="33.9" cy="134.9" r="0.9"/><circle cx="112.7" cy="43.2" r="1.0"/><circle cx="142.1" cy="40.6" r="1.0"/><circle cx="82.8" cy="193.9" r="1.1"/><circle cx="73.2" cy="104.5" r="1.4"/><circle cx="91.8" cy="124.4" r="1.4"/><circle cx="143.7" cy="86.7" r="0.9"/><circle cx="106.0" cy="53.2" r="1.0"/><circle cx="146.6" cy="41.0" r="1.1"/><circle cx="100.7" cy="105.0" r="0.8"/><circle cx="52.0" cy="181.3" r="1.0"/><circle cx="47.0" cy="168.6" r="0.9"/><circle cx="96.1" cy="107.1" r="1.3"/><circle cx="105.6" cy="93.4" r="1.1"/><circle cx="28.9" cy="79.9" r="0.9"/><circle cx="87.9" cy="178.7" r="0.8"/><circle cx="86.9" cy="170.2" r="1.3"/><circle cx="117.0" cy="81.2" r="1.3"/><circle cx="52.4" cy="189.9" r="1.0"/><circle cx="88.1" cy="160.0" r="1.0"/><circle cx="28.1" cy="86.6" r="0.8"/><circle cx="92.8" cy="65.4" r="0.7"/><circle cx="131.6" cy="34.4" r="0.7"/><circle cx="154.5" cy="46.7" r="1.1"/><circle cx="59.7" cy="207.0" r="1.0"/><circle cx="39.5" cy="143.2" r="1.0"/><circle cx="113.4" cy="47.3" r="1.0"/><circle cx="124.1" cy="36.3" r="1.0"/><circle cx="86.7" cy="222.1" r="0.9"/><circle cx="128.4" cy="48.6" r="1.4"/><circle cx="77.3" cy="227.6" r="0.9"/><circle cx="91.2" cy="138.5" r="1.1"/><circle cx="84.3" cy="214.0" r="1.2"/><circle cx="82.7" cy="228.4" r="0.8"/><circle cx="82.4" cy="204.5" r="1.0"/><circle cx="73.8" cy="219.0" r="1.2"/><circle cx="73.2" cy="222.3" r="0.8"/><circle cx="115.7" cy="45.2" r="0.9"/><circle cx="121.4" cy="74.7" r="1.2"/><circle cx="113.7" cy="71.4" r="0.9"/><circle cx="96.9" cy="118.1" r="0.8"/><circle cx="70.9" cy="215.2" r="1.2"/><circle cx="92.0" cy="135.2" r="1.1"/><circle cx="33.1" cy="78.9" r="1.3"/><circle cx="27.9" cy="109.3" r="1.0"/><circle cx="55.6" cy="200.8" r="0.8"/><circle cx="157.9" cy="55.2" r="0.8"/><circle cx="80.3" cy="230.5" r="1.0"/><circle cx="32.0" cy="72.6" r="0.7"/><circle cx="86.1" cy="186.8" r="1.1"/><circle cx="34.1" cy="128.7" r="1.2"/><circle cx="113.1" cy="78.7" r="1.3"/><circle cx="153.5" cy="75.1" r="1.0"/><circle cx="89.8" cy="130.5" r="1.2"/><circle cx="86.7" cy="208.2" r="0.9"/><circle cx="136.6" cy="86.7" r="1.4"/><circle cx="61.5" cy="202.1" r="1.0"/><circle cx="102.6" cy="60.2" r="1.2"/><circle cx="83.9" cy="178.8" r="1.1"/><circle cx="156.9" cy="72.1" r="1.0"/><circle cx="84.7" cy="217.8" r="1.0"/><circle cx="28.8" cy="105.4" r="1.1"/><circle cx="34.0" cy="118.0" r="1.3"/><circle cx="95.4" cy="124.1" r="0.8"/><circle cx="43.9" cy="163.6" r="0.9"/><circle cx="150.8" cy="41.5" r="0.8"/><circle cx="137.7" cy="36.7" r="0.8"/><circle cx="91.7" cy="71.2" r="1.4"/><circle cx="86.3" cy="200.7" r="0.8"/><circle cx="127.6" cy="37.4" r="1.0"/><circle cx="99.2" cy="101.5" r="1.0"/><circle cx="31.3" cy="125.1" r="0.8"/><circle cx="53.0" cy="194.2" r="0.8"/><circle cx="82.9" cy="70.0" r="0.9"/><circle cx="52.4" cy="71.5" r="1.2"/><circle cx="41.0" cy="156.7" r="0.8"/><circle cx="37.0" cy="64.8" r="0.8"/><circle cx="141.2" cy="36.0" r="0.7"/><circle cx="39.2" cy="139.1" r="1.3"/><circle cx="109.9" cy="47.0" r="0.7"/><circle cx="64.7" cy="76.0" r="1.1"/><circle cx="159.0" cy="67.1" r="0.8"/><circle cx="67.3" cy="215.3" r="1.0"/><circle cx="104.8" cy="75.7" r="1.2"/><circle cx="108.8" cy="50.1" r="1.0"/><circle cx="83.2" cy="199.3" r="0.8"/><circle cx="97.7" cy="115.2" r="0.9"/><circle cx="129.1" cy="53.8" r="1.3"/><circle cx="52.1" cy="173.2" r="1.3"/><circle cx="87.4" cy="164.2" r="0.8"/><circle cx="117.6" cy="85.1" r="0.8"/><circle cx="144.0" cy="75.1" r="1.3"/><circle cx="86.9" cy="183.4" r="0.7"/><circle cx="76.8" cy="222.4" r="1.0"/><circle cx="147.8" cy="84.0" r="0.8"/><circle cx="36.6" cy="77.2" r="1.2"/><circle cx="50.2" cy="184.0" r="0.8"/><circle cx="40.2" cy="65.2" r="1.0"/><circle cx="153.4" cy="79.9" r="1.0"/><circle cx="104.8" cy="96.8" r="0.9"/><circle cx="68.6" cy="81.3" r="1.2"/><circle cx="26.6" cy="97.7" r="0.8"/><circle cx="48.9" cy="173.7" r="0.8"/><circle cx="31.0" cy="97.0" r="1.1"/><circle cx="54.1" cy="197.3" r="1.0"/><circle cx="89.8" cy="153.1" r="1.0"/><circle cx="130.4" cy="67.4" r="1.2"/><circle cx="85.2" cy="173.5" r="1.1"/><circle cx="46.8" cy="171.7" r="1.0"/><circle cx="86.6" cy="194.8" r="0.9"/><circle cx="54.2" cy="185.3" r="0.9"/><circle cx="115.3" cy="74.2" r="0.9"/><circle cx="117.9" cy="77.3" r="1.0"/><circle cx="34.3" cy="68.2" r="0.8"/><circle cx="26.8" cy="83.2" r="0.7"/></g><g fill="#a88a38" opacity="0.9"><circle cx="92.1" cy="421.8" r="0.83"/><circle cx="73.4" cy="204.6" r="0.44"/><circle cx="79.9" cy="433.7" r="0.59"/><circle cx="69.9" cy="338.3" r="0.48"/><circle cx="87.1" cy="282.4" r="0.86"/><circle cx="77.1" cy="414.9" r="0.77"/><circle cx="81.7" cy="212.4" r="0.76"/><circle cx="93.4" cy="405.0" r="0.50"/><circle cx="92.0" cy="308.5" r="0.84"/><circle cx="59.0" cy="223.1" r="0.65"/><circle cx="75.0" cy="205.1" r="0.46"/><circle cx="73.4" cy="411.1" r="0.85"/><circle cx="85.2" cy="257.9" r="0.67"/><circle cx="72.6" cy="202.9" r="0.86"/><circle cx="94.9" cy="406.0" r="0.45"/><circle cx="75.0" cy="423.8" r="0.88"/><circle cx="79.3" cy="204.3" r="0.47"/><circle cx="92.6" cy="304.2" r="0.46"/><circle cx="72.2" cy="334.3" r="0.71"/><circle cx="77.0" cy="204.4" r="0.70"/><circle cx="62.8" cy="283.5" r="0.83"/><circle cx="76.0" cy="419.6" r="0.89"/><circle cx="74.6" cy="428.7" r="0.56"/><circle cx="94.4" cy="412.5" r="0.56"/><circle cx="82.5" cy="207.1" r="0.79"/><circle cx="77.0" cy="204.6" r="0.65"/><circle cx="68.3" cy="333.6" r="0.61"/><circle cx="91.1" cy="277.3" r="0.59"/><circle cx="60.8" cy="234.3" r="0.49"/><circle cx="60.8" cy="240.5" r="0.89"/><circle cx="88.6" cy="244.4" r="0.70"/><circle cx="71.8" cy="201.3" r="0.59"/><circle cx="76.4" cy="399.2" r="0.47"/><circle cx="76.3" cy="433.9" r="0.68"/><circle cx="68.6" cy="343.0" r="0.75"/><circle cx="64.7" cy="292.9" r="0.48"/><circle cx="70.4" cy="329.5" r="0.65"/><circle cx="80.3" cy="211.2" r="0.49"/><circle cx="70.8" cy="388.4" r="0.51"/><circle cx="72.5" cy="202.6" r="0.68"/><circle cx="92.6" cy="387.3" r="0.87"/><circle cx="84.5" cy="433.6" r="0.90"/><circle cx="61.9" cy="221.1" r="0.67"/><circle cx="60.5" cy="215.8" r="0.67"/><circle cx="92.2" cy="323.3" r="0.45"/><circle cx="70.2" cy="340.3" r="0.72"/><circle cx="79.4" cy="203.1" r="0.84"/><circle cx="90.4" cy="279.1" r="0.71"/><circle cx="58.7" cy="225.2" r="0.71"/><circle cx="71.3" cy="353.9" r="0.49"/><circle cx="72.8" cy="400.3" r="0.58"/><circle cx="92.0" cy="423.6" r="0.79"/><circle cx="93.7" cy="344.6" r="0.88"/><circle cx="78.2" cy="418.0" r="0.82"/><circle cx="82.3" cy="211.1" r="0.79"/><circle cx="85.8" cy="251.0" r="0.46"/><circle cx="66.5" cy="206.3" r="0.77"/><circle cx="92.3" cy="424.4" r="0.72"/><circle cx="87.7" cy="281.2" r="0.50"/><circle cx="98.0" cy="413.2" r="0.45"/><circle cx="61.4" cy="266.8" r="0.83"/><circle cx="73.2" cy="402.3" r="0.54"/><circle cx="92.6" cy="324.5" r="0.79"/><circle cx="64.4" cy="219.2" r="0.86"/><circle cx="66.1" cy="203.9" r="0.52"/><circle cx="74.6" cy="404.6" r="0.82"/><circle cx="93.2" cy="392.4" r="0.63"/><circle cx="74.5" cy="400.4" r="0.49"/><circle cx="93.9" cy="393.6" r="0.67"/><circle cx="88.1" cy="251.5" r="0.47"/><circle cx="72.2" cy="389.5" r="0.70"/><circle cx="67.4" cy="293.7" r="0.51"/><circle cx="80.5" cy="433.6" r="0.68"/><circle cx="93.6" cy="425.2" r="0.82"/><circle cx="83.7" cy="437.1" r="0.54"/><circle cx="80.5" cy="433.6" r="0.86"/><circle cx="75.8" cy="201.8" r="0.45"/><circle cx="65.1" cy="254.3" r="0.60"/><circle cx="61.7" cy="219.3" r="0.75"/><circle cx="92.1" cy="366.3" r="0.59"/><circle cx="87.4" cy="249.1" r="0.69"/><circle cx="74.6" cy="200.3" r="0.64"/><circle cx="62.2" cy="232.2" r="0.78"/><circle cx="88.4" cy="304.4" r="0.74"/><circle cx="87.9" cy="279.8" r="0.57"/><circle cx="75.2" cy="409.9" r="0.41"/><circle cx="88.3" cy="250.3" r="0.45"/><circle cx="83.4" cy="221.4" r="0.85"/><circle cx="86.7" cy="269.5" r="0.61"/><circle cx="64.4" cy="243.0" r="0.76"/><circle cx="86.3" cy="436.3" r="0.60"/><circle cx="93.3" cy="426.1" r="0.68"/><circle cx="65.4" cy="210.6" r="0.58"/><circle cx="63.0" cy="223.5" r="0.49"/><circle cx="85.2" cy="436.2" r="0.74"/><circle cx="67.5" cy="202.1" r="0.83"/><circle cx="75.0" cy="424.0" r="0.54"/><circle cx="83.6" cy="216.3" r="0.60"/><circle cx="64.4" cy="283.4" r="0.42"/><circle cx="84.6" cy="242.5" r="0.50"/><circle cx="72.1" cy="363.4" r="0.82"/><circle cx="66.2" cy="272.8" r="0.59"/><circle cx="66.6" cy="204.3" r="0.64"/><circle cx="88.5" cy="247.1" r="0.45"/><circle cx="67.8" cy="203.8" r="0.71"/><circle cx="64.9" cy="203.7" r="0.50"/><circle cx="79.7" cy="203.0" r="0.83"/><circle cx="85.3" cy="261.8" r="0.46"/><circle cx="90.1" cy="327.1" r="0.72"/><circle cx="63.3" cy="208.1" r="0.56"/><circle cx="63.2" cy="211.1" r="0.77"/><circle cx="85.6" cy="261.9" r="0.82"/><circle cx="68.8" cy="332.4" r="0.75"/><circle cx="81.9" cy="207.5" r="0.87"/><circle cx="80.0" cy="204.0" r="0.82"/><circle cx="94.2" cy="373.3" r="0.57"/><circle cx="87.5" cy="433.7" r="0.89"/><circle cx="91.3" cy="329.3" r="0.80"/><circle cx="84.0" cy="434.0" r="0.84"/><circle cx="63.6" cy="253.9" r="0.53"/><circle cx="92.0" cy="422.2" r="0.60"/><circle cx="64.6" cy="206.6" r="0.80"/><circle cx="72.1" cy="375.1" r="0.62"/><circle cx="96.6" cy="390.8" r="0.88"/><circle cx="68.2" cy="201.6" r="0.55"/><circle cx="71.6" cy="203.1" r="0.50"/><circle cx="73.5" cy="399.4" r="0.88"/><circle cx="88.9" cy="249.5" r="0.73"/><circle cx="86.4" cy="228.3" r="0.50"/><circle cx="92.3" cy="426.7" r="0.78"/><circle cx="71.6" cy="378.5" r="0.79"/><circle cx="93.1" cy="424.4" r="0.64"/><circle cx="81.4" cy="210.4" r="0.76"/><circle cx="80.7" cy="206.7" r="0.67"/><circle cx="86.2" cy="230.5" r="0.67"/><circle cx="64.7" cy="204.4" r="0.54"/><circle cx="68.1" cy="340.7" r="0.75"/><circle cx="63.6" cy="287.9" r="0.84"/><circle cx="86.0" cy="436.1" r="0.78"/><circle cx="95.1" cy="376.3" r="0.89"/><circle cx="69.9" cy="343.2" r="0.84"/><circle cx="93.0" cy="342.5" r="0.88"/><circle cx="91.2" cy="294.2" r="0.80"/><circle cx="80.1" cy="205.1" r="0.81"/><circle cx="91.8" cy="418.4" r="0.82"/><circle cx="61.7" cy="220.6" r="0.79"/><circle cx="60.2" cy="229.8" r="0.55"/><circle cx="80.1" cy="202.1" r="0.44"/><circle cx="60.6" cy="216.4" r="0.81"/><circle cx="88.9" cy="289.1" r="0.75"/><circle cx="70.2" cy="204.4" r="0.67"/><circle cx="96.0" cy="397.3" r="0.52"/><circle cx="69.5" cy="345.4" r="0.76"/><circle cx="84.5" cy="248.5" r="0.47"/><circle cx="88.5" cy="437.5" r="0.59"/><circle cx="82.2" cy="434.2" r="0.57"/><circle cx="62.5" cy="264.6" r="0.44"/><circle cx="80.9" cy="208.1" r="0.58"/><circle cx="88.1" cy="273.1" r="0.87"/><circle cx="71.8" cy="389.7" r="0.48"/><circle cx="81.5" cy="202.9" r="0.48"/><circle cx="60.9" cy="254.6" r="0.48"/><circle cx="62.7" cy="218.4" r="0.44"/><circle cx="60.7" cy="216.9" r="0.75"/><circle cx="75.8" cy="416.7" r="0.54"/><circle cx="70.7" cy="376.1" r="0.53"/><circle cx="95.5" cy="374.5" r="0.72"/><circle cx="70.0" cy="377.1" r="0.84"/><circle cx="66.4" cy="304.8" r="0.87"/><circle cx="88.7" cy="306.3" r="0.41"/><circle cx="86.8" cy="278.0" r="0.60"/><circle cx="73.2" cy="204.4" r="0.76"/><circle cx="79.9" cy="202.2" r="0.80"/><circle cx="72.8" cy="377.6" r="0.89"/><circle cx="89.9" cy="262.9" r="0.45"/><circle cx="85.8" cy="269.7" r="0.49"/><circle cx="76.0" cy="427.5" r="0.79"/><circle cx="78.9" cy="437.2" r="0.47"/><circle cx="78.4" cy="205.2" r="0.78"/><circle cx="72.8" cy="344.3" r="0.68"/><circle cx="87.0" cy="244.1" r="0.75"/><circle cx="90.7" cy="357.6" r="0.47"/><circle cx="68.5" cy="314.0" r="0.56"/><circle cx="67.6" cy="316.9" r="0.50"/><circle cx="71.9" cy="202.6" r="0.50"/><circle cx="94.5" cy="418.1" r="0.77"/><circle cx="92.9" cy="348.8" r="0.47"/><circle cx="60.5" cy="252.9" r="0.82"/><circle cx="82.9" cy="214.4" r="0.87"/><circle cx="66.9" cy="205.4" r="0.81"/><circle cx="84.8" cy="434.3" r="0.43"/><circle cx="75.6" cy="204.7" r="0.70"/><circle cx="82.5" cy="207.3" r="0.61"/><circle cx="95.2" cy="370.6" r="0.77"/><circle cx="87.9" cy="247.0" r="0.43"/><circle cx="77.1" cy="202.3" r="0.53"/><circle cx="62.2" cy="213.0" r="0.45"/><circle cx="78.7" cy="203.4" r="0.44"/><circle cx="84.6" cy="433.6" r="0.64"/><circle cx="84.2" cy="235.0" r="0.61"/><circle cx="93.4" cy="366.7" r="0.71"/><circle cx="66.7" cy="205.3" r="0.88"/><circle cx="72.9" cy="201.0" r="0.59"/><circle cx="92.5" cy="363.6" r="0.57"/><circle cx="91.1" cy="432.4" r="0.88"/><circle cx="93.0" cy="377.3" r="0.82"/><circle cx="59.2" cy="223.2" r="0.61"/><circle cx="91.2" cy="330.0" r="0.59"/><circle cx="86.2" cy="436.4" r="0.67"/><circle cx="84.6" cy="248.2" r="0.82"/><circle cx="90.9" cy="348.7" r="0.71"/><circle cx="78.9" cy="425.0" r="0.69"/><circle cx="77.5" cy="414.7" r="0.48"/><circle cx="82.3" cy="213.0" r="0.83"/><circle cx="67.5" cy="206.5" r="0.73"/><circle cx="71.7" cy="372.4" r="0.55"/><circle cx="80.4" cy="212.7" r="0.79"/><circle cx="63.2" cy="236.1" r="0.58"/><circle cx="92.3" cy="307.0" r="0.55"/><circle cx="73.0" cy="369.4" r="0.46"/><circle cx="84.8" cy="239.8" r="0.42"/><circle cx="62.3" cy="252.3" r="0.58"/><circle cx="59.9" cy="241.9" r="0.52"/><circle cx="86.0" cy="436.9" r="0.67"/><circle cx="66.4" cy="324.4" r="0.65"/><circle cx="71.5" cy="395.0" r="0.44"/><circle cx="75.9" cy="206.0" r="0.48"/><circle cx="69.4" cy="352.6" r="0.51"/><circle cx="76.3" cy="409.9" r="0.67"/><circle cx="66.4" cy="323.8" r="0.52"/><circle cx="95.5" cy="417.5" r="0.50"/><circle cx="83.2" cy="433.9" r="0.54"/><circle cx="73.3" cy="204.8" r="0.56"/><circle cx="67.7" cy="328.5" r="0.84"/><circle cx="75.2" cy="205.0" r="0.78"/><circle cx="85.3" cy="216.6" r="0.48"/><circle cx="72.8" cy="367.5" r="0.81"/><circle cx="59.4" cy="234.9" r="0.69"/><circle cx="73.6" cy="204.9" r="0.57"/><circle cx="90.8" cy="436.2" r="0.88"/><circle cx="84.5" cy="208.6" r="0.58"/><circle cx="88.4" cy="249.0" r="0.63"/><circle cx="88.7" cy="434.8" r="0.48"/><circle cx="67.5" cy="322.1" r="0.88"/><circle cx="84.0" cy="212.2" r="0.61"/><circle cx="73.0" cy="400.1" r="0.84"/><circle cx="67.4" cy="300.2" r="0.42"/><circle cx="67.2" cy="284.1" r="0.71"/><circle cx="87.6" cy="229.3" r="0.43"/><circle cx="71.2" cy="339.1" r="0.69"/><circle cx="64.6" cy="208.5" r="0.88"/><circle cx="74.1" cy="381.8" r="0.78"/><circle cx="64.9" cy="284.6" r="0.50"/><circle cx="73.5" cy="371.9" r="0.43"/><circle cx="70.6" cy="336.3" r="0.48"/><circle cx="62.7" cy="223.4" r="0.47"/><circle cx="90.4" cy="301.2" r="0.89"/><circle cx="84.7" cy="244.3" r="0.52"/><circle cx="77.8" cy="425.5" r="0.42"/><circle cx="72.0" cy="338.9" r="0.45"/></g><path d="M72.6,202.5 C75.0,202.1 78.2,202.0 80.0,204.0 C81.8,206.0 83.4,209.1 84.4,216.0 C85.5,222.9 86.2,238.9 87.0,250.0 C87.8,261.1 88.8,278.0 89.5,290.0 C90.2,302.0 90.9,316.5 91.5,330.0 C92.1,343.5 93.1,367.2 93.8,380.0 C94.5,392.8 96.9,406.6 96.0,415.0 C95.1,423.4 90.7,432.9 88.0,436.0 C85.3,439.1 80.2,442.9 78.0,436.0 C75.8,429.1 74.0,402.9 73.0,390.0 C72.0,377.1 72.5,363.5 71.5,350.0 C70.5,336.5 67.3,313.5 66.0,300.0 C64.7,286.5 63.8,271.2 63.0,260.0 C62.2,248.8 60.9,232.9 61.0,225.0 C61.1,217.1 62.3,210.4 64.0,207.0 C65.7,203.6 70.2,202.9 72.6,202.5Z" fill="#c7a65c" stroke="#5a4a2a" stroke-width="0.9"/><path d="M66,230 C68,280 72,330 76,380 M84,240 C86,290 88,330 90,380" fill="none" stroke="#dcc488" stroke-width="2.5" opacity="0.6"/><path d="M77,216 Q70,220 65,226 Q63,230 62,236 M68,222 Q64,223 62,223 M77,212 Q81,214 84,222 M81.5,258 Q74,266 66,272 Q64,275 64,280 M72,267 Q69,268 67,266 M83,276 Q86,280 88.7,288 M84,306 Q77,314 71,320 Q69,324 69,330 M75,317 Q72,316 70,314 M84,320 Q88,322 91.6,328" fill="none" stroke="#3a2a2a" stroke-width="3.4" stroke-linecap="round" stroke-linejoin="round" opacity="0.55"/><path d="M77,216 Q70,220 65,226 Q63,230 62,236 M68,222 Q64,223 62,223 M77,212 Q81,214 84,222 M81.5,258 Q74,266 66,272 Q64,275 64,280 M72,267 Q69,268 67,266 M83,276 Q86,280 88.7,288 M84,306 Q77,314 71,320 Q69,324 69,330 M75,317 Q72,316 70,314 M84,320 Q88,322 91.6,328" fill="none" stroke="#27a4d4" stroke-width="2.4" stroke-linecap="round" stroke-linejoin="round"/><path d="M73,229 Q67,233 62.9,240 M74,235 Q80,236 86,242 M75.5,254 Q70,258 64.3,264 M77,258 Q84,260 87,266 Q88.5,272 88.7,282 M78,284 Q72,287 68,294 M79.6,304 Q85,305 90.2,310 M80.5,334 Q87,340 93,350.3 M81,350 Q76,354 73.7,362" fill="none" stroke="#3a2a2a" stroke-width="3.6" stroke-linecap="round" stroke-linejoin="round" opacity="0.55"/><path d="M73,229 Q67,233 62.9,240 M74,235 Q80,236 86,242 M75.5,254 Q70,258 64.3,264 M77,258 Q84,260 87,266 Q88.5,272 88.7,282 M78,284 Q72,287 68,294 M79.6,304 Q85,305 90.2,310 M80.5,334 Q87,340 93,350.3 M81,350 Q76,354 73.7,362" fill="none" stroke="#ec1c24" stroke-width="2.6" stroke-linecap="round" stroke-linejoin="round"/><path d="M74.4,204 C76,212 79,232 80.1,242.3 C81,255 82,262 82.3,266.7 C83,280 84,292 85.5,299 C84,305 83,311 83,311.5 C84,325 84,335 84.4,340.2 C86,350 88,360 88.7,366" fill="none" stroke="#3a2a2a" stroke-width="4.4" stroke-linecap="round" stroke-linejoin="round" opacity="0.55"/><path d="M74.4,204 C76,212 79,232 80.1,242.3 C81,255 82,262 82.3,266.7 C83,280 84,292 85.5,299 C84,305 83,311 83,311.5 C84,325 84,335 84.4,340.2 C86,350 88,360 88.7,366" fill="none" stroke="#27a4d4" stroke-width="3.4" stroke-linecap="round" stroke-linejoin="round"/><path d="M68,204 C70,212 73,222 73,223.7 C74,235 75,245 75.1,252.4 C76,262 77,270 77.3,274 C78,285 79,292 79.5,300 C79.5,310 79.4,320 79.4,325.9 C80,340 81,355 82.3,367" fill="none" stroke="#3a2a2a" stroke-width="5.0" stroke-linecap="round" stroke-linejoin="round" opacity="0.55"/><path d="M68,204 C70,212 73,222 73,223.7 C74,235 75,245 75.1,252.4 C76,262 77,270 77.3,274 C78,285 79,292 79.5,300 C79.5,310 79.4,320 79.4,325.9 C80,340 81,355 82.3,367" fill="none" stroke="#ec1c24" stroke-width="4.0" stroke-linecap="round" stroke-linejoin="round"/><path d="M65,433 L112,433 C110,448 100,458 88,458 C76,458 67,448 65,433Z" fill="#fdf2d3" stroke="#4d4d4d" stroke-width="1"/><path d="M76,371 L94.3,371 L98.4,437 C98.4,445 92,448 88,448 C82,448 78.2,444 78.2,437Z" fill="#e4afd6" stroke="#4d4d4d" stroke-width="1"/><path d="M80.5,378 L82,436" stroke="#f4d8ec" stroke-width="2.4" stroke-linecap="round"/><path d="M93,380 L95.5,438" stroke="#d394c6" stroke-width="2" stroke-linecap="round" opacity="0.8"/><ellipse cx="84.8" cy="371.6" rx="9.4" ry="5.0" fill="#f5e0ee" stroke="#4d4d4d" stroke-width="1"/><path d="M77,457 C85,462 100,459 106,453 C106,490 99,522 91,545 C85,522 78,490 77,457Z" fill="#f1c862" stroke="#4d4d4d" stroke-width="1"/><path d="M80,462 C84,490 88,520 91,540 C87,515 83,490 82,462Z" fill="#f7dc94" opacity="0.8"/><path d="M102,470 C101,500 97,525 93,540" fill="none" stroke="#fff" stroke-width="1.2" opacity="0.7"/><path d="M75,458 C80,464 78,472 70,476 C66,478 62,479 58,480 C66,505 78,525 90,545 C84,522 79,492 77,457Z" fill="#fdf0cf" stroke="#4d4d4d" stroke-width="1"/><defs><clipPath id="boneclip"><path d="M16.1,109.0 C16.1,103.2 17.4,95.9 18.6,89.3 C19.8,82.7 21.2,74.9 23.5,69.6 C25.8,64.3 29.0,59.8 32.1,57.3 C35.2,54.8 38.7,54.3 42.0,54.3 C45.3,54.3 48.5,55.4 51.8,57.3 C55.1,59.2 59.0,63.7 61.7,65.9 C64.4,68.1 65.0,70.5 68.0,70.5 C71.0,70.5 76.3,67.9 80.0,66.0 C83.7,64.1 87.2,61.7 90.0,59.0 C92.8,56.3 94.7,53.2 97.0,50.0 C99.3,46.8 99.3,43.3 104.0,40.0 C108.7,36.7 115.7,26.7 125.0,30.0 C134.3,33.3 155.5,49.7 160.0,60.0 C164.5,70.3 158.3,85.8 152.0,92.0 C145.7,98.2 129.4,93.8 122.0,97.0 C114.6,100.2 111.0,106.7 107.4,111.0 C103.8,115.3 101.8,119.3 100.5,123.0 C99.2,126.7 99.0,129.8 99.5,133.0 C100.0,136.2 102.4,139.3 103.3,142.5 C104.2,145.7 104.9,148.8 104.7,152.0 C104.5,155.2 103.3,158.4 102.0,161.6 C100.7,164.8 97.7,167.6 96.8,171.0 C95.9,174.4 96.2,175.5 96.4,182.0 C96.6,188.5 97.2,197.0 98.0,210.0 C98.8,223.0 100.0,245.0 101.0,260.0 C102.0,275.0 102.8,283.3 104.0,300.0 C105.2,316.7 106.5,340.0 108.0,360.0 C109.5,380.0 111.8,401.7 113.0,420.0 C114.2,438.3 114.7,453.3 115.5,470.0 C116.3,486.7 117.0,505.0 117.8,520.0 C118.5,535.0 119.0,549.2 120.0,560.0 C121.0,570.8 122.2,578.3 124.0,585.0 C125.8,591.7 126.6,594.4 130.6,600.0 C134.6,605.6 143.4,613.7 147.9,618.9 C152.4,624.1 155.0,626.7 157.3,631.4 C159.7,636.1 161.5,642.0 162.0,647.2 C162.5,652.5 161.2,658.8 160.5,662.9 C159.8,667.0 159.8,668.3 158.0,672.0 C156.2,675.7 157.2,683.0 150.0,685.0 C142.8,687.0 122.7,682.8 115.0,684.0 C107.3,685.2 107.4,691.3 104.0,692.0 C100.6,692.7 97.6,688.8 94.4,688.0 C91.2,687.2 87.7,686.8 85.0,687.3 C82.3,687.8 80.5,690.2 78.0,691.0 C75.5,691.8 76.3,691.0 70.0,692.0 C63.7,693.0 46.8,697.0 40.0,697.0 C33.2,697.0 31.6,694.5 29.0,692.0 C26.4,689.5 25.5,686.0 24.6,682.0 C23.7,678.0 24.0,673.0 23.8,668.0 C23.6,663.0 23.0,657.3 23.6,652.0 C24.2,646.7 25.1,640.7 27.6,636.0 C30.1,631.3 34.2,629.6 38.6,623.6 C43.0,617.6 50.2,607.6 54.3,600.0 C58.4,592.4 60.9,585.5 63.0,578.0 C65.1,570.5 66.2,564.7 67.0,555.0 C67.8,545.3 67.8,534.2 67.5,520.0 C67.2,505.8 65.9,486.7 65.0,470.0 C64.1,453.3 63.2,438.3 62.0,420.0 C60.8,401.7 59.4,380.0 58.0,360.0 C56.6,340.0 55.5,323.3 53.9,300.0 C52.2,276.7 49.7,237.9 48.1,220.0 C46.5,202.1 46.2,202.3 44.4,192.8 C42.5,183.3 39.7,171.8 37.0,163.2 C34.3,154.6 31.5,147.6 28.4,141.0 C25.3,134.4 20.7,129.1 18.6,123.8 C16.6,118.5 16.1,114.8 16.1,109.0Z"/></clipPath></defs><g clip-path="url(#boneclip)"><path d="M87.5,549 C84,560 80,568 79,575 C77,590 76,600 73,608 C68,620 60,630 50,634 C40,637 32,638 20,640 L20,700 L170,700 L165,648 C158,645 150,643 145,642 C135,640 127,636 120,630 C110,622 105,615 102,608 C98,598 95,585 92.4,573 C91,565 89,556 87.5,549Z" fill="#f3d383"/></g><path d="M77.6,566 C76,590 72,605 66,615 C60,624 56,629 51,632" fill="none" stroke="#fff" stroke-width="1.4" opacity="0.9" stroke-linecap="round"/><path d="M104,611 C110,620 118,626 124,630 C128,633 130,636 131.8,638.5" fill="none" stroke="#fff" stroke-width="1.4" opacity="0.9" stroke-linecap="round"/><path d="M40,220 C46,260 52,300 56,340" fill="none" stroke="#fff" stroke-width="1.2" opacity="0.7" stroke-linecap="round"/><path d="M33.9,650.3 C35.2,647.8 42.5,646.7 46.4,646.4 C50.2,646.1 63.3,646.6 66.9,648.0 C70.5,649.4 75.6,655.0 77.1,658.2 C78.6,661.4 79.4,671.5 79.4,675.5 C79.4,679.5 78.4,689.5 77.1,692.8 C75.8,696.1 71.7,702.1 68.5,703.8 C65.3,705.5 54.0,708.1 49.6,707.7 C45.2,707.3 33.7,702.5 30.7,700.6 C27.7,698.7 24.9,692.8 24.3,691.0 C23.7,689.2 24.7,685.9 25.5,685.0 C26.3,684.1 29.9,685.0 31.0,683.0 C32.1,681.0 34.7,671.8 35.0,668.0 C35.3,664.2 32.6,652.8 33.9,650.3Z" fill="#a8c7e1"/><path d="M72,656 C78,668 79,690 70,702 C60,708 45,706 36,700 C50,702 62,700 68,692 C74,680 74,665 72,656Z" fill="#5f9bcb"/><path d="M37,690 C36,676 35,662 38,654 C42,650 48,649 52,649" fill="none" stroke="#f4f8fc" stroke-width="1.6" stroke-linecap="round"/><path d="M33.9,650.3 C35.2,647.8 42.5,646.7 46.4,646.4 C50.2,646.1 63.3,646.6 66.9,648.0 C70.5,649.4 75.6,655.0 77.1,658.2 C78.6,661.4 79.4,671.5 79.4,675.5 C79.4,679.5 78.4,689.5 77.1,692.8 C75.8,696.1 71.7,702.1 68.5,703.8 C65.3,705.5 54.0,708.1 49.6,707.7 C45.2,707.3 33.7,702.5 30.7,700.6 C27.7,698.7 24.9,692.8 24.3,691.0 C23.7,689.2 24.7,685.9 25.5,685.0 C26.3,684.1 29.9,685.0 31.0,683.0 C32.1,681.0 34.7,671.8 35.0,668.0 C35.3,664.2 32.6,652.8 33.9,650.3Z" fill="none" stroke="#4d4d4d" stroke-width="1.1"/><path d="M107.0,651.9 C108.6,650.6 115.8,647.7 119.6,647.2 C123.4,646.7 136.2,647.1 140.0,648.0 C143.8,648.9 150.5,652.4 152.6,655.0 C154.7,657.6 157.5,665.9 158.1,670.7 C158.7,675.5 158.7,691.9 158.1,695.9 C157.5,699.9 155.6,703.8 152.6,705.3 C149.6,706.8 137.3,708.7 132.2,708.5 C127.1,708.3 111.8,705.6 108.6,703.8 C105.4,702.0 104.7,696.3 104.7,692.8 C104.7,689.3 108.4,678.0 108.6,673.9 C108.8,669.8 106.4,660.6 106.2,658.0 C106.0,655.4 105.4,653.2 107.0,651.9Z" fill="#a8c7e1"/><path d="M150,655 C157,668 158,690 152,703 C142,709 125,709 112,704 C128,704 142,700 148,692 C153,680 153,665 150,655Z" fill="#5f9bcb"/><path d="M110,690 C111,680 109,668 109,660 C111,652 116,650 122,650" fill="none" stroke="#f4f8fc" stroke-width="1.6" stroke-linecap="round"/><path d="M107.0,651.9 C108.6,650.6 115.8,647.7 119.6,647.2 C123.4,646.7 136.2,647.1 140.0,648.0 C143.8,648.9 150.5,652.4 152.6,655.0 C154.7,657.6 157.5,665.9 158.1,670.7 C158.7,675.5 158.7,691.9 158.1,695.9 C157.5,699.9 155.6,703.8 152.6,705.3 C149.6,706.8 137.3,708.7 132.2,708.5 C127.1,708.3 111.8,705.6 108.6,703.8 C105.4,702.0 104.7,696.3 104.7,692.8 C104.7,689.3 108.4,678.0 108.6,673.9 C108.8,669.8 106.4,660.6 106.2,658.0 C106.0,655.4 105.4,653.2 107.0,651.9Z" fill="none" stroke="#4d4d4d" stroke-width="1.1"/><polygon points="106.38,47.23 140.18,79.89 125.02,95.57 91.22,62.91" fill="none" stroke="#000" stroke-width="4.3" stroke-linejoin="miter"/><line x1="136" y1="91.4" x2="262" y2="132.6" stroke="#000" stroke-width="13.6" stroke-linecap="round"/><polygon points="263.07,117 278,137.4 252.15,147.1" fill="#000" stroke="#000" stroke-width="6" stroke-linejoin="round"/><rect x="590.25" y="138.25" width="19.1" height="17.7" fill="none" stroke="#000" stroke-width="5.3"/><line x1="601.2" y1="158" x2="601.2" y2="380" stroke="#000" stroke-width="9.6"/><polygon points="590.6,379 611.4,379 601,393" fill="#000" stroke="#000" stroke-width="5" stroke-linejoin="round"/><defs><clipPath id="cellclip"><path d="M489.8,520.0 C490.6,513.0 493.2,507.2 496.0,500.0 C498.8,492.8 504.0,479.9 508.5,472.3 C513.0,464.7 519.9,455.1 526.3,449.0 C532.7,442.9 543.2,435.3 551.2,431.4 C559.2,427.5 571.5,424.8 579.6,423.3 C587.7,421.8 596.6,420.9 605.0,421.6 C613.4,422.3 626.2,425.0 635.6,427.8 C645.0,430.6 659.6,435.7 667.6,440.2 C675.6,444.7 683.4,451.9 689.0,458.0 C694.6,464.1 701.3,473.5 705.0,481.2 C708.7,488.9 712.2,500.8 713.9,509.6 C715.6,518.4 716.5,531.5 716.5,540.0 C716.5,548.5 715.6,558.3 713.9,566.0 C712.2,573.7 709.0,583.7 705.0,591.2 C701.0,598.7 694.1,610.1 687.2,616.0 C680.3,621.9 667.8,627.5 658.7,630.3 C649.6,633.1 635.5,634.1 626.7,634.5 C617.9,634.9 607.3,634.2 600.0,633.0 C592.7,631.8 585.2,629.6 577.9,626.8 C570.6,624.0 559.2,618.3 551.2,614.3 C543.2,610.3 530.9,603.9 524.5,600.0 C518.1,596.1 512.8,592.5 508.5,588.0 C504.2,583.5 498.7,576.0 496.0,569.8 C493.3,563.6 491.4,554.2 490.5,546.7 C489.6,539.2 489.0,527.0 489.8,520.0Z"/></clipPath><clipPath id="nucclip"><path d="M515.6,516.8 C516.4,509.9 518.6,498.8 521.0,491.9 C523.4,485.0 527.6,475.8 531.6,470.5 C535.6,465.2 541.5,459.4 547.6,456.3 C553.7,453.2 565.3,450.7 572.5,450.0 C579.7,449.3 590.0,450.9 595.7,451.8 C601.4,452.7 605.1,454.6 610.3,455.8 C615.5,457.0 625.1,457.6 630.2,459.8 C635.3,462.0 640.5,466.5 644.5,470.5 C648.5,474.5 654.2,480.6 657.0,486.5 C659.8,492.4 662.2,502.4 663.2,509.6 C664.2,516.8 665.5,527.3 664.0,534.6 C662.5,541.9 657.7,550.6 653.4,558.0 C649.1,565.4 640.9,578.0 635.6,584.0 C630.3,590.0 622.7,595.1 617.8,598.3 C612.9,601.4 607.6,604.5 603.0,605.0 C598.4,605.5 592.4,603.7 586.8,601.9 C581.2,600.1 571.3,596.5 565.4,593.0 C559.5,589.5 552.4,582.2 547.6,578.7 C542.8,575.2 537.4,573.3 533.4,569.8 C529.4,566.3 523.7,560.4 521.0,555.6 C518.3,550.8 516.4,543.6 515.6,537.8 C514.8,532.0 514.8,523.7 515.6,516.8Z"/></clipPath></defs><path d="M489.8,520.0 C490.6,513.0 493.2,507.2 496.0,500.0 C498.8,492.8 504.0,479.9 508.5,472.3 C513.0,464.7 519.9,455.1 526.3,449.0 C532.7,442.9 543.2,435.3 551.2,431.4 C559.2,427.5 571.5,424.8 579.6,423.3 C587.7,421.8 596.6,420.9 605.0,421.6 C613.4,422.3 626.2,425.0 635.6,427.8 C645.0,430.6 659.6,435.7 667.6,440.2 C675.6,444.7 683.4,451.9 689.0,458.0 C694.6,464.1 701.3,473.5 705.0,481.2 C708.7,488.9 712.2,500.8 713.9,509.6 C715.6,518.4 716.5,531.5 716.5,540.0 C716.5,548.5 715.6,558.3 713.9,566.0 C712.2,573.7 709.0,583.7 705.0,591.2 C701.0,598.7 694.1,610.1 687.2,616.0 C680.3,621.9 667.8,627.5 658.7,630.3 C649.6,633.1 635.5,634.1 626.7,634.5 C617.9,634.9 607.3,634.2 600.0,633.0 C592.7,631.8 585.2,629.6 577.9,626.8 C570.6,624.0 559.2,618.3 551.2,614.3 C543.2,610.3 530.9,603.9 524.5,600.0 C518.1,596.1 512.8,592.5 508.5,588.0 C504.2,583.5 498.7,576.0 496.0,569.8 C493.3,563.6 491.4,554.2 490.5,546.7 C489.6,539.2 489.0,527.0 489.8,520.0Z" fill="#6ec4c7"/><g clip-path="url(#cellclip)"><path d="M480.0,600.0 C473.7,589.2 468.5,545.5 470.0,520.0 C471.5,494.5 470.5,447.2 490.0,430.0 C509.5,412.8 577.5,406.5 600.0,405.0 C622.5,403.5 629.8,414.4 640.0,420.0 C650.2,425.6 661.4,435.6 668.0,442.0 C674.6,448.4 680.1,455.8 684.0,463.0 C687.9,470.2 691.7,481.9 694.0,490.0 C696.3,498.1 698.9,509.5 699.6,517.0 C700.4,524.5 700.1,534.1 699.0,540.0 C697.9,545.9 695.1,551.8 692.0,556.0 C688.9,560.2 682.5,564.4 678.0,568.0 C673.5,571.6 666.2,577.9 662.0,580.0 C657.8,582.1 652.4,583.2 650.0,582.0 C647.6,580.8 647.5,575.3 646.0,572.0 C644.5,568.7 646.9,561.8 640.0,560.0 C633.1,558.2 614.2,558.5 600.0,560.0 C585.8,561.5 555.0,566.1 545.0,570.0 C535.0,573.9 538.0,582.7 533.0,586.0 C528.0,589.3 520.0,589.9 512.0,592.0 C504.1,594.1 486.3,610.8 480.0,600.0Z" fill="#a1d9da"/><path d="M712,548 C711,578 699,606 660,622 C635,630 612,630 588,625" fill="none" stroke="#22a0ac" stroke-width="4.2" stroke-linecap="round"/><path d="M716,525 C717,582 700,624 650,632 C630,635 610,634 595,631" fill="none" stroke="#9fd6d8" stroke-width="2.2"/><path d="M495.0,560.0 C494.9,555.5 493.4,539.0 494.0,530.0 C494.6,521.0 496.4,508.7 499.0,500.0 C501.6,491.3 506.4,479.6 511.0,472.0 C515.6,464.4 523.2,454.9 530.0,449.0 C536.8,443.1 547.0,436.6 556.0,433.0 C565.0,429.4 579.6,425.8 590.0,425.0 C600.4,424.2 619.8,427.6 625.0,428.0" fill="none" stroke="#fff" stroke-width="1.6" opacity="0.85" transform="translate(2.6 1.2)" /></g><path d="M489.8,520.0 C490.6,513.0 493.2,507.2 496.0,500.0 C498.8,492.8 504.0,479.9 508.5,472.3 C513.0,464.7 519.9,455.1 526.3,449.0 C532.7,442.9 543.2,435.3 551.2,431.4 C559.2,427.5 571.5,424.8 579.6,423.3 C587.7,421.8 596.6,420.9 605.0,421.6 C613.4,422.3 626.2,425.0 635.6,427.8 C645.0,430.6 659.6,435.7 667.6,440.2 C675.6,444.7 683.4,451.9 689.0,458.0 C694.6,464.1 701.3,473.5 705.0,481.2 C708.7,488.9 712.2,500.8 713.9,509.6 C715.6,518.4 716.5,531.5 716.5,540.0 C716.5,548.5 715.6,558.3 713.9,566.0 C712.2,573.7 709.0,583.7 705.0,591.2 C701.0,598.7 694.1,610.1 687.2,616.0 C680.3,621.9 667.8,627.5 658.7,630.3 C649.6,633.1 635.5,634.1 626.7,634.5 C617.9,634.9 607.3,634.2 600.0,633.0 C592.7,631.8 585.2,629.6 577.9,626.8 C570.6,624.0 559.2,618.3 551.2,614.3 C543.2,610.3 530.9,603.9 524.5,600.0 C518.1,596.1 512.8,592.5 508.5,588.0 C504.2,583.5 498.7,576.0 496.0,569.8 C493.3,563.6 491.4,554.2 490.5,546.7 C489.6,539.2 489.0,527.0 489.8,520.0Z" fill="none" stroke="#666" stroke-width="1"/><path d="M515.6,516.8 C516.4,509.9 518.6,498.8 521.0,491.9 C523.4,485.0 527.6,475.8 531.6,470.5 C535.6,465.2 541.5,459.4 547.6,456.3 C553.7,453.2 565.3,450.7 572.5,450.0 C579.7,449.3 590.0,450.9 595.7,451.8 C601.4,452.7 605.1,454.6 610.3,455.8 C615.5,457.0 625.1,457.6 630.2,459.8 C635.3,462.0 640.5,466.5 644.5,470.5 C648.5,474.5 654.2,480.6 657.0,486.5 C659.8,492.4 662.2,502.4 663.2,509.6 C664.2,516.8 665.5,527.3 664.0,534.6 C662.5,541.9 657.7,550.6 653.4,558.0 C649.1,565.4 640.9,578.0 635.6,584.0 C630.3,590.0 622.7,595.1 617.8,598.3 C612.9,601.4 607.6,604.5 603.0,605.0 C598.4,605.5 592.4,603.7 586.8,601.9 C581.2,600.1 571.3,596.5 565.4,593.0 C559.5,589.5 552.4,582.2 547.6,578.7 C542.8,575.2 537.4,573.3 533.4,569.8 C529.4,566.3 523.7,560.4 521.0,555.6 C518.3,550.8 516.4,543.6 515.6,537.8 C514.8,532.0 514.8,523.7 515.6,516.8Z" fill="#9d5b93"/><g clip-path="url(#nucclip)"><path d="M632.0,466.0 C632.5,464.8 644.2,475.7 648.0,482.0 C651.8,488.3 655.5,500.1 657.0,508.0 C658.5,516.0 659.2,527.8 658.0,535.0 C656.8,542.2 652.9,549.2 649.0,556.0 C645.1,562.8 637.2,574.3 632.0,580.0 C626.8,585.7 619.5,591.3 614.0,594.0 C608.5,596.7 601.6,598.8 595.0,598.0 C588.4,597.2 576.5,592.3 570.0,589.0 C563.5,585.7 551.2,577.4 552.0,576.0 C552.8,574.6 567.8,578.8 575.0,580.0 C582.2,581.2 592.6,585.8 600.0,584.0 C607.4,582.2 617.9,573.9 624.0,568.0 C630.1,562.1 637.4,553.0 641.0,545.0 C644.6,537.0 647.4,523.2 648.0,515.0 C648.6,506.8 647.4,497.4 645.0,490.0 C642.6,482.6 631.5,467.2 632.0,466.0Z" fill="#893b80"/><path d="M523.0,548.0 C522.0,548.0 522.2,524.1 523.0,515.0 C523.8,505.9 525.1,494.1 528.0,487.0 C530.9,479.9 535.7,472.2 542.0,468.0 C548.3,463.8 560.7,460.2 570.0,459.0 C579.3,457.8 594.7,458.9 604.0,460.0 C613.3,461.1 631.9,464.9 632.0,466.0 C632.1,467.1 613.5,466.9 605.0,467.0 C596.5,467.1 583.2,465.6 575.0,467.0 C566.8,468.4 555.9,472.2 550.0,476.0 C544.1,479.8 539.0,486.1 536.0,492.0 C533.0,497.9 532.0,506.6 530.0,515.0 C528.0,523.4 524.0,548.0 523.0,548.0Z" fill="#b98bb6"/></g><path d="M515.6,516.8 C516.4,509.9 518.6,498.8 521.0,491.9 C523.4,485.0 527.6,475.8 531.6,470.5 C535.6,465.2 541.5,459.4 547.6,456.3 C553.7,453.2 565.3,450.7 572.5,450.0 C579.7,449.3 590.0,450.9 595.7,451.8 C601.4,452.7 605.1,454.6 610.3,455.8 C615.5,457.0 625.1,457.6 630.2,459.8 C635.3,462.0 640.5,466.5 644.5,470.5 C648.5,474.5 654.2,480.6 657.0,486.5 C659.8,492.4 662.2,502.4 663.2,509.6 C664.2,516.8 665.5,527.3 664.0,534.6 C662.5,541.9 657.7,550.6 653.4,558.0 C649.1,565.4 640.9,578.0 635.6,584.0 C630.3,590.0 622.7,595.1 617.8,598.3 C612.9,601.4 607.6,604.5 603.0,605.0 C598.4,605.5 592.4,603.7 586.8,601.9 C581.2,600.1 571.3,596.5 565.4,593.0 C559.5,589.5 552.4,582.2 547.6,578.7 C542.8,575.2 537.4,573.3 533.4,569.8 C529.4,566.3 523.7,560.4 521.0,555.6 C518.3,550.8 516.4,543.6 515.6,537.8 C514.8,532.0 514.8,523.7 515.6,516.8Z" fill="none" stroke="#7a3a70" stroke-width="0.8" opacity="0.6"/><circle cx="530.4" cy="479" r="7" fill="#fff"/><circle cx="523.4" cy="492.5" r="4.6" fill="#fff"/><circle cx="542" cy="468" r="3.6" fill="#fff"/><rect x="705.5" y="499.5" width="18.5" height="53.5" fill="none" stroke="#000" stroke-width="5"/><line x1="726" y1="511.5" x2="926" y2="414.9" stroke="#000" stroke-width="9.5"/><polygon points="921.06,404.26 939.9,407.9 930.78,423.9" fill="#000" stroke="#000" stroke-width="4" stroke-linejoin="round"/></svg>
<div class="t" style="left:448px;top:660.5px;font-size:49px;letter-spacing:0.5px;-webkit-text-stroke:0.7px #222">Chondrocyte</div>
<div class="t" style="left:925px;top:653.1px;font-size:66px;-webkit-text-stroke:0.6px #222">A</div>
</body></html>
